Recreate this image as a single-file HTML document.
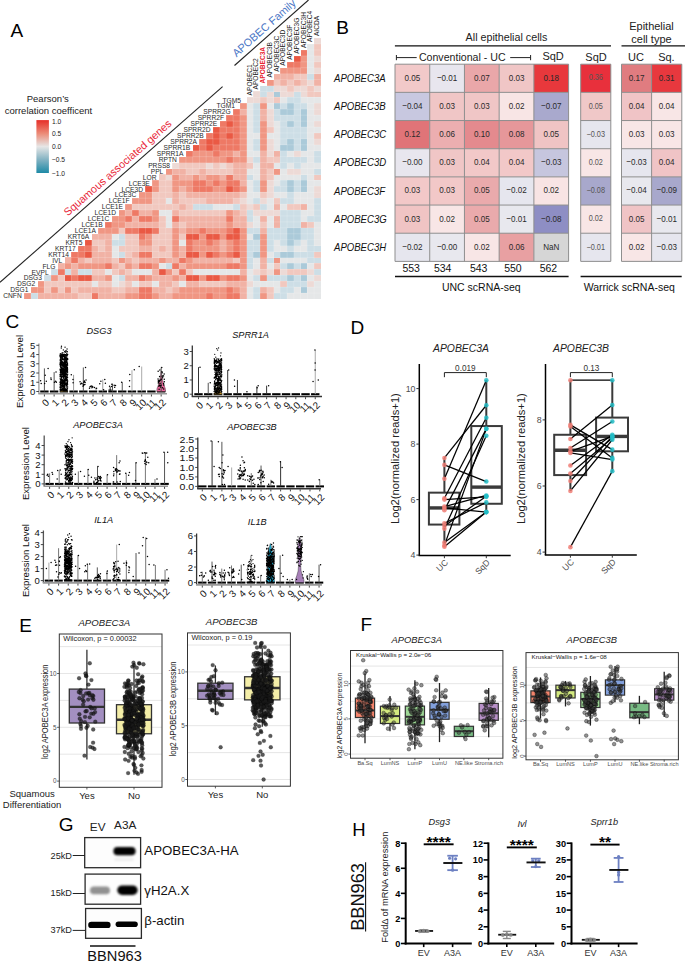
<!DOCTYPE html>
<html><head><meta charset="utf-8"><style>
html,body{margin:0;padding:0;background:#fff;}
svg{display:block;font-family:"Liberation Sans", sans-serif;}
</style></head><body>
<svg width="685" height="962" viewBox="0 0 685 962">
<rect width="685" height="962" fill="#fff"/>
<text x="10.60" y="36.70" font-size="19">A</text><g shape-rendering="crispEdges"><rect x="24.10" y="293.07" width="6.79" height="5.98" fill="#f09683"/><rect x="30.84" y="293.07" width="6.79" height="5.98" fill="#cddee6"/><rect x="37.59" y="293.07" width="6.79" height="5.98" fill="#f1b2a5"/><rect x="44.33" y="293.07" width="6.79" height="5.98" fill="#f1b2a5"/><rect x="51.07" y="293.07" width="6.79" height="5.98" fill="#f1b2a5"/><rect x="57.82" y="293.07" width="6.79" height="5.98" fill="#f1b2a5"/><rect x="64.56" y="293.07" width="6.79" height="5.98" fill="#f1b2a5"/><rect x="71.30" y="293.07" width="6.79" height="5.98" fill="#f1b2a5"/><rect x="78.04" y="293.07" width="6.79" height="5.98" fill="#f1c8bf"/><rect x="84.79" y="293.07" width="6.79" height="5.98" fill="#f1c8bf"/><rect x="91.53" y="293.07" width="6.79" height="5.98" fill="#ee7965"/><rect x="98.27" y="293.07" width="6.79" height="5.98" fill="#f1b2a5"/><rect x="105.02" y="293.07" width="6.79" height="5.98" fill="#f1b2a5"/><rect x="111.76" y="293.07" width="6.79" height="5.98" fill="#f1b2a5"/><rect x="118.50" y="293.07" width="6.79" height="5.98" fill="#f1b2a5"/><rect x="125.25" y="293.07" width="6.79" height="5.98" fill="#f09683"/><rect x="131.99" y="293.07" width="6.79" height="5.98" fill="#f09683"/><rect x="138.73" y="293.07" width="6.79" height="5.98" fill="#ee7965"/><rect x="145.47" y="293.07" width="6.79" height="5.98" fill="#ee7965"/><rect x="152.22" y="293.07" width="6.79" height="5.98" fill="#f09683"/><rect x="158.96" y="293.07" width="6.79" height="5.98" fill="#f1b2a5"/><rect x="165.70" y="293.07" width="6.79" height="5.98" fill="#f1b2a5"/><rect x="172.45" y="293.07" width="6.79" height="5.98" fill="#f09683"/><rect x="179.19" y="293.07" width="6.79" height="5.98" fill="#f09683"/><rect x="185.93" y="293.07" width="6.79" height="5.98" fill="#f09683"/><rect x="192.68" y="293.07" width="6.79" height="5.98" fill="#f09683"/><rect x="199.42" y="293.07" width="6.79" height="5.98" fill="#f09683"/><rect x="206.16" y="293.07" width="6.79" height="5.98" fill="#ee7965"/><rect x="212.90" y="293.07" width="6.79" height="5.98" fill="#f09683"/><rect x="219.65" y="293.07" width="6.79" height="5.98" fill="#f09683"/><rect x="226.39" y="293.07" width="6.79" height="5.98" fill="#ee7965"/><rect x="233.13" y="293.07" width="6.79" height="5.98" fill="#ee7965"/><rect x="239.88" y="293.07" width="6.79" height="5.98" fill="#f1b2a5"/><rect x="246.62" y="293.07" width="6.79" height="5.98" fill="#e5e7e8"/><rect x="253.36" y="293.07" width="6.79" height="5.98" fill="#cddee6"/><rect x="260.11" y="293.07" width="6.79" height="5.98" fill="#f09683"/><rect x="266.85" y="293.07" width="6.79" height="5.98" fill="#f1c8bf"/><rect x="273.59" y="293.07" width="6.79" height="5.98" fill="#cddee6"/><rect x="280.33" y="293.07" width="6.79" height="5.98" fill="#cddee6"/><rect x="287.08" y="293.07" width="6.79" height="5.98" fill="#e5e7e8"/><rect x="293.82" y="293.07" width="6.79" height="5.98" fill="#e5e7e8"/><rect x="300.56" y="293.07" width="6.79" height="5.98" fill="#e5e7e8"/><rect x="307.31" y="293.07" width="6.79" height="5.98" fill="#e5e7e8"/><rect x="314.05" y="293.07" width="6.79" height="5.98" fill="#e5e7e8"/><rect x="30.84" y="287.14" width="6.79" height="5.98" fill="#f09683"/><rect x="37.59" y="287.14" width="6.79" height="5.98" fill="#f09683"/><rect x="44.33" y="287.14" width="6.79" height="5.98" fill="#f1c8bf"/><rect x="51.07" y="287.14" width="6.79" height="5.98" fill="#f09683"/><rect x="57.82" y="287.14" width="6.79" height="5.98" fill="#f1c8bf"/><rect x="64.56" y="287.14" width="6.79" height="5.98" fill="#f09683"/><rect x="71.30" y="287.14" width="6.79" height="5.98" fill="#f1c8bf"/><rect x="78.04" y="287.14" width="6.79" height="5.98" fill="#f1b2a5"/><rect x="84.79" y="287.14" width="6.79" height="5.98" fill="#f1b2a5"/><rect x="91.53" y="287.14" width="6.79" height="5.98" fill="#f1b2a5"/><rect x="98.27" y="287.14" width="6.79" height="5.98" fill="#f1b2a5"/><rect x="105.02" y="287.14" width="6.79" height="5.98" fill="#f1b2a5"/><rect x="111.76" y="287.14" width="6.79" height="5.98" fill="#f1c8bf"/><rect x="118.50" y="287.14" width="6.79" height="5.98" fill="#f1c8bf"/><rect x="125.25" y="287.14" width="6.79" height="5.98" fill="#f1b2a5"/><rect x="131.99" y="287.14" width="6.79" height="5.98" fill="#f1b2a5"/><rect x="138.73" y="287.14" width="6.79" height="5.98" fill="#ee7965"/><rect x="145.47" y="287.14" width="6.79" height="5.98" fill="#ee7965"/><rect x="152.22" y="287.14" width="6.79" height="5.98" fill="#f1b2a5"/><rect x="158.96" y="287.14" width="6.79" height="5.98" fill="#f1b2a5"/><rect x="165.70" y="287.14" width="6.79" height="5.98" fill="#f1c8bf"/><rect x="172.45" y="287.14" width="6.79" height="5.98" fill="#f1b2a5"/><rect x="179.19" y="287.14" width="6.79" height="5.98" fill="#f09683"/><rect x="185.93" y="287.14" width="6.79" height="5.98" fill="#f09683"/><rect x="192.68" y="287.14" width="6.79" height="5.98" fill="#f09683"/><rect x="199.42" y="287.14" width="6.79" height="5.98" fill="#f09683"/><rect x="206.16" y="287.14" width="6.79" height="5.98" fill="#f09683"/><rect x="212.90" y="287.14" width="6.79" height="5.98" fill="#f09683"/><rect x="219.65" y="287.14" width="6.79" height="5.98" fill="#f09683"/><rect x="226.39" y="287.14" width="6.79" height="5.98" fill="#ee7965"/><rect x="233.13" y="287.14" width="6.79" height="5.98" fill="#f09683"/><rect x="239.88" y="287.14" width="6.79" height="5.98" fill="#f1b2a5"/><rect x="246.62" y="287.14" width="6.79" height="5.98" fill="#e5e7e8"/><rect x="253.36" y="287.14" width="6.79" height="5.98" fill="#cddee6"/><rect x="260.11" y="287.14" width="6.79" height="5.98" fill="#f1b2a5"/><rect x="266.85" y="287.14" width="6.79" height="5.98" fill="#f1c8bf"/><rect x="273.59" y="287.14" width="6.79" height="5.98" fill="#e5e7e8"/><rect x="280.33" y="287.14" width="6.79" height="5.98" fill="#cddee6"/><rect x="287.08" y="287.14" width="6.79" height="5.98" fill="#cddee6"/><rect x="293.82" y="287.14" width="6.79" height="5.98" fill="#e5e7e8"/><rect x="300.56" y="287.14" width="6.79" height="5.98" fill="#abcad9"/><rect x="307.31" y="287.14" width="6.79" height="5.98" fill="#e5e7e8"/><rect x="314.05" y="287.14" width="6.79" height="5.98" fill="#e5e7e8"/><rect x="37.59" y="281.21" width="6.79" height="5.98" fill="#f09683"/><rect x="44.33" y="281.21" width="6.79" height="5.98" fill="#f1c8bf"/><rect x="51.07" y="281.21" width="6.79" height="5.98" fill="#f1c8bf"/><rect x="57.82" y="281.21" width="6.79" height="5.98" fill="#f1c8bf"/><rect x="64.56" y="281.21" width="6.79" height="5.98" fill="#f1c8bf"/><rect x="71.30" y="281.21" width="6.79" height="5.98" fill="#f1c8bf"/><rect x="78.04" y="281.21" width="6.79" height="5.98" fill="#f1c8bf"/><rect x="84.79" y="281.21" width="6.79" height="5.98" fill="#f1c8bf"/><rect x="91.53" y="281.21" width="6.79" height="5.98" fill="#e5e7e8"/><rect x="98.27" y="281.21" width="6.79" height="5.98" fill="#f1c8bf"/><rect x="105.02" y="281.21" width="6.79" height="5.98" fill="#f1c8bf"/><rect x="111.76" y="281.21" width="6.79" height="5.98" fill="#e5e7e8"/><rect x="118.50" y="281.21" width="6.79" height="5.98" fill="#eddad6"/><rect x="125.25" y="281.21" width="6.79" height="5.98" fill="#f1c8bf"/><rect x="131.99" y="281.21" width="6.79" height="5.98" fill="#e5e7e8"/><rect x="138.73" y="281.21" width="6.79" height="5.98" fill="#f1c8bf"/><rect x="145.47" y="281.21" width="6.79" height="5.98" fill="#f1c8bf"/><rect x="152.22" y="281.21" width="6.79" height="5.98" fill="#e5e7e8"/><rect x="158.96" y="281.21" width="6.79" height="5.98" fill="#f1b2a5"/><rect x="165.70" y="281.21" width="6.79" height="5.98" fill="#f1b2a5"/><rect x="172.45" y="281.21" width="6.79" height="5.98" fill="#f1c8bf"/><rect x="179.19" y="281.21" width="6.79" height="5.98" fill="#e5e7e8"/><rect x="185.93" y="281.21" width="6.79" height="5.98" fill="#f1b2a5"/><rect x="192.68" y="281.21" width="6.79" height="5.98" fill="#f1b2a5"/><rect x="199.42" y="281.21" width="6.79" height="5.98" fill="#f1c8bf"/><rect x="206.16" y="281.21" width="6.79" height="5.98" fill="#f1c8bf"/><rect x="212.90" y="281.21" width="6.79" height="5.98" fill="#f1c8bf"/><rect x="219.65" y="281.21" width="6.79" height="5.98" fill="#f1c8bf"/><rect x="226.39" y="281.21" width="6.79" height="5.98" fill="#f1b2a5"/><rect x="233.13" y="281.21" width="6.79" height="5.98" fill="#f1b2a5"/><rect x="239.88" y="281.21" width="6.79" height="5.98" fill="#f1b2a5"/><rect x="246.62" y="281.21" width="6.79" height="5.98" fill="#eddad6"/><rect x="253.36" y="281.21" width="6.79" height="5.98" fill="#e5e7e8"/><rect x="260.11" y="281.21" width="6.79" height="5.98" fill="#e5e7e8"/><rect x="266.85" y="281.21" width="6.79" height="5.98" fill="#e5e7e8"/><rect x="273.59" y="281.21" width="6.79" height="5.98" fill="#e5e7e8"/><rect x="280.33" y="281.21" width="6.79" height="5.98" fill="#f1c8bf"/><rect x="287.08" y="281.21" width="6.79" height="5.98" fill="#cddee6"/><rect x="293.82" y="281.21" width="6.79" height="5.98" fill="#cddee6"/><rect x="300.56" y="281.21" width="6.79" height="5.98" fill="#cddee6"/><rect x="307.31" y="281.21" width="6.79" height="5.98" fill="#eddad6"/><rect x="314.05" y="281.21" width="6.79" height="5.98" fill="#e5e7e8"/><rect x="44.33" y="275.28" width="6.79" height="5.98" fill="#cddee6"/><rect x="51.07" y="275.28" width="6.79" height="5.98" fill="#f09683"/><rect x="57.82" y="275.28" width="6.79" height="5.98" fill="#f1c8bf"/><rect x="64.56" y="275.28" width="6.79" height="5.98" fill="#ea5944"/><rect x="71.30" y="275.28" width="6.79" height="5.98" fill="#ee7965"/><rect x="78.04" y="275.28" width="6.79" height="5.98" fill="#ea5944"/><rect x="84.79" y="275.28" width="6.79" height="5.98" fill="#ea5944"/><rect x="91.53" y="275.28" width="6.79" height="5.98" fill="#f1b2a5"/><rect x="98.27" y="275.28" width="6.79" height="5.98" fill="#f1b2a5"/><rect x="105.02" y="275.28" width="6.79" height="5.98" fill="#f09683"/><rect x="111.76" y="275.28" width="6.79" height="5.98" fill="#e5e7e8"/><rect x="118.50" y="275.28" width="6.79" height="5.98" fill="#cddee6"/><rect x="125.25" y="275.28" width="6.79" height="5.98" fill="#f1b2a5"/><rect x="131.99" y="275.28" width="6.79" height="5.98" fill="#f1b2a5"/><rect x="138.73" y="275.28" width="6.79" height="5.98" fill="#ee7965"/><rect x="145.47" y="275.28" width="6.79" height="5.98" fill="#f09683"/><rect x="152.22" y="275.28" width="6.79" height="5.98" fill="#f1b2a5"/><rect x="158.96" y="275.28" width="6.79" height="5.98" fill="#f1b2a5"/><rect x="165.70" y="275.28" width="6.79" height="5.98" fill="#f1b2a5"/><rect x="172.45" y="275.28" width="6.79" height="5.98" fill="#f09683"/><rect x="179.19" y="275.28" width="6.79" height="5.98" fill="#f1b2a5"/><rect x="185.93" y="275.28" width="6.79" height="5.98" fill="#ea5944"/><rect x="192.68" y="275.28" width="6.79" height="5.98" fill="#ea5944"/><rect x="199.42" y="275.28" width="6.79" height="5.98" fill="#f09683"/><rect x="206.16" y="275.28" width="6.79" height="5.98" fill="#ea5944"/><rect x="212.90" y="275.28" width="6.79" height="5.98" fill="#ea5944"/><rect x="219.65" y="275.28" width="6.79" height="5.98" fill="#f09683"/><rect x="226.39" y="275.28" width="6.79" height="5.98" fill="#ee7965"/><rect x="233.13" y="275.28" width="6.79" height="5.98" fill="#ee7965"/><rect x="239.88" y="275.28" width="6.79" height="5.98" fill="#f09683"/><rect x="246.62" y="275.28" width="6.79" height="5.98" fill="#e5e7e8"/><rect x="253.36" y="275.28" width="6.79" height="5.98" fill="#cddee6"/><rect x="260.11" y="275.28" width="6.79" height="5.98" fill="#f09683"/><rect x="266.85" y="275.28" width="6.79" height="5.98" fill="#cddee6"/><rect x="273.59" y="275.28" width="6.79" height="5.98" fill="#cddee6"/><rect x="280.33" y="275.28" width="6.79" height="5.98" fill="#cddee6"/><rect x="287.08" y="275.28" width="6.79" height="5.98" fill="#abcad9"/><rect x="293.82" y="275.28" width="6.79" height="5.98" fill="#cddee6"/><rect x="300.56" y="275.28" width="6.79" height="5.98" fill="#abcad9"/><rect x="307.31" y="275.28" width="6.79" height="5.98" fill="#e5e7e8"/><rect x="314.05" y="275.28" width="6.79" height="5.98" fill="#eddad6"/><rect x="51.07" y="269.35" width="6.79" height="5.98" fill="#cddee6"/><rect x="57.82" y="269.35" width="6.79" height="5.98" fill="#ee7965"/><rect x="64.56" y="269.35" width="6.79" height="5.98" fill="#cddee6"/><rect x="71.30" y="269.35" width="6.79" height="5.98" fill="#f1b2a5"/><rect x="78.04" y="269.35" width="6.79" height="5.98" fill="#cddee6"/><rect x="84.79" y="269.35" width="6.79" height="5.98" fill="#cddee6"/><rect x="91.53" y="269.35" width="6.79" height="5.98" fill="#f1c8bf"/><rect x="98.27" y="269.35" width="6.79" height="5.98" fill="#f1c8bf"/><rect x="105.02" y="269.35" width="6.79" height="5.98" fill="#e5e7e8"/><rect x="111.76" y="269.35" width="6.79" height="5.98" fill="#f1c8bf"/><rect x="118.50" y="269.35" width="6.79" height="5.98" fill="#f1b2a5"/><rect x="125.25" y="269.35" width="6.79" height="5.98" fill="#f1c8bf"/><rect x="131.99" y="269.35" width="6.79" height="5.98" fill="#e5e7e8"/><rect x="138.73" y="269.35" width="6.79" height="5.98" fill="#e5e7e8"/><rect x="145.47" y="269.35" width="6.79" height="5.98" fill="#e5e7e8"/><rect x="152.22" y="269.35" width="6.79" height="5.98" fill="#f1b2a5"/><rect x="158.96" y="269.35" width="6.79" height="5.98" fill="#ea5944"/><rect x="165.70" y="269.35" width="6.79" height="5.98" fill="#f09683"/><rect x="172.45" y="269.35" width="6.79" height="5.98" fill="#f1c8bf"/><rect x="179.19" y="269.35" width="6.79" height="5.98" fill="#ee7965"/><rect x="185.93" y="269.35" width="6.79" height="5.98" fill="#f1c8bf"/><rect x="192.68" y="269.35" width="6.79" height="5.98" fill="#e5e7e8"/><rect x="199.42" y="269.35" width="6.79" height="5.98" fill="#e5e7e8"/><rect x="206.16" y="269.35" width="6.79" height="5.98" fill="#e5e7e8"/><rect x="212.90" y="269.35" width="6.79" height="5.98" fill="#e5e7e8"/><rect x="219.65" y="269.35" width="6.79" height="5.98" fill="#e5e7e8"/><rect x="226.39" y="269.35" width="6.79" height="5.98" fill="#e5e7e8"/><rect x="233.13" y="269.35" width="6.79" height="5.98" fill="#e5e7e8"/><rect x="239.88" y="269.35" width="6.79" height="5.98" fill="#f1b2a5"/><rect x="246.62" y="269.35" width="6.79" height="5.98" fill="#e5e7e8"/><rect x="253.36" y="269.35" width="6.79" height="5.98" fill="#eddad6"/><rect x="260.11" y="269.35" width="6.79" height="5.98" fill="#f1c8bf"/><rect x="266.85" y="269.35" width="6.79" height="5.98" fill="#eddad6"/><rect x="273.59" y="269.35" width="6.79" height="5.98" fill="#f09683"/><rect x="280.33" y="269.35" width="6.79" height="5.98" fill="#eddad6"/><rect x="287.08" y="269.35" width="6.79" height="5.98" fill="#f1c8bf"/><rect x="293.82" y="269.35" width="6.79" height="5.98" fill="#f1c8bf"/><rect x="300.56" y="269.35" width="6.79" height="5.98" fill="#f1c8bf"/><rect x="307.31" y="269.35" width="6.79" height="5.98" fill="#eddad6"/><rect x="314.05" y="269.35" width="6.79" height="5.98" fill="#cddee6"/><rect x="57.82" y="263.42" width="6.79" height="5.98" fill="#f1b2a5"/><rect x="64.56" y="263.42" width="6.79" height="5.98" fill="#f09683"/><rect x="71.30" y="263.42" width="6.79" height="5.98" fill="#f1b2a5"/><rect x="78.04" y="263.42" width="6.79" height="5.98" fill="#f09683"/><rect x="84.79" y="263.42" width="6.79" height="5.98" fill="#f09683"/><rect x="91.53" y="263.42" width="6.79" height="5.98" fill="#f09683"/><rect x="98.27" y="263.42" width="6.79" height="5.98" fill="#f09683"/><rect x="105.02" y="263.42" width="6.79" height="5.98" fill="#ee7965"/><rect x="111.76" y="263.42" width="6.79" height="5.98" fill="#f1b2a5"/><rect x="118.50" y="263.42" width="6.79" height="5.98" fill="#f1c8bf"/><rect x="125.25" y="263.42" width="6.79" height="5.98" fill="#f09683"/><rect x="131.99" y="263.42" width="6.79" height="5.98" fill="#f1b2a5"/><rect x="138.73" y="263.42" width="6.79" height="5.98" fill="#ee7965"/><rect x="145.47" y="263.42" width="6.79" height="5.98" fill="#ee7965"/><rect x="152.22" y="263.42" width="6.79" height="5.98" fill="#f09683"/><rect x="158.96" y="263.42" width="6.79" height="5.98" fill="#e5e7e8"/><rect x="165.70" y="263.42" width="6.79" height="5.98" fill="#cddee6"/><rect x="172.45" y="263.42" width="6.79" height="5.98" fill="#ee7965"/><rect x="179.19" y="263.42" width="6.79" height="5.98" fill="#f1b2a5"/><rect x="185.93" y="263.42" width="6.79" height="5.98" fill="#f09683"/><rect x="192.68" y="263.42" width="6.79" height="5.98" fill="#f09683"/><rect x="199.42" y="263.42" width="6.79" height="5.98" fill="#f09683"/><rect x="206.16" y="263.42" width="6.79" height="5.98" fill="#f09683"/><rect x="212.90" y="263.42" width="6.79" height="5.98" fill="#f09683"/><rect x="219.65" y="263.42" width="6.79" height="5.98" fill="#f09683"/><rect x="226.39" y="263.42" width="6.79" height="5.98" fill="#ee7965"/><rect x="233.13" y="263.42" width="6.79" height="5.98" fill="#ee7965"/><rect x="239.88" y="263.42" width="6.79" height="5.98" fill="#f09683"/><rect x="246.62" y="263.42" width="6.79" height="5.98" fill="#cddee6"/><rect x="253.36" y="263.42" width="6.79" height="5.98" fill="#e5e7e8"/><rect x="260.11" y="263.42" width="6.79" height="5.98" fill="#f1b2a5"/><rect x="266.85" y="263.42" width="6.79" height="5.98" fill="#e5e7e8"/><rect x="273.59" y="263.42" width="6.79" height="5.98" fill="#f1c8bf"/><rect x="280.33" y="263.42" width="6.79" height="5.98" fill="#cddee6"/><rect x="287.08" y="263.42" width="6.79" height="5.98" fill="#abcad9"/><rect x="293.82" y="263.42" width="6.79" height="5.98" fill="#cddee6"/><rect x="300.56" y="263.42" width="6.79" height="5.98" fill="#abcad9"/><rect x="307.31" y="263.42" width="6.79" height="5.98" fill="#e5e7e8"/><rect x="314.05" y="263.42" width="6.79" height="5.98" fill="#f1c8bf"/><rect x="64.56" y="257.49" width="6.79" height="5.98" fill="#f1b2a5"/><rect x="71.30" y="257.49" width="6.79" height="5.98" fill="#ee7965"/><rect x="78.04" y="257.49" width="6.79" height="5.98" fill="#f1b2a5"/><rect x="84.79" y="257.49" width="6.79" height="5.98" fill="#f1c8bf"/><rect x="91.53" y="257.49" width="6.79" height="5.98" fill="#f1b2a5"/><rect x="98.27" y="257.49" width="6.79" height="5.98" fill="#f1b2a5"/><rect x="105.02" y="257.49" width="6.79" height="5.98" fill="#f1b2a5"/><rect x="111.76" y="257.49" width="6.79" height="5.98" fill="#f1c8bf"/><rect x="118.50" y="257.49" width="6.79" height="5.98" fill="#f09683"/><rect x="125.25" y="257.49" width="6.79" height="5.98" fill="#f1b2a5"/><rect x="131.99" y="257.49" width="6.79" height="5.98" fill="#f1c8bf"/><rect x="138.73" y="257.49" width="6.79" height="5.98" fill="#f1b2a5"/><rect x="145.47" y="257.49" width="6.79" height="5.98" fill="#f1b2a5"/><rect x="152.22" y="257.49" width="6.79" height="5.98" fill="#f1b2a5"/><rect x="158.96" y="257.49" width="6.79" height="5.98" fill="#f09683"/><rect x="165.70" y="257.49" width="6.79" height="5.98" fill="#f1b2a5"/><rect x="172.45" y="257.49" width="6.79" height="5.98" fill="#f1b2a5"/><rect x="179.19" y="257.49" width="6.79" height="5.98" fill="#ee7965"/><rect x="185.93" y="257.49" width="6.79" height="5.98" fill="#f09683"/><rect x="192.68" y="257.49" width="6.79" height="5.98" fill="#f1b2a5"/><rect x="199.42" y="257.49" width="6.79" height="5.98" fill="#f1b2a5"/><rect x="206.16" y="257.49" width="6.79" height="5.98" fill="#f1b2a5"/><rect x="212.90" y="257.49" width="6.79" height="5.98" fill="#f1b2a5"/><rect x="219.65" y="257.49" width="6.79" height="5.98" fill="#f1b2a5"/><rect x="226.39" y="257.49" width="6.79" height="5.98" fill="#f1b2a5"/><rect x="233.13" y="257.49" width="6.79" height="5.98" fill="#f1c8bf"/><rect x="239.88" y="257.49" width="6.79" height="5.98" fill="#f09683"/><rect x="246.62" y="257.49" width="6.79" height="5.98" fill="#cddee6"/><rect x="253.36" y="257.49" width="6.79" height="5.98" fill="#e5e7e8"/><rect x="260.11" y="257.49" width="6.79" height="5.98" fill="#f1b2a5"/><rect x="266.85" y="257.49" width="6.79" height="5.98" fill="#cddee6"/><rect x="273.59" y="257.49" width="6.79" height="5.98" fill="#f09683"/><rect x="280.33" y="257.49" width="6.79" height="5.98" fill="#e5e7e8"/><rect x="287.08" y="257.49" width="6.79" height="5.98" fill="#e5e7e8"/><rect x="293.82" y="257.49" width="6.79" height="5.98" fill="#e5e7e8"/><rect x="300.56" y="257.49" width="6.79" height="5.98" fill="#e5e7e8"/><rect x="307.31" y="257.49" width="6.79" height="5.98" fill="#cddee6"/><rect x="314.05" y="257.49" width="6.79" height="5.98" fill="#cddee6"/><rect x="71.30" y="251.56" width="6.79" height="5.98" fill="#ee7965"/><rect x="78.04" y="251.56" width="6.79" height="5.98" fill="#ee7965"/><rect x="84.79" y="251.56" width="6.79" height="5.98" fill="#ea5944"/><rect x="91.53" y="251.56" width="6.79" height="5.98" fill="#f1b2a5"/><rect x="98.27" y="251.56" width="6.79" height="5.98" fill="#f1b2a5"/><rect x="105.02" y="251.56" width="6.79" height="5.98" fill="#f1b2a5"/><rect x="111.76" y="251.56" width="6.79" height="5.98" fill="#e5e7e8"/><rect x="118.50" y="251.56" width="6.79" height="5.98" fill="#cddee6"/><rect x="125.25" y="251.56" width="6.79" height="5.98" fill="#f1c8bf"/><rect x="131.99" y="251.56" width="6.79" height="5.98" fill="#f1b2a5"/><rect x="138.73" y="251.56" width="6.79" height="5.98" fill="#ee7965"/><rect x="145.47" y="251.56" width="6.79" height="5.98" fill="#ee7965"/><rect x="152.22" y="251.56" width="6.79" height="5.98" fill="#f1c8bf"/><rect x="158.96" y="251.56" width="6.79" height="5.98" fill="#f1c8bf"/><rect x="165.70" y="251.56" width="6.79" height="5.98" fill="#f1c8bf"/><rect x="172.45" y="251.56" width="6.79" height="5.98" fill="#f09683"/><rect x="179.19" y="251.56" width="6.79" height="5.98" fill="#f1b2a5"/><rect x="185.93" y="251.56" width="6.79" height="5.98" fill="#ea5944"/><rect x="192.68" y="251.56" width="6.79" height="5.98" fill="#ea5944"/><rect x="199.42" y="251.56" width="6.79" height="5.98" fill="#f09683"/><rect x="206.16" y="251.56" width="6.79" height="5.98" fill="#ea5944"/><rect x="212.90" y="251.56" width="6.79" height="5.98" fill="#ee7965"/><rect x="219.65" y="251.56" width="6.79" height="5.98" fill="#f09683"/><rect x="226.39" y="251.56" width="6.79" height="5.98" fill="#ee7965"/><rect x="233.13" y="251.56" width="6.79" height="5.98" fill="#ea5944"/><rect x="239.88" y="251.56" width="6.79" height="5.98" fill="#f09683"/><rect x="246.62" y="251.56" width="6.79" height="5.98" fill="#cddee6"/><rect x="253.36" y="251.56" width="6.79" height="5.98" fill="#abcad9"/><rect x="260.11" y="251.56" width="6.79" height="5.98" fill="#f09683"/><rect x="266.85" y="251.56" width="6.79" height="5.98" fill="#e5e7e8"/><rect x="273.59" y="251.56" width="6.79" height="5.98" fill="#cddee6"/><rect x="280.33" y="251.56" width="6.79" height="5.98" fill="#abcad9"/><rect x="287.08" y="251.56" width="6.79" height="5.98" fill="#abcad9"/><rect x="293.82" y="251.56" width="6.79" height="5.98" fill="#cddee6"/><rect x="300.56" y="251.56" width="6.79" height="5.98" fill="#cddee6"/><rect x="307.31" y="251.56" width="6.79" height="5.98" fill="#cddee6"/><rect x="314.05" y="251.56" width="6.79" height="5.98" fill="#f1c8bf"/><rect x="78.04" y="245.63" width="6.79" height="5.98" fill="#ee7965"/><rect x="84.79" y="245.63" width="6.79" height="5.98" fill="#ee7965"/><rect x="91.53" y="245.63" width="6.79" height="5.98" fill="#f1b2a5"/><rect x="98.27" y="245.63" width="6.79" height="5.98" fill="#f1c8bf"/><rect x="105.02" y="245.63" width="6.79" height="5.98" fill="#f1b2a5"/><rect x="111.76" y="245.63" width="6.79" height="5.98" fill="#e5e7e8"/><rect x="118.50" y="245.63" width="6.79" height="5.98" fill="#f1c8bf"/><rect x="125.25" y="245.63" width="6.79" height="5.98" fill="#f1c8bf"/><rect x="131.99" y="245.63" width="6.79" height="5.98" fill="#f1c8bf"/><rect x="138.73" y="245.63" width="6.79" height="5.98" fill="#f1b2a5"/><rect x="145.47" y="245.63" width="6.79" height="5.98" fill="#f1b2a5"/><rect x="152.22" y="245.63" width="6.79" height="5.98" fill="#f1c8bf"/><rect x="158.96" y="245.63" width="6.79" height="5.98" fill="#f1b2a5"/><rect x="165.70" y="245.63" width="6.79" height="5.98" fill="#f1c8bf"/><rect x="172.45" y="245.63" width="6.79" height="5.98" fill="#f09683"/><rect x="179.19" y="245.63" width="6.79" height="5.98" fill="#f1b2a5"/><rect x="185.93" y="245.63" width="6.79" height="5.98" fill="#ee7965"/><rect x="192.68" y="245.63" width="6.79" height="5.98" fill="#f09683"/><rect x="199.42" y="245.63" width="6.79" height="5.98" fill="#f09683"/><rect x="206.16" y="245.63" width="6.79" height="5.98" fill="#f09683"/><rect x="212.90" y="245.63" width="6.79" height="5.98" fill="#f09683"/><rect x="219.65" y="245.63" width="6.79" height="5.98" fill="#f1b2a5"/><rect x="226.39" y="245.63" width="6.79" height="5.98" fill="#f09683"/><rect x="233.13" y="245.63" width="6.79" height="5.98" fill="#ee7965"/><rect x="239.88" y="245.63" width="6.79" height="5.98" fill="#f09683"/><rect x="246.62" y="245.63" width="6.79" height="5.98" fill="#cddee6"/><rect x="253.36" y="245.63" width="6.79" height="5.98" fill="#cddee6"/><rect x="260.11" y="245.63" width="6.79" height="5.98" fill="#f09683"/><rect x="266.85" y="245.63" width="6.79" height="5.98" fill="#cddee6"/><rect x="273.59" y="245.63" width="6.79" height="5.98" fill="#e5e7e8"/><rect x="280.33" y="245.63" width="6.79" height="5.98" fill="#e5e7e8"/><rect x="287.08" y="245.63" width="6.79" height="5.98" fill="#cddee6"/><rect x="293.82" y="245.63" width="6.79" height="5.98" fill="#e5e7e8"/><rect x="300.56" y="245.63" width="6.79" height="5.98" fill="#e5e7e8"/><rect x="307.31" y="245.63" width="6.79" height="5.98" fill="#cddee6"/><rect x="314.05" y="245.63" width="6.79" height="5.98" fill="#cddee6"/><rect x="84.79" y="239.70" width="6.79" height="5.98" fill="#ea5944"/><rect x="91.53" y="239.70" width="6.79" height="5.98" fill="#f1c8bf"/><rect x="98.27" y="239.70" width="6.79" height="5.98" fill="#f1c8bf"/><rect x="105.02" y="239.70" width="6.79" height="5.98" fill="#f1b2a5"/><rect x="111.76" y="239.70" width="6.79" height="5.98" fill="#cddee6"/><rect x="118.50" y="239.70" width="6.79" height="5.98" fill="#cddee6"/><rect x="125.25" y="239.70" width="6.79" height="5.98" fill="#f1c8bf"/><rect x="131.99" y="239.70" width="6.79" height="5.98" fill="#f1c8bf"/><rect x="138.73" y="239.70" width="6.79" height="5.98" fill="#f09683"/><rect x="145.47" y="239.70" width="6.79" height="5.98" fill="#f09683"/><rect x="152.22" y="239.70" width="6.79" height="5.98" fill="#f1c8bf"/><rect x="158.96" y="239.70" width="6.79" height="5.98" fill="#f1c8bf"/><rect x="165.70" y="239.70" width="6.79" height="5.98" fill="#f1c8bf"/><rect x="172.45" y="239.70" width="6.79" height="5.98" fill="#f09683"/><rect x="179.19" y="239.70" width="6.79" height="5.98" fill="#e5e7e8"/><rect x="185.93" y="239.70" width="6.79" height="5.98" fill="#ee7965"/><rect x="192.68" y="239.70" width="6.79" height="5.98" fill="#f09683"/><rect x="199.42" y="239.70" width="6.79" height="5.98" fill="#f09683"/><rect x="206.16" y="239.70" width="6.79" height="5.98" fill="#ee7965"/><rect x="212.90" y="239.70" width="6.79" height="5.98" fill="#f09683"/><rect x="219.65" y="239.70" width="6.79" height="5.98" fill="#f1b2a5"/><rect x="226.39" y="239.70" width="6.79" height="5.98" fill="#f09683"/><rect x="233.13" y="239.70" width="6.79" height="5.98" fill="#ee7965"/><rect x="239.88" y="239.70" width="6.79" height="5.98" fill="#f09683"/><rect x="246.62" y="239.70" width="6.79" height="5.98" fill="#cddee6"/><rect x="253.36" y="239.70" width="6.79" height="5.98" fill="#cddee6"/><rect x="260.11" y="239.70" width="6.79" height="5.98" fill="#f09683"/><rect x="266.85" y="239.70" width="6.79" height="5.98" fill="#cddee6"/><rect x="273.59" y="239.70" width="6.79" height="5.98" fill="#e5e7e8"/><rect x="280.33" y="239.70" width="6.79" height="5.98" fill="#cddee6"/><rect x="287.08" y="239.70" width="6.79" height="5.98" fill="#abcad9"/><rect x="293.82" y="239.70" width="6.79" height="5.98" fill="#cddee6"/><rect x="300.56" y="239.70" width="6.79" height="5.98" fill="#e5e7e8"/><rect x="307.31" y="239.70" width="6.79" height="5.98" fill="#cddee6"/><rect x="314.05" y="239.70" width="6.79" height="5.98" fill="#e5e7e8"/><rect x="91.53" y="233.77" width="6.79" height="5.98" fill="#f1b2a5"/><rect x="98.27" y="233.77" width="6.79" height="5.98" fill="#f1b2a5"/><rect x="105.02" y="233.77" width="6.79" height="5.98" fill="#f1b2a5"/><rect x="111.76" y="233.77" width="6.79" height="5.98" fill="#e5e7e8"/><rect x="118.50" y="233.77" width="6.79" height="5.98" fill="#cddee6"/><rect x="125.25" y="233.77" width="6.79" height="5.98" fill="#f1c8bf"/><rect x="131.99" y="233.77" width="6.79" height="5.98" fill="#f1c8bf"/><rect x="138.73" y="233.77" width="6.79" height="5.98" fill="#ee7965"/><rect x="145.47" y="233.77" width="6.79" height="5.98" fill="#f09683"/><rect x="152.22" y="233.77" width="6.79" height="5.98" fill="#f1c8bf"/><rect x="158.96" y="233.77" width="6.79" height="5.98" fill="#f1c8bf"/><rect x="165.70" y="233.77" width="6.79" height="5.98" fill="#f1c8bf"/><rect x="172.45" y="233.77" width="6.79" height="5.98" fill="#f09683"/><rect x="179.19" y="233.77" width="6.79" height="5.98" fill="#f1c8bf"/><rect x="185.93" y="233.77" width="6.79" height="5.98" fill="#ea5944"/><rect x="192.68" y="233.77" width="6.79" height="5.98" fill="#ea5944"/><rect x="199.42" y="233.77" width="6.79" height="5.98" fill="#f09683"/><rect x="206.16" y="233.77" width="6.79" height="5.98" fill="#ea5944"/><rect x="212.90" y="233.77" width="6.79" height="5.98" fill="#ea5944"/><rect x="219.65" y="233.77" width="6.79" height="5.98" fill="#f09683"/><rect x="226.39" y="233.77" width="6.79" height="5.98" fill="#ea5944"/><rect x="233.13" y="233.77" width="6.79" height="5.98" fill="#ea5944"/><rect x="239.88" y="233.77" width="6.79" height="5.98" fill="#f09683"/><rect x="246.62" y="233.77" width="6.79" height="5.98" fill="#e5e7e8"/><rect x="253.36" y="233.77" width="6.79" height="5.98" fill="#abcad9"/><rect x="260.11" y="233.77" width="6.79" height="5.98" fill="#f09683"/><rect x="266.85" y="233.77" width="6.79" height="5.98" fill="#cddee6"/><rect x="273.59" y="233.77" width="6.79" height="5.98" fill="#cddee6"/><rect x="280.33" y="233.77" width="6.79" height="5.98" fill="#cddee6"/><rect x="287.08" y="233.77" width="6.79" height="5.98" fill="#abcad9"/><rect x="293.82" y="233.77" width="6.79" height="5.98" fill="#abcad9"/><rect x="300.56" y="233.77" width="6.79" height="5.98" fill="#cddee6"/><rect x="307.31" y="233.77" width="6.79" height="5.98" fill="#cddee6"/><rect x="314.05" y="233.77" width="6.79" height="5.98" fill="#e5e7e8"/><rect x="98.27" y="227.84" width="6.79" height="5.98" fill="#f09683"/><rect x="105.02" y="227.84" width="6.79" height="5.98" fill="#f09683"/><rect x="111.76" y="227.84" width="6.79" height="5.98" fill="#f09683"/><rect x="118.50" y="227.84" width="6.79" height="5.98" fill="#f1c8bf"/><rect x="125.25" y="227.84" width="6.79" height="5.98" fill="#ee7965"/><rect x="131.99" y="227.84" width="6.79" height="5.98" fill="#ee7965"/><rect x="138.73" y="227.84" width="6.79" height="5.98" fill="#ea5944"/><rect x="145.47" y="227.84" width="6.79" height="5.98" fill="#ea5944"/><rect x="152.22" y="227.84" width="6.79" height="5.98" fill="#ee7965"/><rect x="158.96" y="227.84" width="6.79" height="5.98" fill="#f1c8bf"/><rect x="165.70" y="227.84" width="6.79" height="5.98" fill="#f1c8bf"/><rect x="172.45" y="227.84" width="6.79" height="5.98" fill="#f09683"/><rect x="179.19" y="227.84" width="6.79" height="5.98" fill="#f1b2a5"/><rect x="185.93" y="227.84" width="6.79" height="5.98" fill="#f09683"/><rect x="192.68" y="227.84" width="6.79" height="5.98" fill="#f09683"/><rect x="199.42" y="227.84" width="6.79" height="5.98" fill="#ee7965"/><rect x="206.16" y="227.84" width="6.79" height="5.98" fill="#f09683"/><rect x="212.90" y="227.84" width="6.79" height="5.98" fill="#f09683"/><rect x="219.65" y="227.84" width="6.79" height="5.98" fill="#f09683"/><rect x="226.39" y="227.84" width="6.79" height="5.98" fill="#ee7965"/><rect x="233.13" y="227.84" width="6.79" height="5.98" fill="#ea5944"/><rect x="239.88" y="227.84" width="6.79" height="5.98" fill="#f09683"/><rect x="246.62" y="227.84" width="6.79" height="5.98" fill="#cddee6"/><rect x="253.36" y="227.84" width="6.79" height="5.98" fill="#cddee6"/><rect x="260.11" y="227.84" width="6.79" height="5.98" fill="#f1b2a5"/><rect x="266.85" y="227.84" width="6.79" height="5.98" fill="#cddee6"/><rect x="273.59" y="227.84" width="6.79" height="5.98" fill="#cddee6"/><rect x="280.33" y="227.84" width="6.79" height="5.98" fill="#cddee6"/><rect x="287.08" y="227.84" width="6.79" height="5.98" fill="#abcad9"/><rect x="293.82" y="227.84" width="6.79" height="5.98" fill="#abcad9"/><rect x="300.56" y="227.84" width="6.79" height="5.98" fill="#cddee6"/><rect x="307.31" y="227.84" width="6.79" height="5.98" fill="#cddee6"/><rect x="314.05" y="227.84" width="6.79" height="5.98" fill="#e5e7e8"/><rect x="105.02" y="221.91" width="6.79" height="5.98" fill="#ee7965"/><rect x="111.76" y="221.91" width="6.79" height="5.98" fill="#f09683"/><rect x="118.50" y="221.91" width="6.79" height="5.98" fill="#f09683"/><rect x="125.25" y="221.91" width="6.79" height="5.98" fill="#f1b2a5"/><rect x="131.99" y="221.91" width="6.79" height="5.98" fill="#f1b2a5"/><rect x="138.73" y="221.91" width="6.79" height="5.98" fill="#f1b2a5"/><rect x="145.47" y="221.91" width="6.79" height="5.98" fill="#f1b2a5"/><rect x="152.22" y="221.91" width="6.79" height="5.98" fill="#f1b2a5"/><rect x="158.96" y="221.91" width="6.79" height="5.98" fill="#f1c8bf"/><rect x="165.70" y="221.91" width="6.79" height="5.98" fill="#e5e7e8"/><rect x="172.45" y="221.91" width="6.79" height="5.98" fill="#f1b2a5"/><rect x="179.19" y="221.91" width="6.79" height="5.98" fill="#f1c8bf"/><rect x="185.93" y="221.91" width="6.79" height="5.98" fill="#f1b2a5"/><rect x="192.68" y="221.91" width="6.79" height="5.98" fill="#f1b2a5"/><rect x="199.42" y="221.91" width="6.79" height="5.98" fill="#f1b2a5"/><rect x="206.16" y="221.91" width="6.79" height="5.98" fill="#f1b2a5"/><rect x="212.90" y="221.91" width="6.79" height="5.98" fill="#f1b2a5"/><rect x="219.65" y="221.91" width="6.79" height="5.98" fill="#f1b2a5"/><rect x="226.39" y="221.91" width="6.79" height="5.98" fill="#f09683"/><rect x="233.13" y="221.91" width="6.79" height="5.98" fill="#f1b2a5"/><rect x="239.88" y="221.91" width="6.79" height="5.98" fill="#f1b2a5"/><rect x="246.62" y="221.91" width="6.79" height="5.98" fill="#eddad6"/><rect x="253.36" y="221.91" width="6.79" height="5.98" fill="#e5e7e8"/><rect x="260.11" y="221.91" width="6.79" height="5.98" fill="#f1c8bf"/><rect x="266.85" y="221.91" width="6.79" height="5.98" fill="#e5e7e8"/><rect x="273.59" y="221.91" width="6.79" height="5.98" fill="#f1b2a5"/><rect x="280.33" y="221.91" width="6.79" height="5.98" fill="#cddee6"/><rect x="287.08" y="221.91" width="6.79" height="5.98" fill="#cddee6"/><rect x="293.82" y="221.91" width="6.79" height="5.98" fill="#cddee6"/><rect x="300.56" y="221.91" width="6.79" height="5.98" fill="#f1b2a5"/><rect x="307.31" y="221.91" width="6.79" height="5.98" fill="#f1c8bf"/><rect x="314.05" y="221.91" width="6.79" height="5.98" fill="#e5e7e8"/><rect x="111.76" y="215.98" width="6.79" height="5.98" fill="#f09683"/><rect x="118.50" y="215.98" width="6.79" height="5.98" fill="#f09683"/><rect x="125.25" y="215.98" width="6.79" height="5.98" fill="#ee7965"/><rect x="131.99" y="215.98" width="6.79" height="5.98" fill="#f1b2a5"/><rect x="138.73" y="215.98" width="6.79" height="5.98" fill="#ee7965"/><rect x="145.47" y="215.98" width="6.79" height="5.98" fill="#ee7965"/><rect x="152.22" y="215.98" width="6.79" height="5.98" fill="#f09683"/><rect x="158.96" y="215.98" width="6.79" height="5.98" fill="#f1c8bf"/><rect x="165.70" y="215.98" width="6.79" height="5.98" fill="#e5e7e8"/><rect x="172.45" y="215.98" width="6.79" height="5.98" fill="#ee7965"/><rect x="179.19" y="215.98" width="6.79" height="5.98" fill="#f1b2a5"/><rect x="185.93" y="215.98" width="6.79" height="5.98" fill="#f1b2a5"/><rect x="192.68" y="215.98" width="6.79" height="5.98" fill="#f1b2a5"/><rect x="199.42" y="215.98" width="6.79" height="5.98" fill="#f1b2a5"/><rect x="206.16" y="215.98" width="6.79" height="5.98" fill="#f1b2a5"/><rect x="212.90" y="215.98" width="6.79" height="5.98" fill="#f1b2a5"/><rect x="219.65" y="215.98" width="6.79" height="5.98" fill="#f1b2a5"/><rect x="226.39" y="215.98" width="6.79" height="5.98" fill="#ee7965"/><rect x="233.13" y="215.98" width="6.79" height="5.98" fill="#f1b2a5"/><rect x="239.88" y="215.98" width="6.79" height="5.98" fill="#f1b2a5"/><rect x="246.62" y="215.98" width="6.79" height="5.98" fill="#cddee6"/><rect x="253.36" y="215.98" width="6.79" height="5.98" fill="#e5e7e8"/><rect x="260.11" y="215.98" width="6.79" height="5.98" fill="#f1b2a5"/><rect x="266.85" y="215.98" width="6.79" height="5.98" fill="#e5e7e8"/><rect x="273.59" y="215.98" width="6.79" height="5.98" fill="#f1b2a5"/><rect x="280.33" y="215.98" width="6.79" height="5.98" fill="#cddee6"/><rect x="287.08" y="215.98" width="6.79" height="5.98" fill="#cddee6"/><rect x="293.82" y="215.98" width="6.79" height="5.98" fill="#cddee6"/><rect x="300.56" y="215.98" width="6.79" height="5.98" fill="#e5e7e8"/><rect x="307.31" y="215.98" width="6.79" height="5.98" fill="#cddee6"/><rect x="314.05" y="215.98" width="6.79" height="5.98" fill="#cddee6"/><rect x="118.50" y="210.05" width="6.79" height="5.98" fill="#f09683"/><rect x="125.25" y="210.05" width="6.79" height="5.98" fill="#f1b2a5"/><rect x="131.99" y="210.05" width="6.79" height="5.98" fill="#ee7965"/><rect x="138.73" y="210.05" width="6.79" height="5.98" fill="#f1b2a5"/><rect x="145.47" y="210.05" width="6.79" height="5.98" fill="#f1b2a5"/><rect x="152.22" y="210.05" width="6.79" height="5.98" fill="#f09683"/><rect x="158.96" y="210.05" width="6.79" height="5.98" fill="#e5e7e8"/><rect x="165.70" y="210.05" width="6.79" height="5.98" fill="#e5e7e8"/><rect x="172.45" y="210.05" width="6.79" height="5.98" fill="#f1b2a5"/><rect x="179.19" y="210.05" width="6.79" height="5.98" fill="#f1c8bf"/><rect x="185.93" y="210.05" width="6.79" height="5.98" fill="#f1c8bf"/><rect x="192.68" y="210.05" width="6.79" height="5.98" fill="#f1c8bf"/><rect x="199.42" y="210.05" width="6.79" height="5.98" fill="#f1c8bf"/><rect x="206.16" y="210.05" width="6.79" height="5.98" fill="#f1c8bf"/><rect x="212.90" y="210.05" width="6.79" height="5.98" fill="#f1c8bf"/><rect x="219.65" y="210.05" width="6.79" height="5.98" fill="#f1c8bf"/><rect x="226.39" y="210.05" width="6.79" height="5.98" fill="#f09683"/><rect x="233.13" y="210.05" width="6.79" height="5.98" fill="#f1b2a5"/><rect x="239.88" y="210.05" width="6.79" height="5.98" fill="#f1c8bf"/><rect x="246.62" y="210.05" width="6.79" height="5.98" fill="#cddee6"/><rect x="253.36" y="210.05" width="6.79" height="5.98" fill="#eddad6"/><rect x="260.11" y="210.05" width="6.79" height="5.98" fill="#eddad6"/><rect x="266.85" y="210.05" width="6.79" height="5.98" fill="#eddad6"/><rect x="273.59" y="210.05" width="6.79" height="5.98" fill="#eddad6"/><rect x="280.33" y="210.05" width="6.79" height="5.98" fill="#cddee6"/><rect x="287.08" y="210.05" width="6.79" height="5.98" fill="#cddee6"/><rect x="293.82" y="210.05" width="6.79" height="5.98" fill="#cddee6"/><rect x="300.56" y="210.05" width="6.79" height="5.98" fill="#e5e7e8"/><rect x="307.31" y="210.05" width="6.79" height="5.98" fill="#e5e7e8"/><rect x="314.05" y="210.05" width="6.79" height="5.98" fill="#cddee6"/><rect x="125.25" y="204.12" width="6.79" height="5.98" fill="#f09683"/><rect x="131.99" y="204.12" width="6.79" height="5.98" fill="#f1c8bf"/><rect x="138.73" y="204.12" width="6.79" height="5.98" fill="#f1c8bf"/><rect x="145.47" y="204.12" width="6.79" height="5.98" fill="#f1c8bf"/><rect x="152.22" y="204.12" width="6.79" height="5.98" fill="#f1c8bf"/><rect x="158.96" y="204.12" width="6.79" height="5.98" fill="#f1c8bf"/><rect x="165.70" y="204.12" width="6.79" height="5.98" fill="#f1c8bf"/><rect x="172.45" y="204.12" width="6.79" height="5.98" fill="#f1c8bf"/><rect x="179.19" y="204.12" width="6.79" height="5.98" fill="#f1b2a5"/><rect x="185.93" y="204.12" width="6.79" height="5.98" fill="#f1c8bf"/><rect x="192.68" y="204.12" width="6.79" height="5.98" fill="#cddee6"/><rect x="199.42" y="204.12" width="6.79" height="5.98" fill="#cddee6"/><rect x="206.16" y="204.12" width="6.79" height="5.98" fill="#cddee6"/><rect x="212.90" y="204.12" width="6.79" height="5.98" fill="#e5e7e8"/><rect x="219.65" y="204.12" width="6.79" height="5.98" fill="#e5e7e8"/><rect x="226.39" y="204.12" width="6.79" height="5.98" fill="#e5e7e8"/><rect x="233.13" y="204.12" width="6.79" height="5.98" fill="#cddee6"/><rect x="239.88" y="204.12" width="6.79" height="5.98" fill="#f1c8bf"/><rect x="246.62" y="204.12" width="6.79" height="5.98" fill="#eddad6"/><rect x="253.36" y="204.12" width="6.79" height="5.98" fill="#f1c8bf"/><rect x="260.11" y="204.12" width="6.79" height="5.98" fill="#cddee6"/><rect x="266.85" y="204.12" width="6.79" height="5.98" fill="#e5e7e8"/><rect x="273.59" y="204.12" width="6.79" height="5.98" fill="#f1b2a5"/><rect x="280.33" y="204.12" width="6.79" height="5.98" fill="#e5e7e8"/><rect x="287.08" y="204.12" width="6.79" height="5.98" fill="#f1c8bf"/><rect x="293.82" y="204.12" width="6.79" height="5.98" fill="#f1c8bf"/><rect x="300.56" y="204.12" width="6.79" height="5.98" fill="#f1b2a5"/><rect x="307.31" y="204.12" width="6.79" height="5.98" fill="#e5e7e8"/><rect x="314.05" y="204.12" width="6.79" height="5.98" fill="#cddee6"/><rect x="131.99" y="198.19" width="6.79" height="5.98" fill="#f09683"/><rect x="138.73" y="198.19" width="6.79" height="5.98" fill="#f09683"/><rect x="145.47" y="198.19" width="6.79" height="5.98" fill="#f09683"/><rect x="152.22" y="198.19" width="6.79" height="5.98" fill="#f1c8bf"/><rect x="158.96" y="198.19" width="6.79" height="5.98" fill="#f1c8bf"/><rect x="165.70" y="198.19" width="6.79" height="5.98" fill="#e5e7e8"/><rect x="172.45" y="198.19" width="6.79" height="5.98" fill="#f1b2a5"/><rect x="179.19" y="198.19" width="6.79" height="5.98" fill="#f1c8bf"/><rect x="185.93" y="198.19" width="6.79" height="5.98" fill="#f1c8bf"/><rect x="192.68" y="198.19" width="6.79" height="5.98" fill="#f1c8bf"/><rect x="199.42" y="198.19" width="6.79" height="5.98" fill="#f1c8bf"/><rect x="206.16" y="198.19" width="6.79" height="5.98" fill="#f1b2a5"/><rect x="212.90" y="198.19" width="6.79" height="5.98" fill="#f1b2a5"/><rect x="219.65" y="198.19" width="6.79" height="5.98" fill="#f1b2a5"/><rect x="226.39" y="198.19" width="6.79" height="5.98" fill="#f1b2a5"/><rect x="233.13" y="198.19" width="6.79" height="5.98" fill="#f1c8bf"/><rect x="239.88" y="198.19" width="6.79" height="5.98" fill="#eddad6"/><rect x="246.62" y="198.19" width="6.79" height="5.98" fill="#e5e7e8"/><rect x="253.36" y="198.19" width="6.79" height="5.98" fill="#cddee6"/><rect x="260.11" y="198.19" width="6.79" height="5.98" fill="#eddad6"/><rect x="266.85" y="198.19" width="6.79" height="5.98" fill="#e5e7e8"/><rect x="273.59" y="198.19" width="6.79" height="5.98" fill="#f1c8bf"/><rect x="280.33" y="198.19" width="6.79" height="5.98" fill="#cddee6"/><rect x="287.08" y="198.19" width="6.79" height="5.98" fill="#cddee6"/><rect x="293.82" y="198.19" width="6.79" height="5.98" fill="#e5e7e8"/><rect x="300.56" y="198.19" width="6.79" height="5.98" fill="#e5e7e8"/><rect x="307.31" y="198.19" width="6.79" height="5.98" fill="#e5e7e8"/><rect x="314.05" y="198.19" width="6.79" height="5.98" fill="#cddee6"/><rect x="138.73" y="192.26" width="6.79" height="5.98" fill="#f09683"/><rect x="145.47" y="192.26" width="6.79" height="5.98" fill="#f09683"/><rect x="152.22" y="192.26" width="6.79" height="5.98" fill="#f1c8bf"/><rect x="158.96" y="192.26" width="6.79" height="5.98" fill="#f1c8bf"/><rect x="165.70" y="192.26" width="6.79" height="5.98" fill="#f1c8bf"/><rect x="172.45" y="192.26" width="6.79" height="5.98" fill="#f1b2a5"/><rect x="179.19" y="192.26" width="6.79" height="5.98" fill="#f1c8bf"/><rect x="185.93" y="192.26" width="6.79" height="5.98" fill="#f1b2a5"/><rect x="192.68" y="192.26" width="6.79" height="5.98" fill="#f1b2a5"/><rect x="199.42" y="192.26" width="6.79" height="5.98" fill="#f1b2a5"/><rect x="206.16" y="192.26" width="6.79" height="5.98" fill="#f1b2a5"/><rect x="212.90" y="192.26" width="6.79" height="5.98" fill="#f1b2a5"/><rect x="219.65" y="192.26" width="6.79" height="5.98" fill="#f1b2a5"/><rect x="226.39" y="192.26" width="6.79" height="5.98" fill="#f1b2a5"/><rect x="233.13" y="192.26" width="6.79" height="5.98" fill="#f1b2a5"/><rect x="239.88" y="192.26" width="6.79" height="5.98" fill="#f1c8bf"/><rect x="246.62" y="192.26" width="6.79" height="5.98" fill="#e5e7e8"/><rect x="253.36" y="192.26" width="6.79" height="5.98" fill="#e5e7e8"/><rect x="260.11" y="192.26" width="6.79" height="5.98" fill="#f1c8bf"/><rect x="266.85" y="192.26" width="6.79" height="5.98" fill="#eddad6"/><rect x="273.59" y="192.26" width="6.79" height="5.98" fill="#e5e7e8"/><rect x="280.33" y="192.26" width="6.79" height="5.98" fill="#e5e7e8"/><rect x="287.08" y="192.26" width="6.79" height="5.98" fill="#cddee6"/><rect x="293.82" y="192.26" width="6.79" height="5.98" fill="#e5e7e8"/><rect x="300.56" y="192.26" width="6.79" height="5.98" fill="#e5e7e8"/><rect x="307.31" y="192.26" width="6.79" height="5.98" fill="#e5e7e8"/><rect x="314.05" y="192.26" width="6.79" height="5.98" fill="#eddad6"/><rect x="145.47" y="186.33" width="6.79" height="5.98" fill="#ea5944"/><rect x="152.22" y="186.33" width="6.79" height="5.98" fill="#f09683"/><rect x="158.96" y="186.33" width="6.79" height="5.98" fill="#f1c8bf"/><rect x="165.70" y="186.33" width="6.79" height="5.98" fill="#f1c8bf"/><rect x="172.45" y="186.33" width="6.79" height="5.98" fill="#f09683"/><rect x="179.19" y="186.33" width="6.79" height="5.98" fill="#f1b2a5"/><rect x="185.93" y="186.33" width="6.79" height="5.98" fill="#f09683"/><rect x="192.68" y="186.33" width="6.79" height="5.98" fill="#ee7965"/><rect x="199.42" y="186.33" width="6.79" height="5.98" fill="#ee7965"/><rect x="206.16" y="186.33" width="6.79" height="5.98" fill="#ee7965"/><rect x="212.90" y="186.33" width="6.79" height="5.98" fill="#f09683"/><rect x="219.65" y="186.33" width="6.79" height="5.98" fill="#f09683"/><rect x="226.39" y="186.33" width="6.79" height="5.98" fill="#ea5944"/><rect x="233.13" y="186.33" width="6.79" height="5.98" fill="#ee7965"/><rect x="239.88" y="186.33" width="6.79" height="5.98" fill="#f09683"/><rect x="246.62" y="186.33" width="6.79" height="5.98" fill="#e5e7e8"/><rect x="253.36" y="186.33" width="6.79" height="5.98" fill="#cddee6"/><rect x="260.11" y="186.33" width="6.79" height="5.98" fill="#f09683"/><rect x="266.85" y="186.33" width="6.79" height="5.98" fill="#eddad6"/><rect x="273.59" y="186.33" width="6.79" height="5.98" fill="#cddee6"/><rect x="280.33" y="186.33" width="6.79" height="5.98" fill="#cddee6"/><rect x="287.08" y="186.33" width="6.79" height="5.98" fill="#abcad9"/><rect x="293.82" y="186.33" width="6.79" height="5.98" fill="#cddee6"/><rect x="300.56" y="186.33" width="6.79" height="5.98" fill="#abcad9"/><rect x="307.31" y="186.33" width="6.79" height="5.98" fill="#e5e7e8"/><rect x="314.05" y="186.33" width="6.79" height="5.98" fill="#eddad6"/><rect x="152.22" y="180.40" width="6.79" height="5.98" fill="#f09683"/><rect x="158.96" y="180.40" width="6.79" height="5.98" fill="#f1c8bf"/><rect x="165.70" y="180.40" width="6.79" height="5.98" fill="#f1c8bf"/><rect x="172.45" y="180.40" width="6.79" height="5.98" fill="#f09683"/><rect x="179.19" y="180.40" width="6.79" height="5.98" fill="#f09683"/><rect x="185.93" y="180.40" width="6.79" height="5.98" fill="#f09683"/><rect x="192.68" y="180.40" width="6.79" height="5.98" fill="#ee7965"/><rect x="199.42" y="180.40" width="6.79" height="5.98" fill="#ee7965"/><rect x="206.16" y="180.40" width="6.79" height="5.98" fill="#f09683"/><rect x="212.90" y="180.40" width="6.79" height="5.98" fill="#ee7965"/><rect x="219.65" y="180.40" width="6.79" height="5.98" fill="#f09683"/><rect x="226.39" y="180.40" width="6.79" height="5.98" fill="#ee7965"/><rect x="233.13" y="180.40" width="6.79" height="5.98" fill="#ee7965"/><rect x="239.88" y="180.40" width="6.79" height="5.98" fill="#f1b2a5"/><rect x="246.62" y="180.40" width="6.79" height="5.98" fill="#e5e7e8"/><rect x="253.36" y="180.40" width="6.79" height="5.98" fill="#cddee6"/><rect x="260.11" y="180.40" width="6.79" height="5.98" fill="#f09683"/><rect x="266.85" y="180.40" width="6.79" height="5.98" fill="#eddad6"/><rect x="273.59" y="180.40" width="6.79" height="5.98" fill="#e5e7e8"/><rect x="280.33" y="180.40" width="6.79" height="5.98" fill="#cddee6"/><rect x="287.08" y="180.40" width="6.79" height="5.98" fill="#abcad9"/><rect x="293.82" y="180.40" width="6.79" height="5.98" fill="#cddee6"/><rect x="300.56" y="180.40" width="6.79" height="5.98" fill="#abcad9"/><rect x="307.31" y="180.40" width="6.79" height="5.98" fill="#e5e7e8"/><rect x="314.05" y="180.40" width="6.79" height="5.98" fill="#e5e7e8"/><rect x="158.96" y="174.47" width="6.79" height="5.98" fill="#f1c8bf"/><rect x="165.70" y="174.47" width="6.79" height="5.98" fill="#eddad6"/><rect x="172.45" y="174.47" width="6.79" height="5.98" fill="#f09683"/><rect x="179.19" y="174.47" width="6.79" height="5.98" fill="#f1b2a5"/><rect x="185.93" y="174.47" width="6.79" height="5.98" fill="#f1b2a5"/><rect x="192.68" y="174.47" width="6.79" height="5.98" fill="#f09683"/><rect x="199.42" y="174.47" width="6.79" height="5.98" fill="#f1b2a5"/><rect x="206.16" y="174.47" width="6.79" height="5.98" fill="#f09683"/><rect x="212.90" y="174.47" width="6.79" height="5.98" fill="#f09683"/><rect x="219.65" y="174.47" width="6.79" height="5.98" fill="#f1b2a5"/><rect x="226.39" y="174.47" width="6.79" height="5.98" fill="#ee7965"/><rect x="233.13" y="174.47" width="6.79" height="5.98" fill="#f1b2a5"/><rect x="239.88" y="174.47" width="6.79" height="5.98" fill="#f1b2a5"/><rect x="246.62" y="174.47" width="6.79" height="5.98" fill="#cddee6"/><rect x="253.36" y="174.47" width="6.79" height="5.98" fill="#e5e7e8"/><rect x="260.11" y="174.47" width="6.79" height="5.98" fill="#f1b2a5"/><rect x="266.85" y="174.47" width="6.79" height="5.98" fill="#f1c8bf"/><rect x="273.59" y="174.47" width="6.79" height="5.98" fill="#e5e7e8"/><rect x="280.33" y="174.47" width="6.79" height="5.98" fill="#e5e7e8"/><rect x="287.08" y="174.47" width="6.79" height="5.98" fill="#e5e7e8"/><rect x="293.82" y="174.47" width="6.79" height="5.98" fill="#e5e7e8"/><rect x="300.56" y="174.47" width="6.79" height="5.98" fill="#cddee6"/><rect x="307.31" y="174.47" width="6.79" height="5.98" fill="#e5e7e8"/><rect x="314.05" y="174.47" width="6.79" height="5.98" fill="#f1c8bf"/><rect x="165.70" y="168.54" width="6.79" height="5.98" fill="#f09683"/><rect x="172.45" y="168.54" width="6.79" height="5.98" fill="#f1b2a5"/><rect x="179.19" y="168.54" width="6.79" height="5.98" fill="#f1b2a5"/><rect x="185.93" y="168.54" width="6.79" height="5.98" fill="#f1c8bf"/><rect x="192.68" y="168.54" width="6.79" height="5.98" fill="#f1c8bf"/><rect x="199.42" y="168.54" width="6.79" height="5.98" fill="#f1b2a5"/><rect x="206.16" y="168.54" width="6.79" height="5.98" fill="#f1c8bf"/><rect x="212.90" y="168.54" width="6.79" height="5.98" fill="#f1c8bf"/><rect x="219.65" y="168.54" width="6.79" height="5.98" fill="#f1c8bf"/><rect x="226.39" y="168.54" width="6.79" height="5.98" fill="#f1c8bf"/><rect x="233.13" y="168.54" width="6.79" height="5.98" fill="#f1b2a5"/><rect x="239.88" y="168.54" width="6.79" height="5.98" fill="#f1b2a5"/><rect x="246.62" y="168.54" width="6.79" height="5.98" fill="#e5e7e8"/><rect x="253.36" y="168.54" width="6.79" height="5.98" fill="#e5e7e8"/><rect x="260.11" y="168.54" width="6.79" height="5.98" fill="#f1b2a5"/><rect x="266.85" y="168.54" width="6.79" height="5.98" fill="#f1c8bf"/><rect x="273.59" y="168.54" width="6.79" height="5.98" fill="#f09683"/><rect x="280.33" y="168.54" width="6.79" height="5.98" fill="#e5e7e8"/><rect x="287.08" y="168.54" width="6.79" height="5.98" fill="#eddad6"/><rect x="293.82" y="168.54" width="6.79" height="5.98" fill="#eddad6"/><rect x="300.56" y="168.54" width="6.79" height="5.98" fill="#e5e7e8"/><rect x="307.31" y="168.54" width="6.79" height="5.98" fill="#e5e7e8"/><rect x="314.05" y="168.54" width="6.79" height="5.98" fill="#cddee6"/><rect x="172.45" y="162.61" width="6.79" height="5.98" fill="#eddad6"/><rect x="179.19" y="162.61" width="6.79" height="5.98" fill="#f1c8bf"/><rect x="185.93" y="162.61" width="6.79" height="5.98" fill="#f1c8bf"/><rect x="192.68" y="162.61" width="6.79" height="5.98" fill="#f1c8bf"/><rect x="199.42" y="162.61" width="6.79" height="5.98" fill="#f1c8bf"/><rect x="206.16" y="162.61" width="6.79" height="5.98" fill="#eddad6"/><rect x="212.90" y="162.61" width="6.79" height="5.98" fill="#f1c8bf"/><rect x="219.65" y="162.61" width="6.79" height="5.98" fill="#eddad6"/><rect x="226.39" y="162.61" width="6.79" height="5.98" fill="#f1c8bf"/><rect x="233.13" y="162.61" width="6.79" height="5.98" fill="#f1b2a5"/><rect x="239.88" y="162.61" width="6.79" height="5.98" fill="#f1b2a5"/><rect x="246.62" y="162.61" width="6.79" height="5.98" fill="#f1c8bf"/><rect x="253.36" y="162.61" width="6.79" height="5.98" fill="#e5e7e8"/><rect x="260.11" y="162.61" width="6.79" height="5.98" fill="#f1b2a5"/><rect x="266.85" y="162.61" width="6.79" height="5.98" fill="#f1b2a5"/><rect x="273.59" y="162.61" width="6.79" height="5.98" fill="#e5e7e8"/><rect x="280.33" y="162.61" width="6.79" height="5.98" fill="#cddee6"/><rect x="287.08" y="162.61" width="6.79" height="5.98" fill="#e5e7e8"/><rect x="293.82" y="162.61" width="6.79" height="5.98" fill="#cddee6"/><rect x="300.56" y="162.61" width="6.79" height="5.98" fill="#e5e7e8"/><rect x="307.31" y="162.61" width="6.79" height="5.98" fill="#e5e7e8"/><rect x="314.05" y="162.61" width="6.79" height="5.98" fill="#e5e7e8"/><rect x="179.19" y="156.68" width="6.79" height="5.98" fill="#f09683"/><rect x="185.93" y="156.68" width="6.79" height="5.98" fill="#f09683"/><rect x="192.68" y="156.68" width="6.79" height="5.98" fill="#f09683"/><rect x="199.42" y="156.68" width="6.79" height="5.98" fill="#f09683"/><rect x="206.16" y="156.68" width="6.79" height="5.98" fill="#f09683"/><rect x="212.90" y="156.68" width="6.79" height="5.98" fill="#f09683"/><rect x="219.65" y="156.68" width="6.79" height="5.98" fill="#f09683"/><rect x="226.39" y="156.68" width="6.79" height="5.98" fill="#ee7965"/><rect x="233.13" y="156.68" width="6.79" height="5.98" fill="#f09683"/><rect x="239.88" y="156.68" width="6.79" height="5.98" fill="#f09683"/><rect x="246.62" y="156.68" width="6.79" height="5.98" fill="#eddad6"/><rect x="253.36" y="156.68" width="6.79" height="5.98" fill="#cddee6"/><rect x="260.11" y="156.68" width="6.79" height="5.98" fill="#f1b2a5"/><rect x="266.85" y="156.68" width="6.79" height="5.98" fill="#f1c8bf"/><rect x="273.59" y="156.68" width="6.79" height="5.98" fill="#f1c8bf"/><rect x="280.33" y="156.68" width="6.79" height="5.98" fill="#cddee6"/><rect x="287.08" y="156.68" width="6.79" height="5.98" fill="#cddee6"/><rect x="293.82" y="156.68" width="6.79" height="5.98" fill="#cddee6"/><rect x="300.56" y="156.68" width="6.79" height="5.98" fill="#cddee6"/><rect x="307.31" y="156.68" width="6.79" height="5.98" fill="#e5e7e8"/><rect x="314.05" y="156.68" width="6.79" height="5.98" fill="#cddee6"/><rect x="185.93" y="150.75" width="6.79" height="5.98" fill="#ee7965"/><rect x="192.68" y="150.75" width="6.79" height="5.98" fill="#f09683"/><rect x="199.42" y="150.75" width="6.79" height="5.98" fill="#f09683"/><rect x="206.16" y="150.75" width="6.79" height="5.98" fill="#f09683"/><rect x="212.90" y="150.75" width="6.79" height="5.98" fill="#ee7965"/><rect x="219.65" y="150.75" width="6.79" height="5.98" fill="#f09683"/><rect x="226.39" y="150.75" width="6.79" height="5.98" fill="#f09683"/><rect x="233.13" y="150.75" width="6.79" height="5.98" fill="#f1b2a5"/><rect x="239.88" y="150.75" width="6.79" height="5.98" fill="#f09683"/><rect x="246.62" y="150.75" width="6.79" height="5.98" fill="#e5e7e8"/><rect x="253.36" y="150.75" width="6.79" height="5.98" fill="#e5e7e8"/><rect x="260.11" y="150.75" width="6.79" height="5.98" fill="#f1b2a5"/><rect x="266.85" y="150.75" width="6.79" height="5.98" fill="#eddad6"/><rect x="273.59" y="150.75" width="6.79" height="5.98" fill="#f1b2a5"/><rect x="280.33" y="150.75" width="6.79" height="5.98" fill="#cddee6"/><rect x="287.08" y="150.75" width="6.79" height="5.98" fill="#e5e7e8"/><rect x="293.82" y="150.75" width="6.79" height="5.98" fill="#eddad6"/><rect x="300.56" y="150.75" width="6.79" height="5.98" fill="#e5e7e8"/><rect x="307.31" y="150.75" width="6.79" height="5.98" fill="#e5e7e8"/><rect x="314.05" y="150.75" width="6.79" height="5.98" fill="#cddee6"/><rect x="192.68" y="144.82" width="6.79" height="5.98" fill="#ea5944"/><rect x="199.42" y="144.82" width="6.79" height="5.98" fill="#ee7965"/><rect x="206.16" y="144.82" width="6.79" height="5.98" fill="#ea5944"/><rect x="212.90" y="144.82" width="6.79" height="5.98" fill="#ee7965"/><rect x="219.65" y="144.82" width="6.79" height="5.98" fill="#ee7965"/><rect x="226.39" y="144.82" width="6.79" height="5.98" fill="#ee7965"/><rect x="233.13" y="144.82" width="6.79" height="5.98" fill="#ee7965"/><rect x="239.88" y="144.82" width="6.79" height="5.98" fill="#f09683"/><rect x="246.62" y="144.82" width="6.79" height="5.98" fill="#e5e7e8"/><rect x="253.36" y="144.82" width="6.79" height="5.98" fill="#cddee6"/><rect x="260.11" y="144.82" width="6.79" height="5.98" fill="#f09683"/><rect x="266.85" y="144.82" width="6.79" height="5.98" fill="#eddad6"/><rect x="273.59" y="144.82" width="6.79" height="5.98" fill="#e5e7e8"/><rect x="280.33" y="144.82" width="6.79" height="5.98" fill="#abcad9"/><rect x="287.08" y="144.82" width="6.79" height="5.98" fill="#abcad9"/><rect x="293.82" y="144.82" width="6.79" height="5.98" fill="#cddee6"/><rect x="300.56" y="144.82" width="6.79" height="5.98" fill="#abcad9"/><rect x="307.31" y="144.82" width="6.79" height="5.98" fill="#e5e7e8"/><rect x="314.05" y="144.82" width="6.79" height="5.98" fill="#e5e7e8"/><rect x="199.42" y="138.89" width="6.79" height="5.98" fill="#ee7965"/><rect x="206.16" y="138.89" width="6.79" height="5.98" fill="#ea5944"/><rect x="212.90" y="138.89" width="6.79" height="5.98" fill="#ea5944"/><rect x="219.65" y="138.89" width="6.79" height="5.98" fill="#ee7965"/><rect x="226.39" y="138.89" width="6.79" height="5.98" fill="#ee7965"/><rect x="233.13" y="138.89" width="6.79" height="5.98" fill="#ee7965"/><rect x="239.88" y="138.89" width="6.79" height="5.98" fill="#f09683"/><rect x="246.62" y="138.89" width="6.79" height="5.98" fill="#e5e7e8"/><rect x="253.36" y="138.89" width="6.79" height="5.98" fill="#cddee6"/><rect x="260.11" y="138.89" width="6.79" height="5.98" fill="#f09683"/><rect x="266.85" y="138.89" width="6.79" height="5.98" fill="#eddad6"/><rect x="273.59" y="138.89" width="6.79" height="5.98" fill="#e5e7e8"/><rect x="280.33" y="138.89" width="6.79" height="5.98" fill="#cddee6"/><rect x="287.08" y="138.89" width="6.79" height="5.98" fill="#abcad9"/><rect x="293.82" y="138.89" width="6.79" height="5.98" fill="#cddee6"/><rect x="300.56" y="138.89" width="6.79" height="5.98" fill="#abcad9"/><rect x="307.31" y="138.89" width="6.79" height="5.98" fill="#e5e7e8"/><rect x="314.05" y="138.89" width="6.79" height="5.98" fill="#eddad6"/><rect x="206.16" y="132.96" width="6.79" height="5.98" fill="#ee7965"/><rect x="212.90" y="132.96" width="6.79" height="5.98" fill="#ea5944"/><rect x="219.65" y="132.96" width="6.79" height="5.98" fill="#ee7965"/><rect x="226.39" y="132.96" width="6.79" height="5.98" fill="#ea5944"/><rect x="233.13" y="132.96" width="6.79" height="5.98" fill="#ee7965"/><rect x="239.88" y="132.96" width="6.79" height="5.98" fill="#f09683"/><rect x="246.62" y="132.96" width="6.79" height="5.98" fill="#e5e7e8"/><rect x="253.36" y="132.96" width="6.79" height="5.98" fill="#e5e7e8"/><rect x="260.11" y="132.96" width="6.79" height="5.98" fill="#f09683"/><rect x="266.85" y="132.96" width="6.79" height="5.98" fill="#e5e7e8"/><rect x="273.59" y="132.96" width="6.79" height="5.98" fill="#e5e7e8"/><rect x="280.33" y="132.96" width="6.79" height="5.98" fill="#cddee6"/><rect x="287.08" y="132.96" width="6.79" height="5.98" fill="#cddee6"/><rect x="293.82" y="132.96" width="6.79" height="5.98" fill="#cddee6"/><rect x="300.56" y="132.96" width="6.79" height="5.98" fill="#cddee6"/><rect x="307.31" y="132.96" width="6.79" height="5.98" fill="#e5e7e8"/><rect x="314.05" y="132.96" width="6.79" height="5.98" fill="#f1c8bf"/><rect x="212.90" y="127.03" width="6.79" height="5.98" fill="#ea5944"/><rect x="219.65" y="127.03" width="6.79" height="5.98" fill="#ee7965"/><rect x="226.39" y="127.03" width="6.79" height="5.98" fill="#ee7965"/><rect x="233.13" y="127.03" width="6.79" height="5.98" fill="#ee7965"/><rect x="239.88" y="127.03" width="6.79" height="5.98" fill="#f09683"/><rect x="246.62" y="127.03" width="6.79" height="5.98" fill="#e5e7e8"/><rect x="253.36" y="127.03" width="6.79" height="5.98" fill="#cddee6"/><rect x="260.11" y="127.03" width="6.79" height="5.98" fill="#f09683"/><rect x="266.85" y="127.03" width="6.79" height="5.98" fill="#f1c8bf"/><rect x="273.59" y="127.03" width="6.79" height="5.98" fill="#e5e7e8"/><rect x="280.33" y="127.03" width="6.79" height="5.98" fill="#cddee6"/><rect x="287.08" y="127.03" width="6.79" height="5.98" fill="#cddee6"/><rect x="293.82" y="127.03" width="6.79" height="5.98" fill="#cddee6"/><rect x="300.56" y="127.03" width="6.79" height="5.98" fill="#cddee6"/><rect x="307.31" y="127.03" width="6.79" height="5.98" fill="#e5e7e8"/><rect x="314.05" y="127.03" width="6.79" height="5.98" fill="#e5e7e8"/><rect x="219.65" y="121.10" width="6.79" height="5.98" fill="#ee7965"/><rect x="226.39" y="121.10" width="6.79" height="5.98" fill="#ea5944"/><rect x="233.13" y="121.10" width="6.79" height="5.98" fill="#ee7965"/><rect x="239.88" y="121.10" width="6.79" height="5.98" fill="#f09683"/><rect x="246.62" y="121.10" width="6.79" height="5.98" fill="#e5e7e8"/><rect x="253.36" y="121.10" width="6.79" height="5.98" fill="#cddee6"/><rect x="260.11" y="121.10" width="6.79" height="5.98" fill="#f09683"/><rect x="266.85" y="121.10" width="6.79" height="5.98" fill="#eddad6"/><rect x="273.59" y="121.10" width="6.79" height="5.98" fill="#e5e7e8"/><rect x="280.33" y="121.10" width="6.79" height="5.98" fill="#cddee6"/><rect x="287.08" y="121.10" width="6.79" height="5.98" fill="#abcad9"/><rect x="293.82" y="121.10" width="6.79" height="5.98" fill="#cddee6"/><rect x="300.56" y="121.10" width="6.79" height="5.98" fill="#abcad9"/><rect x="307.31" y="121.10" width="6.79" height="5.98" fill="#e5e7e8"/><rect x="314.05" y="121.10" width="6.79" height="5.98" fill="#eddad6"/><rect x="226.39" y="115.17" width="6.79" height="5.98" fill="#ee7965"/><rect x="233.13" y="115.17" width="6.79" height="5.98" fill="#ee7965"/><rect x="239.88" y="115.17" width="6.79" height="5.98" fill="#f09683"/><rect x="246.62" y="115.17" width="6.79" height="5.98" fill="#e5e7e8"/><rect x="253.36" y="115.17" width="6.79" height="5.98" fill="#cddee6"/><rect x="260.11" y="115.17" width="6.79" height="5.98" fill="#f1b2a5"/><rect x="266.85" y="115.17" width="6.79" height="5.98" fill="#eddad6"/><rect x="273.59" y="115.17" width="6.79" height="5.98" fill="#cddee6"/><rect x="280.33" y="115.17" width="6.79" height="5.98" fill="#cddee6"/><rect x="287.08" y="115.17" width="6.79" height="5.98" fill="#cddee6"/><rect x="293.82" y="115.17" width="6.79" height="5.98" fill="#cddee6"/><rect x="300.56" y="115.17" width="6.79" height="5.98" fill="#abcad9"/><rect x="307.31" y="115.17" width="6.79" height="5.98" fill="#e5e7e8"/><rect x="314.05" y="115.17" width="6.79" height="5.98" fill="#e5e7e8"/><rect x="233.13" y="109.24" width="6.79" height="5.98" fill="#ee7965"/><rect x="239.88" y="109.24" width="6.79" height="5.98" fill="#f1b2a5"/><rect x="246.62" y="109.24" width="6.79" height="5.98" fill="#e5e7e8"/><rect x="253.36" y="109.24" width="6.79" height="5.98" fill="#cddee6"/><rect x="260.11" y="109.24" width="6.79" height="5.98" fill="#f1b2a5"/><rect x="266.85" y="109.24" width="6.79" height="5.98" fill="#eddad6"/><rect x="273.59" y="109.24" width="6.79" height="5.98" fill="#cddee6"/><rect x="280.33" y="109.24" width="6.79" height="5.98" fill="#abcad9"/><rect x="287.08" y="109.24" width="6.79" height="5.98" fill="#abcad9"/><rect x="293.82" y="109.24" width="6.79" height="5.98" fill="#cddee6"/><rect x="300.56" y="109.24" width="6.79" height="5.98" fill="#abcad9"/><rect x="307.31" y="109.24" width="6.79" height="5.98" fill="#e5e7e8"/><rect x="314.05" y="109.24" width="6.79" height="5.98" fill="#eddad6"/><rect x="239.88" y="103.31" width="6.79" height="5.98" fill="#f09683"/><rect x="246.62" y="103.31" width="6.79" height="5.98" fill="#e5e7e8"/><rect x="253.36" y="103.31" width="6.79" height="5.98" fill="#cddee6"/><rect x="260.11" y="103.31" width="6.79" height="5.98" fill="#f09683"/><rect x="266.85" y="103.31" width="6.79" height="5.98" fill="#e5e7e8"/><rect x="273.59" y="103.31" width="6.79" height="5.98" fill="#abcad9"/><rect x="280.33" y="103.31" width="6.79" height="5.98" fill="#cddee6"/><rect x="287.08" y="103.31" width="6.79" height="5.98" fill="#abcad9"/><rect x="293.82" y="103.31" width="6.79" height="5.98" fill="#cddee6"/><rect x="300.56" y="103.31" width="6.79" height="5.98" fill="#cddee6"/><rect x="307.31" y="103.31" width="6.79" height="5.98" fill="#e5e7e8"/><rect x="314.05" y="103.31" width="6.79" height="5.98" fill="#eddad6"/><rect x="246.62" y="97.38" width="6.79" height="5.98" fill="#eddad6"/><rect x="253.36" y="97.38" width="6.79" height="5.98" fill="#eddad6"/><rect x="260.11" y="97.38" width="6.79" height="5.98" fill="#f1c8bf"/><rect x="266.85" y="97.38" width="6.79" height="5.98" fill="#eddad6"/><rect x="273.59" y="97.38" width="6.79" height="5.98" fill="#f1c8bf"/><rect x="280.33" y="97.38" width="6.79" height="5.98" fill="#e5e7e8"/><rect x="287.08" y="97.38" width="6.79" height="5.98" fill="#cddee6"/><rect x="293.82" y="97.38" width="6.79" height="5.98" fill="#cddee6"/><rect x="300.56" y="97.38" width="6.79" height="5.98" fill="#e5e7e8"/><rect x="307.31" y="97.38" width="6.79" height="5.98" fill="#e5e7e8"/><rect x="314.05" y="97.38" width="6.79" height="5.98" fill="#e5e7e8"/><rect x="253.36" y="91.45" width="6.79" height="5.98" fill="#eddad6"/><rect x="260.11" y="91.45" width="6.79" height="5.98" fill="#cddee6"/><rect x="266.85" y="91.45" width="6.79" height="5.98" fill="#eddad6"/><rect x="273.59" y="91.45" width="6.79" height="5.98" fill="#abcad9"/><rect x="280.33" y="91.45" width="6.79" height="5.98" fill="#eddad6"/><rect x="287.08" y="91.45" width="6.79" height="5.98" fill="#eddad6"/><rect x="293.82" y="91.45" width="6.79" height="5.98" fill="#cddee6"/><rect x="300.56" y="91.45" width="6.79" height="5.98" fill="#eddad6"/><rect x="307.31" y="91.45" width="6.79" height="5.98" fill="#f1c8bf"/><rect x="314.05" y="91.45" width="6.79" height="5.98" fill="#f1c8bf"/><rect x="260.11" y="85.52" width="6.79" height="5.98" fill="#cddee6"/><rect x="266.85" y="85.52" width="6.79" height="5.98" fill="#cddee6"/><rect x="273.59" y="85.52" width="6.79" height="5.98" fill="#eddad6"/><rect x="280.33" y="85.52" width="6.79" height="5.98" fill="#eddad6"/><rect x="287.08" y="85.52" width="6.79" height="5.98" fill="#f1c8bf"/><rect x="293.82" y="85.52" width="6.79" height="5.98" fill="#eddad6"/><rect x="300.56" y="85.52" width="6.79" height="5.98" fill="#eddad6"/><rect x="307.31" y="85.52" width="6.79" height="5.98" fill="#f1c8bf"/><rect x="314.05" y="85.52" width="6.79" height="5.98" fill="#eddad6"/><rect x="266.85" y="79.59" width="6.79" height="5.98" fill="#f09683"/><rect x="273.59" y="79.59" width="6.79" height="5.98" fill="#f1c8bf"/><rect x="280.33" y="79.59" width="6.79" height="5.98" fill="#f1b2a5"/><rect x="287.08" y="79.59" width="6.79" height="5.98" fill="#f1c8bf"/><rect x="293.82" y="79.59" width="6.79" height="5.98" fill="#f1b2a5"/><rect x="300.56" y="79.59" width="6.79" height="5.98" fill="#f1c8bf"/><rect x="307.31" y="79.59" width="6.79" height="5.98" fill="#eddad6"/><rect x="314.05" y="79.59" width="6.79" height="5.98" fill="#f1b2a5"/><rect x="273.59" y="73.66" width="6.79" height="5.98" fill="#f1b2a5"/><rect x="280.33" y="73.66" width="6.79" height="5.98" fill="#f1b2a5"/><rect x="287.08" y="73.66" width="6.79" height="5.98" fill="#f1b2a5"/><rect x="293.82" y="73.66" width="6.79" height="5.98" fill="#f1c8bf"/><rect x="300.56" y="73.66" width="6.79" height="5.98" fill="#f1c8bf"/><rect x="307.31" y="73.66" width="6.79" height="5.98" fill="#cddee6"/><rect x="314.05" y="73.66" width="6.79" height="5.98" fill="#f1b2a5"/><rect x="280.33" y="67.73" width="6.79" height="5.98" fill="#f09683"/><rect x="287.08" y="67.73" width="6.79" height="5.98" fill="#f09683"/><rect x="293.82" y="67.73" width="6.79" height="5.98" fill="#f09683"/><rect x="300.56" y="67.73" width="6.79" height="5.98" fill="#f09683"/><rect x="307.31" y="67.73" width="6.79" height="5.98" fill="#e5e7e8"/><rect x="314.05" y="67.73" width="6.79" height="5.98" fill="#eddad6"/><rect x="287.08" y="61.80" width="6.79" height="5.98" fill="#ee7965"/><rect x="293.82" y="61.80" width="6.79" height="5.98" fill="#ee7965"/><rect x="300.56" y="61.80" width="6.79" height="5.98" fill="#f09683"/><rect x="307.31" y="61.80" width="6.79" height="5.98" fill="#e5e7e8"/><rect x="314.05" y="61.80" width="6.79" height="5.98" fill="#f1c8bf"/><rect x="293.82" y="55.87" width="6.79" height="5.98" fill="#ea5944"/><rect x="300.56" y="55.87" width="6.79" height="5.98" fill="#f09683"/><rect x="307.31" y="55.87" width="6.79" height="5.98" fill="#e5e7e8"/><rect x="314.05" y="55.87" width="6.79" height="5.98" fill="#eddad6"/><rect x="300.56" y="49.94" width="6.79" height="5.98" fill="#ee7965"/><rect x="307.31" y="49.94" width="6.79" height="5.98" fill="#e5e7e8"/><rect x="314.05" y="49.94" width="6.79" height="5.98" fill="#f1c8bf"/><rect x="307.31" y="44.01" width="6.79" height="5.98" fill="#e5e7e8"/><rect x="314.05" y="44.01" width="6.79" height="5.98" fill="#f1c8bf"/><rect x="314.05" y="38.08" width="6.79" height="5.98" fill="#eddad6"/></g><path d="M24.10 293.07H320.79M30.84 287.14H320.79M37.59 281.21H320.79M44.33 275.28H320.79M51.07 269.35H320.79M57.82 263.42H320.79M64.56 257.49H320.79M71.30 251.56H320.79M78.04 245.63H320.79M84.79 239.70H320.79M91.53 233.77H320.79M98.27 227.84H320.79M105.02 221.91H320.79M111.76 215.98H320.79M118.50 210.05H320.79M125.25 204.12H320.79M131.99 198.19H320.79M138.73 192.26H320.79M145.47 186.33H320.79M152.22 180.40H320.79M158.96 174.47H320.79M165.70 168.54H320.79M172.45 162.61H320.79M179.19 156.68H320.79M185.93 150.75H320.79M192.68 144.82H320.79M199.42 138.89H320.79M206.16 132.96H320.79M212.90 127.03H320.79M219.65 121.10H320.79M226.39 115.17H320.79M233.13 109.24H320.79M239.88 103.31H320.79M246.62 97.38H320.79M253.36 91.45H320.79M260.11 85.52H320.79M266.85 79.59H320.79M273.59 73.66H320.79M280.33 67.73H320.79M287.08 61.80H320.79M293.82 55.87H320.79M300.56 49.94H320.79M307.31 44.01H320.79M314.05 38.08H320.79M24.10 293.07V299.00M30.84 287.14V299.00M37.59 281.21V299.00M44.33 275.28V299.00M51.07 269.35V299.00M57.82 263.42V299.00M64.56 257.49V299.00M71.30 251.56V299.00M78.04 245.63V299.00M84.79 239.70V299.00M91.53 233.77V299.00M98.27 227.84V299.00M105.02 221.91V299.00M111.76 215.98V299.00M118.50 210.05V299.00M125.25 204.12V299.00M131.99 198.19V299.00M138.73 192.26V299.00M145.47 186.33V299.00M152.22 180.40V299.00M158.96 174.47V299.00M165.70 168.54V299.00M172.45 162.61V299.00M179.19 156.68V299.00M185.93 150.75V299.00M192.68 144.82V299.00M199.42 138.89V299.00M206.16 132.96V299.00M212.90 127.03V299.00M219.65 121.10V299.00M226.39 115.17V299.00M233.13 109.24V299.00M239.88 103.31V299.00M246.62 97.38V299.00M253.36 91.45V299.00M260.11 85.52V299.00M266.85 79.59V299.00M273.59 73.66V299.00M280.33 67.73V299.00M287.08 61.80V299.00M293.82 55.87V299.00M300.56 49.94V299.00M307.31 44.01V299.00M314.05 38.08V299.00" stroke="#ffffff" stroke-opacity="0.35" stroke-width="0.5" fill="none"/><text transform="translate(21.70 298.24) scale(1.06 1)" font-size="6.3" text-anchor="end" fill="#2a2a2a">CNFN</text><text transform="translate(28.44 292.31) scale(1.06 1)" font-size="6.3" text-anchor="end" fill="#2a2a2a">DSG1</text><text transform="translate(35.19 286.38) scale(1.06 1)" font-size="6.3" text-anchor="end" fill="#2a2a2a">DSG2</text><text transform="translate(41.93 280.44) scale(1.06 1)" font-size="6.3" text-anchor="end" fill="#2a2a2a">DSG3</text><text transform="translate(48.67 274.51) scale(1.06 1)" font-size="6.3" text-anchor="end" fill="#2a2a2a">EVPL</text><text transform="translate(55.42 268.58) scale(1.06 1)" font-size="6.3" text-anchor="end" fill="#2a2a2a">FLG</text><text transform="translate(62.16 262.65) scale(1.06 1)" font-size="6.3" text-anchor="end" fill="#2a2a2a">IVL</text><text transform="translate(68.90 256.73) scale(1.06 1)" font-size="6.3" text-anchor="end" fill="#2a2a2a">KRT14</text><text transform="translate(75.64 250.79) scale(1.06 1)" font-size="6.3" text-anchor="end" fill="#2a2a2a">KRT17</text><text transform="translate(82.39 244.87) scale(1.06 1)" font-size="6.3" text-anchor="end" fill="#2a2a2a">KRT5</text><text transform="translate(89.13 238.94) scale(1.06 1)" font-size="6.3" text-anchor="end" fill="#2a2a2a">KRT6A</text><text transform="translate(95.87 233.00) scale(1.06 1)" font-size="6.3" text-anchor="end" fill="#2a2a2a">LCE1A</text><text transform="translate(102.62 227.07) scale(1.06 1)" font-size="6.3" text-anchor="end" fill="#2a2a2a">LCE1B</text><text transform="translate(109.36 221.14) scale(1.06 1)" font-size="6.3" text-anchor="end" fill="#2a2a2a">LCE1C</text><text transform="translate(116.10 215.21) scale(1.06 1)" font-size="6.3" text-anchor="end" fill="#2a2a2a">LCE1D</text><text transform="translate(122.84 209.28) scale(1.06 1)" font-size="6.3" text-anchor="end" fill="#2a2a2a">LCE1E</text><text transform="translate(129.59 203.35) scale(1.06 1)" font-size="6.3" text-anchor="end" fill="#2a2a2a">LCE1F</text><text transform="translate(136.33 197.43) scale(1.06 1)" font-size="6.3" text-anchor="end" fill="#2a2a2a">LCE3C</text><text transform="translate(143.07 191.50) scale(1.06 1)" font-size="6.3" text-anchor="end" fill="#2a2a2a">LCE3D</text><text transform="translate(149.82 185.56) scale(1.06 1)" font-size="6.3" text-anchor="end" fill="#2a2a2a">LCE3E</text><text transform="translate(156.56 179.63) scale(1.06 1)" font-size="6.3" text-anchor="end" fill="#2a2a2a">LOR</text><text transform="translate(163.30 173.70) scale(1.06 1)" font-size="6.3" text-anchor="end" fill="#2a2a2a">PPL</text><text transform="translate(170.05 167.78) scale(1.06 1)" font-size="6.3" text-anchor="end" fill="#2a2a2a">PRSS8</text><text transform="translate(176.79 161.84) scale(1.06 1)" font-size="6.3" text-anchor="end" fill="#2a2a2a">RPTN</text><text transform="translate(183.53 155.91) scale(1.06 1)" font-size="6.3" text-anchor="end" fill="#2a2a2a">SPRR1A</text><text transform="translate(190.28 149.98) scale(1.06 1)" font-size="6.3" text-anchor="end" fill="#2a2a2a">SPRR1B</text><text transform="translate(197.02 144.06) scale(1.06 1)" font-size="6.3" text-anchor="end" fill="#2a2a2a">SPRR2A</text><text transform="translate(203.76 138.12) scale(1.06 1)" font-size="6.3" text-anchor="end" fill="#2a2a2a">SPRR2B</text><text transform="translate(210.50 132.19) scale(1.06 1)" font-size="6.3" text-anchor="end" fill="#2a2a2a">SPRR2D</text><text transform="translate(217.25 126.27) scale(1.06 1)" font-size="6.3" text-anchor="end" fill="#2a2a2a">SPRR2E</text><text transform="translate(223.99 120.34) scale(1.06 1)" font-size="6.3" text-anchor="end" fill="#2a2a2a">SPRR2F</text><text transform="translate(230.73 114.41) scale(1.06 1)" font-size="6.3" text-anchor="end" fill="#2a2a2a">SPRR2G</text><text transform="translate(234.98 108.48) scale(1.06 1)" font-size="6.3" text-anchor="end" fill="#2a2a2a">TGM1</text><text transform="translate(241.02 102.55) scale(1.06 1)" font-size="6.3" text-anchor="end" fill="#2a2a2a">TGM5</text><text transform="translate(251.59 95.38) scale(1.0 1) rotate(-90)" font-size="6.6" fill="#1a1a1a">APOBEC1</text><text transform="translate(258.33 89.45) scale(1.0 1) rotate(-90)" font-size="6.6" fill="#1a1a1a">APOBEC2</text><text transform="translate(265.08 83.52) scale(1.0 1) rotate(-90)" font-size="6.6" fill="#e8242f" font-weight="bold">APOBEC3A</text><text transform="translate(271.82 77.59) scale(1.0 1) rotate(-90)" font-size="6.6" fill="#1a1a1a">APOBEC3B</text><text transform="translate(278.56 71.66) scale(1.0 1) rotate(-90)" font-size="6.6" fill="#1a1a1a">APOBEC3C</text><text transform="translate(285.31 65.73) scale(1.0 1) rotate(-90)" font-size="6.6" fill="#1a1a1a">APOBEC3D</text><text transform="translate(292.05 59.80) scale(1.0 1) rotate(-90)" font-size="6.6" fill="#1a1a1a">APOBEC3F</text><text transform="translate(298.79 53.87) scale(1.0 1) rotate(-90)" font-size="6.6" fill="#1a1a1a">APOBEC3G</text><text transform="translate(305.53 47.94) scale(1.0 1) rotate(-90)" font-size="6.6" fill="#1a1a1a">APOBEC3H</text><text transform="translate(312.28 42.01) scale(1.0 1) rotate(-90)" font-size="6.6" fill="#1a1a1a">APOBEC4</text><text transform="translate(319.02 36.08) scale(1.0 1) rotate(-90)" font-size="6.6" fill="#1a1a1a">AICDA</text><line x1="0.00" y1="282.30" x2="222.60" y2="86.70" stroke="#222" stroke-width="1.1" /><line x1="234.50" y1="65.50" x2="308.50" y2="0.00" stroke="#222" stroke-width="1.1" /><text x="67.80" y="216.60" font-size="10.85" transform="rotate(-41.3 67.80 216.60)" fill="#e8283a">Squamous associated genes</text><text x="236.40" y="57.50" font-size="10.9" transform="rotate(-41.5 236.40 57.50)" fill="#4a76c6">APOBEC Family</text><text x="47.80" y="101.80" font-size="9.5" text-anchor="middle" fill="#222">Pearson’s</text><text x="48.50" y="113.60" font-size="9.5" text-anchor="middle" fill="#222">correlation coefficent</text><defs><linearGradient id="cb" x1="0" y1="0" x2="0" y2="1"><stop offset="0" stop-color="#e62e28"/><stop offset="0.25" stop-color="#ec8a76"/><stop offset="0.5" stop-color="#e6e6e6"/><stop offset="0.75" stop-color="#82b2c2"/><stop offset="1" stop-color="#1d8aa6"/></linearGradient></defs><rect x="36.4" y="120.1" width="12.5" height="52.9" fill="url(#cb)"/><text x="52.00" y="123.50" font-size="6.7" fill="#222">1.0</text><text x="52.00" y="136.00" font-size="6.7" fill="#222">0.5</text><text x="52.00" y="149.20" font-size="6.7" fill="#222">0.0</text><text x="51.90" y="162.40" font-size="6.7" fill="#222">−0.5</text><text x="51.90" y="175.50" font-size="6.7" fill="#222">−1.0</text><text x="336.20" y="33.50" font-size="19">B</text><text transform="translate(465.60 41.40) scale(0.95 1)" font-size="11.3" fill="#222">All epithelial cells</text><line x1="394.90" y1="45.80" x2="611.00" y2="45.80" stroke="#111" stroke-width="1.3" /><text x="651.50" y="29.50" font-size="11" text-anchor="middle" fill="#222">Epithelial</text><text x="651.50" y="42.50" font-size="11" text-anchor="middle" fill="#222">cell type</text><line x1="621.50" y1="45.80" x2="685.00" y2="45.80" stroke="#111" stroke-width="1.3" /><text transform="translate(418.90 61.10) scale(0.94 1)" font-size="11.3" fill="#222">Conventional - UC</text><line x1="396.40" y1="57.60" x2="416.70" y2="57.60" stroke="#222" stroke-width="1" /><line x1="396.40" y1="55.00" x2="396.40" y2="60.20" stroke="#222" stroke-width="1" /><line x1="510.20" y1="57.60" x2="530.60" y2="57.60" stroke="#222" stroke-width="1" /><line x1="530.60" y1="55.00" x2="530.60" y2="60.20" stroke="#222" stroke-width="1" /><text x="553.10" y="60.30" font-size="11" text-anchor="middle" fill="#222">SqD</text><text x="596.00" y="61.10" font-size="11" text-anchor="middle" fill="#222">SqD</text><text x="636.00" y="61.10" font-size="11" text-anchor="middle" fill="#222">UC</text><text x="666.40" y="61.10" font-size="11" text-anchor="middle" fill="#222">Sq.</text><rect x="395.00" y="64.20" width="34.72" height="28.17" fill="#f2c9c9" /><text transform="translate(412.36 80.80) scale(0.85 1)" font-size="9.5" text-anchor="middle" fill="#2a2a2a">0.05</text><rect x="429.72" y="64.20" width="34.72" height="28.17" fill="#e8e6ee" /><text transform="translate(447.08 80.80) scale(0.85 1)" font-size="9.5" text-anchor="middle" fill="#2a2a2a">−0.01</text><rect x="464.44" y="64.20" width="34.72" height="28.17" fill="#eaa7a9" /><text transform="translate(481.80 80.80) scale(0.85 1)" font-size="9.5" text-anchor="middle" fill="#2a2a2a">0.07</text><rect x="499.16" y="64.20" width="34.72" height="28.17" fill="#f0c6c6" /><text transform="translate(516.52 80.80) scale(0.85 1)" font-size="9.5" text-anchor="middle" fill="#2a2a2a">0.03</text><rect x="533.88" y="64.20" width="34.72" height="28.17" fill="#e8383c" /><text transform="translate(551.24 80.80) scale(0.85 1)" font-size="9.5" text-anchor="middle" fill="#2a2a2a">0.18</text><rect x="395.00" y="92.37" width="34.72" height="28.17" fill="#c8c8e0" /><text transform="translate(412.36 108.98) scale(0.85 1)" font-size="9.5" text-anchor="middle" fill="#2a2a2a">−0.04</text><rect x="429.72" y="92.37" width="34.72" height="28.17" fill="#f0c6c6" /><text transform="translate(447.08 108.98) scale(0.85 1)" font-size="9.5" text-anchor="middle" fill="#2a2a2a">0.03</text><rect x="464.44" y="92.37" width="34.72" height="28.17" fill="#f0c6c6" /><text transform="translate(481.80 108.98) scale(0.85 1)" font-size="9.5" text-anchor="middle" fill="#2a2a2a">0.03</text><rect x="499.16" y="92.37" width="34.72" height="28.17" fill="#f8e5e5" /><text transform="translate(516.52 108.98) scale(0.85 1)" font-size="9.5" text-anchor="middle" fill="#2a2a2a">0.02</text><rect x="533.88" y="92.37" width="34.72" height="28.17" fill="#a9a9cd" /><text transform="translate(551.24 108.98) scale(0.85 1)" font-size="9.5" text-anchor="middle" fill="#2a2a2a">−0.07</text><rect x="395.00" y="120.54" width="34.72" height="28.17" fill="#e07478" /><text transform="translate(412.36 137.14) scale(0.85 1)" font-size="9.5" text-anchor="middle" fill="#2a2a2a">0.12</text><rect x="429.72" y="120.54" width="34.72" height="28.17" fill="#ecaeb0" /><text transform="translate(447.08 137.14) scale(0.85 1)" font-size="9.5" text-anchor="middle" fill="#2a2a2a">0.06</text><rect x="464.44" y="120.54" width="34.72" height="28.17" fill="#e48a8e" /><text transform="translate(481.80 137.14) scale(0.85 1)" font-size="9.5" text-anchor="middle" fill="#2a2a2a">0.10</text><rect x="499.16" y="120.54" width="34.72" height="28.17" fill="#e6979a" /><text transform="translate(516.52 137.14) scale(0.85 1)" font-size="9.5" text-anchor="middle" fill="#2a2a2a">0.08</text><rect x="533.88" y="120.54" width="34.72" height="28.17" fill="#f0c4c4" /><text transform="translate(551.24 137.14) scale(0.85 1)" font-size="9.5" text-anchor="middle" fill="#2a2a2a">0.05</text><rect x="395.00" y="148.71" width="34.72" height="28.17" fill="#e8e6ee" /><text transform="translate(412.36 165.31) scale(0.85 1)" font-size="9.5" text-anchor="middle" fill="#2a2a2a">−0.00</text><rect x="429.72" y="148.71" width="34.72" height="28.17" fill="#f0c6c6" /><text transform="translate(447.08 165.31) scale(0.85 1)" font-size="9.5" text-anchor="middle" fill="#2a2a2a">0.03</text><rect x="464.44" y="148.71" width="34.72" height="28.17" fill="#f2c8c8" /><text transform="translate(481.80 165.31) scale(0.85 1)" font-size="9.5" text-anchor="middle" fill="#2a2a2a">0.04</text><rect x="499.16" y="148.71" width="34.72" height="28.17" fill="#f2c8c8" /><text transform="translate(516.52 165.31) scale(0.85 1)" font-size="9.5" text-anchor="middle" fill="#2a2a2a">0.04</text><rect x="533.88" y="148.71" width="34.72" height="28.17" fill="#c6c6de" /><text transform="translate(551.24 165.31) scale(0.85 1)" font-size="9.5" text-anchor="middle" fill="#2a2a2a">−0.03</text><rect x="395.00" y="176.88" width="34.72" height="28.17" fill="#f2c8c8" /><text transform="translate(412.36 193.48) scale(0.85 1)" font-size="9.5" text-anchor="middle" fill="#2a2a2a">0.03</text><rect x="429.72" y="176.88" width="34.72" height="28.17" fill="#f2c8c8" /><text transform="translate(447.08 193.48) scale(0.85 1)" font-size="9.5" text-anchor="middle" fill="#2a2a2a">0.03</text><rect x="464.44" y="176.88" width="34.72" height="28.17" fill="#eaaaac" /><text transform="translate(481.80 193.48) scale(0.85 1)" font-size="9.5" text-anchor="middle" fill="#2a2a2a">0.05</text><rect x="499.16" y="176.88" width="34.72" height="28.17" fill="#e6e6ee" /><text transform="translate(516.52 193.48) scale(0.85 1)" font-size="9.5" text-anchor="middle" fill="#2a2a2a">−0.02</text><rect x="533.88" y="176.88" width="34.72" height="28.17" fill="#f8e4e4" /><text transform="translate(551.24 193.48) scale(0.85 1)" font-size="9.5" text-anchor="middle" fill="#2a2a2a">0.02</text><rect x="395.00" y="205.05" width="34.72" height="28.17" fill="#f0c4c4" /><text transform="translate(412.36 221.66) scale(0.85 1)" font-size="9.5" text-anchor="middle" fill="#2a2a2a">0.03</text><rect x="429.72" y="205.05" width="34.72" height="28.17" fill="#f8e6e6" /><text transform="translate(447.08 221.66) scale(0.85 1)" font-size="9.5" text-anchor="middle" fill="#2a2a2a">0.02</text><rect x="464.44" y="205.05" width="34.72" height="28.17" fill="#eaaaac" /><text transform="translate(481.80 221.66) scale(0.85 1)" font-size="9.5" text-anchor="middle" fill="#2a2a2a">0.05</text><rect x="499.16" y="205.05" width="34.72" height="28.17" fill="#e8e8ee" /><text transform="translate(516.52 221.66) scale(0.85 1)" font-size="9.5" text-anchor="middle" fill="#2a2a2a">−0.01</text><rect x="533.88" y="205.05" width="34.72" height="28.17" fill="#8e8ec4" /><text transform="translate(551.24 221.66) scale(0.85 1)" font-size="9.5" text-anchor="middle" fill="#2a2a2a">−0.08</text><rect x="395.00" y="233.22" width="34.72" height="28.17" fill="#e6e6ee" /><text transform="translate(412.36 249.83) scale(0.85 1)" font-size="9.5" text-anchor="middle" fill="#2a2a2a">−0.02</text><rect x="429.72" y="233.22" width="34.72" height="28.17" fill="#e8e8ee" /><text transform="translate(447.08 249.83) scale(0.85 1)" font-size="9.5" text-anchor="middle" fill="#2a2a2a">−0.00</text><rect x="464.44" y="233.22" width="34.72" height="28.17" fill="#f8e6e6" /><text transform="translate(481.80 249.83) scale(0.85 1)" font-size="9.5" text-anchor="middle" fill="#2a2a2a">0.02</text><rect x="499.16" y="233.22" width="34.72" height="28.17" fill="#e8a0a2" /><text transform="translate(516.52 249.83) scale(0.85 1)" font-size="9.5" text-anchor="middle" fill="#2a2a2a">0.06</text><rect x="533.88" y="233.22" width="34.72" height="28.17" fill="#d6d6d6" /><text transform="translate(551.24 249.83) scale(0.85 1)" font-size="9.5" text-anchor="middle" fill="#2a2a2a">NaN</text><path d="M395.00 64.20H568.60M395.00 92.37H568.60M395.00 120.54H568.60M395.00 148.71H568.60M395.00 176.88H568.60M395.00 205.05H568.60M395.00 233.22H568.60M395.00 261.39H568.60M395.00 64.20V261.39M429.72 64.20V261.39M464.44 64.20V261.39M499.16 64.20V261.39M533.88 64.20V261.39M568.60 64.20V261.39" stroke="#8e8e8e" stroke-width="1" fill="none"/><rect x="580.70" y="64.20" width="30.10" height="28.17" fill="#e8303c" /><text transform="translate(595.75 80.48) scale(0.85 1)" font-size="8.6" text-anchor="middle" fill="#555">0.36</text><rect x="580.70" y="92.37" width="30.10" height="28.17" fill="#f0c8c8" /><text transform="translate(595.75 108.65) scale(0.85 1)" font-size="8.6" text-anchor="middle" fill="#555">0.05</text><rect x="580.70" y="120.54" width="30.10" height="28.17" fill="#e6e6ee" /><text transform="translate(595.75 136.82) scale(0.85 1)" font-size="8.6" text-anchor="middle" fill="#555">−0.03</text><rect x="580.70" y="148.71" width="30.10" height="28.17" fill="#f8e6e6" /><text transform="translate(595.75 164.99) scale(0.85 1)" font-size="8.6" text-anchor="middle" fill="#555">0.02</text><rect x="580.70" y="176.88" width="30.10" height="28.17" fill="#a8a8cc" /><text transform="translate(595.75 193.16) scale(0.85 1)" font-size="8.6" text-anchor="middle" fill="#555">−0.08</text><rect x="580.70" y="205.05" width="30.10" height="28.17" fill="#f8e6e6" /><text transform="translate(595.75 221.33) scale(0.85 1)" font-size="8.6" text-anchor="middle" fill="#555">0.02</text><rect x="580.70" y="233.22" width="30.10" height="28.17" fill="#e6e6ee" /><text transform="translate(595.75 249.50) scale(0.85 1)" font-size="8.6" text-anchor="middle" fill="#555">−0.01</text><path d="M580.70 64.20H610.80M580.70 92.37H610.80M580.70 120.54H610.80M580.70 148.71H610.80M580.70 176.88H610.80M580.70 205.05H610.80M580.70 233.22H610.80M580.70 261.39H610.80M580.70 64.20V261.39M610.80 64.20V261.39" stroke="#8e8e8e" stroke-width="1" fill="none"/><rect x="621.50" y="64.20" width="30.10" height="28.17" fill="#e07c80" /><text transform="translate(636.55 80.80) scale(0.85 1)" font-size="9.5" text-anchor="middle" fill="#2a2a2a">0.17</text><rect x="651.60" y="64.20" width="30.20" height="28.17" fill="#e8383e" /><text transform="translate(666.70 80.80) scale(0.85 1)" font-size="9.5" text-anchor="middle" fill="#2a2a2a">0.31</text><rect x="621.50" y="92.37" width="30.10" height="28.17" fill="#f0c4c6" /><text transform="translate(636.55 108.98) scale(0.85 1)" font-size="9.5" text-anchor="middle" fill="#2a2a2a">0.04</text><rect x="651.60" y="92.37" width="30.20" height="28.17" fill="#f8e6e6" /><text transform="translate(666.70 108.98) scale(0.85 1)" font-size="9.5" text-anchor="middle" fill="#2a2a2a">0.04</text><rect x="621.50" y="120.54" width="30.10" height="28.17" fill="#f8e6e6" /><text transform="translate(636.55 137.14) scale(0.85 1)" font-size="9.5" text-anchor="middle" fill="#2a2a2a">0.03</text><rect x="651.60" y="120.54" width="30.20" height="28.17" fill="#f8e6e6" /><text transform="translate(666.70 137.14) scale(0.85 1)" font-size="9.5" text-anchor="middle" fill="#2a2a2a">0.03</text><rect x="621.50" y="148.71" width="30.10" height="28.17" fill="#e6e6ee" /><text transform="translate(636.55 165.31) scale(0.85 1)" font-size="9.5" text-anchor="middle" fill="#2a2a2a">−0.03</text><rect x="651.60" y="148.71" width="30.20" height="28.17" fill="#f0c4c6" /><text transform="translate(666.70 165.31) scale(0.85 1)" font-size="9.5" text-anchor="middle" fill="#2a2a2a">0.04</text><rect x="621.50" y="176.88" width="30.10" height="28.17" fill="#e8e8ee" /><text transform="translate(636.55 193.48) scale(0.85 1)" font-size="9.5" text-anchor="middle" fill="#2a2a2a">−0.04</text><rect x="651.60" y="176.88" width="30.20" height="28.17" fill="#a8a8cc" /><text transform="translate(666.70 193.48) scale(0.85 1)" font-size="9.5" text-anchor="middle" fill="#2a2a2a">−0.09</text><rect x="621.50" y="205.05" width="30.10" height="28.17" fill="#f0c4c6" /><text transform="translate(636.55 221.66) scale(0.85 1)" font-size="9.5" text-anchor="middle" fill="#2a2a2a">0.05</text><rect x="651.60" y="205.05" width="30.20" height="28.17" fill="#e8e8ee" /><text transform="translate(666.70 221.66) scale(0.85 1)" font-size="9.5" text-anchor="middle" fill="#2a2a2a">−0.01</text><rect x="621.50" y="233.22" width="30.10" height="28.17" fill="#f8e6e6" /><text transform="translate(636.55 249.83) scale(0.85 1)" font-size="9.5" text-anchor="middle" fill="#2a2a2a">0.02</text><rect x="651.60" y="233.22" width="30.20" height="28.17" fill="#e6e6ee" /><text transform="translate(666.70 249.83) scale(0.85 1)" font-size="9.5" text-anchor="middle" fill="#2a2a2a">−0.03</text><path d="M621.50 64.20H681.80M621.50 92.37H681.80M621.50 120.54H681.80M621.50 148.71H681.80M621.50 176.88H681.80M621.50 205.05H681.80M621.50 233.22H681.80M621.50 261.39H681.80M621.50 64.20V261.39M651.60 64.20V261.39M681.80 64.20V261.39" stroke="#8e8e8e" stroke-width="1" fill="none"/><text transform="translate(334.00 81.88) scale(0.88 1)" font-size="10.9" fill="#111" font-style="italic">APOBEC3A</text><text transform="translate(334.00 110.06) scale(0.88 1)" font-size="10.9" fill="#111" font-style="italic">APOBEC3B</text><text transform="translate(334.00 138.22) scale(0.88 1)" font-size="10.9" fill="#111" font-style="italic">APOBEC3C</text><text transform="translate(334.00 166.40) scale(0.88 1)" font-size="10.9" fill="#111" font-style="italic">APOBEC3D</text><text transform="translate(334.00 194.56) scale(0.88 1)" font-size="10.9" fill="#111" font-style="italic">APOBEC3F</text><text transform="translate(334.00 222.74) scale(0.88 1)" font-size="10.9" fill="#111" font-style="italic">APOBEC3G</text><text transform="translate(334.00 250.91) scale(0.88 1)" font-size="10.9" fill="#111" font-style="italic">APOBEC3H</text><text x="411.20" y="271.90" font-size="10.5" text-anchor="middle" fill="#111">553</text><text x="442.70" y="271.90" font-size="10.5" text-anchor="middle" fill="#111">534</text><text x="478.70" y="271.90" font-size="10.5" text-anchor="middle" fill="#111">543</text><text x="512.90" y="271.90" font-size="10.5" text-anchor="middle" fill="#111">550</text><text x="548.40" y="271.90" font-size="10.5" text-anchor="middle" fill="#111">562</text><line x1="395.00" y1="276.50" x2="568.60" y2="276.50" stroke="#111" stroke-width="1.3" /><line x1="580.60" y1="276.50" x2="681.70" y2="276.50" stroke="#111" stroke-width="1.3" /><text x="481.30" y="290.80" font-size="10.5" text-anchor="middle" fill="#111">UNC scRNA-seq</text><text x="629.30" y="291.00" font-size="10.5" text-anchor="middle" fill="#111">Warrick scRNA-seq</text><text x="5.60" y="327.70" font-size="19">C</text><line x1="38.90" y1="343.40" x2="38.90" y2="393.80" stroke="#999" stroke-width="1.3" /><line x1="38.30" y1="393.80" x2="167.00" y2="393.80" stroke="#999" stroke-width="1.6" /><line x1="36.30" y1="391.50" x2="38.90" y2="391.50" stroke="#333" stroke-width="0.9" /><text x="35.30" y="395.00" font-size="9.8" text-anchor="end" fill="#111" textLength="5.3" lengthAdjust="spacingAndGlyphs">0</text><line x1="36.30" y1="382.26" x2="38.90" y2="382.26" stroke="#333" stroke-width="0.9" /><text x="35.30" y="385.76" font-size="9.8" text-anchor="end" fill="#111" textLength="5.3" lengthAdjust="spacingAndGlyphs">1</text><line x1="36.30" y1="373.02" x2="38.90" y2="373.02" stroke="#333" stroke-width="0.9" /><text x="35.30" y="376.52" font-size="9.8" text-anchor="end" fill="#111" textLength="5.3" lengthAdjust="spacingAndGlyphs">2</text><line x1="36.30" y1="363.78" x2="38.90" y2="363.78" stroke="#333" stroke-width="0.9" /><text x="35.30" y="367.28" font-size="9.8" text-anchor="end" fill="#111" textLength="5.3" lengthAdjust="spacingAndGlyphs">3</text><line x1="36.30" y1="354.54" x2="38.90" y2="354.54" stroke="#333" stroke-width="0.9" /><text x="35.30" y="358.04" font-size="9.8" text-anchor="end" fill="#111" textLength="5.3" lengthAdjust="spacingAndGlyphs">4</text><line x1="36.30" y1="345.30" x2="38.90" y2="345.30" stroke="#333" stroke-width="0.9" /><text x="35.30" y="348.80" font-size="9.8" text-anchor="end" fill="#111" textLength="5.3" lengthAdjust="spacingAndGlyphs">5</text><line x1="44.40" y1="394.50" x2="44.40" y2="396.50" stroke="#333" stroke-width="0.9" /><text x="49.80" y="403.10" font-size="9.8" transform="rotate(-45 49.80 403.10)" text-anchor="end" fill="#111">0</text><line x1="54.13" y1="394.50" x2="54.13" y2="396.50" stroke="#333" stroke-width="0.9" /><text x="59.53" y="403.10" font-size="9.8" transform="rotate(-45 59.53 403.10)" text-anchor="end" fill="#111">1</text><line x1="63.86" y1="394.50" x2="63.86" y2="396.50" stroke="#333" stroke-width="0.9" /><text x="69.26" y="403.10" font-size="9.8" transform="rotate(-45 69.26 403.10)" text-anchor="end" fill="#111">2</text><line x1="73.59" y1="394.50" x2="73.59" y2="396.50" stroke="#333" stroke-width="0.9" /><text x="78.99" y="403.10" font-size="9.8" transform="rotate(-45 78.99 403.10)" text-anchor="end" fill="#111">3</text><line x1="83.32" y1="394.50" x2="83.32" y2="396.50" stroke="#333" stroke-width="0.9" /><text x="88.72" y="403.10" font-size="9.8" transform="rotate(-45 88.72 403.10)" text-anchor="end" fill="#111">4</text><line x1="93.05" y1="394.50" x2="93.05" y2="396.50" stroke="#333" stroke-width="0.9" /><text x="98.45" y="403.10" font-size="9.8" transform="rotate(-45 98.45 403.10)" text-anchor="end" fill="#111">5</text><line x1="102.78" y1="394.50" x2="102.78" y2="396.50" stroke="#333" stroke-width="0.9" /><text x="108.18" y="403.10" font-size="9.8" transform="rotate(-45 108.18 403.10)" text-anchor="end" fill="#111">6</text><line x1="112.51" y1="394.50" x2="112.51" y2="396.50" stroke="#333" stroke-width="0.9" /><text x="117.91" y="403.10" font-size="9.8" transform="rotate(-45 117.91 403.10)" text-anchor="end" fill="#111">7</text><line x1="122.24" y1="394.50" x2="122.24" y2="396.50" stroke="#333" stroke-width="0.9" /><text x="127.64" y="403.10" font-size="9.8" transform="rotate(-45 127.64 403.10)" text-anchor="end" fill="#111">8</text><line x1="131.97" y1="394.50" x2="131.97" y2="396.50" stroke="#333" stroke-width="0.9" /><text x="137.37" y="403.10" font-size="9.8" transform="rotate(-45 137.37 403.10)" text-anchor="end" fill="#111">9</text><line x1="141.70" y1="394.50" x2="141.70" y2="396.50" stroke="#333" stroke-width="0.9" /><text x="147.10" y="403.10" font-size="9.8" transform="rotate(-45 147.10 403.10)" text-anchor="end" fill="#111">10</text><line x1="151.43" y1="394.50" x2="151.43" y2="396.50" stroke="#333" stroke-width="0.9" /><text x="156.83" y="403.10" font-size="9.8" transform="rotate(-45 156.83 403.10)" text-anchor="end" fill="#111">11</text><line x1="161.16" y1="394.50" x2="161.16" y2="396.50" stroke="#333" stroke-width="0.9" /><text x="166.56" y="403.10" font-size="9.8" transform="rotate(-45 166.56 403.10)" text-anchor="end" fill="#111">12</text><rect x="40.20" y="390.50" width="8.40" height="2.00" fill="#000" /><line x1="44.40" y1="391.50" x2="44.40" y2="368.40" stroke="#555" stroke-width="1.0" /><path d="M40.60 380.87h0M41.20 383.46h0M44.60 383.46h0M45.20 375.24h0M46.30 381.34h0M48.10 368.58h0" stroke="#000" stroke-width="1.5" stroke-linecap="round"/><rect x="49.93" y="390.50" width="8.40" height="2.00" fill="#000" /><line x1="54.13" y1="391.50" x2="54.13" y2="372.10" stroke="#555" stroke-width="1.0" /><path d="M50.93 378.10h0M51.13 379.49h0M54.43 382.26h0M55.63 381.34h0M56.03 372.10h0M56.33 382.26h0" stroke="#000" stroke-width="1.5" stroke-linecap="round"/><rect x="59.66" y="390.50" width="8.40" height="2.00" fill="#000" /><path d="M67.76 391.50 L67.41 391.21 L67.07 390.92 L66.74 390.63 L66.43 390.35 L66.14 390.06 L65.86 389.77 L65.59 389.48 L65.35 389.19 L65.12 388.90 L64.91 388.61 L64.72 388.32 L64.55 388.04 L64.41 387.75 L64.29 387.46 L64.20 387.17 L64.16 386.88 L63.56 386.88 L63.52 387.17 L63.43 387.46 L63.31 387.75 L63.17 388.04 L63.00 388.32 L62.81 388.61 L62.60 388.90 L62.37 389.19 L62.13 389.48 L61.86 389.77 L61.58 390.06 L61.29 390.35 L60.98 390.63 L60.65 390.92 L60.31 391.21 L59.96 391.50Z" fill="#d8a12a" stroke="#222" stroke-width="0.4"/><path d="M63.51 385.72h0M65.46 362.91h0M63.34 364.32h0M64.12 361.84h0M63.52 388.11h0M67.24 389.29h0M62.58 356.47h0M65.95 379.75h0M61.35 383.60h0M62.67 384.15h0M67.47 368.18h0M67.42 383.34h0M66.99 370.77h0M61.21 361.18h0M60.93 367.37h0M63.05 390.83h0M64.38 362.81h0M66.52 384.01h0M61.81 357.69h0M64.93 374.68h0M60.95 358.10h0M67.51 370.82h0M65.55 368.81h0M63.92 362.75h0M64.56 380.46h0M62.64 371.76h0M62.79 359.86h0M65.90 373.39h0M66.91 361.34h0M61.93 367.26h0M67.05 360.11h0M65.94 364.95h0M63.81 372.29h0M61.11 369.77h0M66.68 366.37h0M65.84 385.03h0M60.90 365.26h0M64.60 389.19h0M62.38 383.04h0M65.04 368.37h0M64.39 363.71h0M60.06 378.86h0M61.46 386.88h0M65.58 371.87h0M63.00 383.40h0M63.08 356.86h0M64.78 365.01h0M63.68 366.96h0M65.43 371.14h0M66.19 385.16h0M60.33 359.18h0M61.90 383.81h0M61.05 387.59h0M60.92 367.63h0M67.34 388.60h0M64.18 376.37h0M62.64 373.73h0M61.47 374.46h0M61.92 369.88h0M61.59 385.73h0M67.22 375.97h0M67.61 369.22h0M61.99 376.41h0M61.45 365.10h0M63.01 354.61h0M62.08 381.13h0M67.27 379.93h0M64.32 354.83h0M60.04 382.57h0M62.28 388.12h0M64.85 367.58h0M66.36 359.89h0M65.22 378.17h0M65.64 374.82h0M67.58 384.31h0M64.78 390.20h0M66.21 378.17h0M66.91 385.80h0M65.69 390.92h0M63.92 365.36h0M62.94 384.67h0M61.62 374.74h0M66.53 385.16h0M62.07 370.98h0M64.90 368.21h0M64.52 386.07h0M60.83 369.71h0M66.69 380.06h0M61.70 369.90h0M63.54 376.68h0M66.67 365.19h0M60.32 387.85h0M60.12 374.92h0M60.79 385.41h0M64.84 387.81h0M64.38 387.55h0M61.06 355.78h0M64.52 363.34h0M67.37 384.83h0M62.92 364.15h0M60.77 358.61h0M66.53 360.61h0M67.10 386.80h0M67.09 362.42h0M65.72 380.76h0M62.68 362.58h0M60.07 389.76h0M64.23 372.55h0M64.88 386.48h0M63.69 389.14h0M61.55 372.40h0M67.00 389.30h0M64.55 359.93h0M64.06 389.97h0M65.94 355.89h0M60.27 365.91h0M61.77 369.93h0M60.05 355.03h0M66.82 382.91h0M62.30 386.65h0M66.84 379.85h0M67.24 365.63h0M60.65 384.03h0M65.94 378.51h0M67.25 368.44h0M60.60 365.02h0M61.55 379.54h0M65.16 381.27h0M65.86 374.85h0M67.05 390.46h0M65.75 385.12h0M60.29 360.22h0M67.57 371.24h0M63.84 390.77h0M62.94 375.52h0M61.37 383.94h0M61.66 381.33h0M66.99 380.31h0M61.99 356.40h0M62.04 390.03h0M61.33 359.77h0M60.68 366.88h0M61.28 378.18h0M62.85 368.54h0M64.00 362.79h0M60.13 376.30h0M60.26 360.43h0M67.67 372.83h0M62.73 362.18h0M61.97 357.10h0M64.45 369.81h0M62.21 364.72h0M62.49 376.52h0M65.72 357.51h0M66.00 378.63h0M61.89 368.49h0M60.72 372.82h0M60.56 383.32h0M64.76 388.09h0M66.47 360.75h0M67.35 383.04h0M65.35 378.81h0M63.67 369.30h0M66.91 365.87h0M63.93 365.64h0M65.78 359.60h0M67.60 377.37h0M60.27 376.31h0M67.31 355.87h0M65.81 371.50h0M60.73 365.63h0M64.86 362.00h0M63.70 355.80h0M65.96 380.90h0M66.77 370.86h0M65.30 389.48h0M61.38 357.84h0M63.79 387.73h0M64.88 367.19h0M62.60 371.71h0M67.67 365.10h0M63.04 372.56h0M61.34 355.68h0M66.51 370.50h0M65.79 362.19h0M63.47 366.16h0M59.97 355.79h0M63.47 375.58h0M62.20 364.83h0M63.45 383.82h0M64.08 367.82h0M63.65 359.11h0M64.97 383.55h0M60.16 376.82h0M60.82 376.40h0M67.01 367.70h0M67.43 364.29h0M66.48 385.82h0M61.83 363.17h0M61.31 373.75h0M64.05 379.75h0M63.00 376.86h0M65.24 365.08h0M64.41 386.80h0M60.21 362.66h0M60.12 363.77h0M62.94 375.41h0M60.54 390.30h0M62.04 366.58h0M61.23 372.09h0M67.25 368.57h0M62.82 363.57h0M62.69 356.08h0M63.25 380.88h0M62.98 355.09h0M64.20 380.42h0M65.88 367.81h0M65.21 365.14h0M63.38 376.01h0M63.82 355.22h0M62.76 363.27h0M63.01 390.62h0M63.07 371.99h0M61.22 383.38h0M65.47 389.23h0M66.32 371.78h0M65.83 359.52h0M67.00 362.05h0M66.36 357.68h0M62.68 358.34h0M66.93 354.67h0M66.58 361.37h0M64.44 363.80h0M67.22 372.13h0M64.99 380.57h0M62.03 356.95h0M62.38 385.32h0M63.92 374.91h0M61.85 382.52h0M63.63 385.69h0M62.71 385.87h0M64.90 384.75h0M61.75 368.40h0M62.18 354.57h0M62.30 357.94h0M64.56 370.55h0M62.60 369.93h0M64.82 362.17h0M63.72 370.58h0M63.14 380.70h0M65.50 364.23h0M65.64 354.72h0M62.52 354.84h0M67.74 380.94h0M64.48 375.50h0M60.94 359.33h0M63.60 386.69h0M60.44 383.73h0M64.26 365.04h0M64.94 374.45h0M63.05 379.89h0M64.98 378.81h0M64.47 374.31h0M64.39 371.00h0M66.05 389.38h0M60.50 357.87h0M64.41 363.94h0M60.09 364.00h0M64.21 389.76h0M60.78 370.81h0M60.72 362.70h0M66.17 358.46h0M66.64 364.62h0M64.73 380.39h0M65.82 390.22h0M60.35 384.41h0M60.44 363.28h0M67.45 367.56h0M64.23 371.32h0M65.76 363.28h0M60.36 372.80h0M65.64 355.10h0M65.17 373.59h0M61.78 381.87h0M63.06 389.62h0M60.75 370.39h0M62.99 384.28h0M66.27 391.03h0M67.03 385.14h0M62.38 370.23h0M64.87 388.43h0M62.56 388.89h0M66.42 354.62h0M64.52 365.12h0M65.77 368.46h0M60.73 359.05h0M67.57 358.35h0M62.54 369.76h0M62.64 389.13h0M65.25 389.73h0M65.66 369.33h0M62.42 359.30h0M65.73 363.67h0M60.45 370.66h0M64.25 359.47h0M66.61 374.07h0M60.23 386.80h0M65.54 366.75h0M64.31 371.71h0M66.40 362.87h0M65.68 367.38h0M61.25 372.46h0M60.33 361.85h0M64.41 384.89h0M66.89 377.63h0M63.79 380.07h0M66.53 384.14h0M65.55 377.87h0M63.47 364.19h0M67.48 386.84h0M66.40 389.71h0M63.31 385.28h0M63.27 374.83h0M65.23 369.54h0M60.48 366.30h0M61.44 377.50h0M64.17 355.71h0M61.60 354.91h0M64.02 366.03h0M61.45 379.00h0M66.90 368.98h0M63.99 373.02h0M61.98 356.53h0M66.84 378.17h0M60.25 388.12h0M63.72 366.83h0M64.40 357.95h0M65.13 380.89h0M64.86 374.81h0M60.46 383.84h0M66.53 357.83h0M60.79 385.55h0M65.49 360.81h0M66.58 374.66h0M66.38 361.22h0M66.27 357.68h0M64.95 390.96h0M66.94 387.59h0M64.69 360.98h0M65.32 375.08h0M65.33 380.22h0M60.26 355.93h0M66.25 376.79h0M62.70 384.47h0M64.42 361.22h0M63.08 381.46h0M63.93 377.73h0M61.89 354.80h0M66.91 379.26h0M65.00 373.24h0M60.75 359.38h0M61.07 384.56h0M60.45 384.58h0M67.11 382.40h0M65.31 358.21h0M65.78 372.22h0M62.16 356.14h0M60.95 364.37h0M64.06 377.13h0M61.58 368.14h0M61.26 376.02h0M66.23 377.82h0M62.53 382.28h0M61.44 369.08h0M62.49 358.85h0M62.45 380.04h0M63.47 374.47h0M63.20 376.26h0M60.47 383.94h0M66.47 359.46h0M63.75 363.89h0M60.97 355.88h0M67.19 389.16h0M64.18 371.22h0M65.55 372.19h0M65.74 366.84h0M66.11 372.29h0M66.45 366.82h0M60.96 362.77h0M65.20 374.81h0M63.42 364.95h0M66.86 369.39h0M62.05 382.99h0M61.11 379.96h0M64.52 369.19h0M64.09 355.04h0M60.77 382.38h0M61.07 369.26h0M63.59 386.19h0M62.24 361.42h0M60.36 381.14h0M66.20 355.84h0M60.55 371.82h0M64.68 356.45h0M65.16 365.18h0M63.16 370.72h0M60.66 363.17h0M64.35 381.07h0M63.89 374.30h0M60.81 370.44h0M60.00 384.84h0M64.97 366.74h0M61.47 390.32h0M66.15 379.10h0M61.40 363.86h0M64.49 374.38h0M61.41 362.10h0M65.96 383.53h0M62.34 365.68h0M63.44 382.06h0M64.83 389.77h0M61.63 362.29h0M66.56 358.88h0M65.88 389.04h0M64.60 362.61h0M63.70 382.77h0M64.67 356.34h0M66.33 355.96h0M66.36 369.18h0M61.05 373.84h0M61.52 370.96h0M60.64 379.83h0M65.99 371.88h0M65.87 354.58h0M65.91 364.91h0M64.75 382.56h0M65.10 357.75h0M65.66 376.94h0M63.27 358.86h0M62.67 382.78h0M61.55 364.48h0M67.46 383.33h0M60.76 389.42h0M65.12 361.66h0M67.20 358.92h0M65.70 384.42h0M65.20 381.20h0M65.94 389.11h0M65.05 383.49h0M65.11 374.34h0M60.15 376.24h0M61.95 379.96h0M60.31 354.61h0M61.01 362.91h0M65.49 378.97h0M60.21 370.58h0M62.28 380.69h0M63.96 367.49h0M60.07 374.38h0M63.56 374.98h0M64.36 385.84h0M62.94 385.79h0M62.75 386.40h0M64.37 387.84h0M67.30 369.18h0M60.86 379.80h0M65.71 376.28h0M67.41 382.39h0M64.96 381.66h0M64.47 387.08h0M63.88 362.98h0M64.40 380.70h0M62.02 354.83h0M64.17 363.95h0M62.10 355.00h0M60.20 360.10h0M60.35 356.74h0M61.72 379.05h0M66.84 380.82h0M64.50 383.35h0M60.42 369.10h0M67.50 363.13h0M61.52 372.09h0M64.45 380.02h0M65.79 355.85h0M61.06 380.58h0M63.80 364.31h0M66.32 379.32h0M65.92 379.75h0M66.11 363.06h0M63.79 382.05h0M62.17 358.53h0M60.39 387.73h0M63.75 367.94h0M67.22 364.76h0M63.28 369.97h0M65.33 358.82h0M62.06 388.95h0M61.69 368.87h0M60.34 354.73h0M67.26 358.19h0M62.80 376.99h0M61.90 370.01h0M64.99 354.75h0M62.04 372.23h0M64.70 369.80h0M65.63 364.35h0M60.63 364.31h0M63.01 373.52h0M61.72 362.11h0M62.15 379.43h0M67.27 379.51h0M67.59 358.75h0M63.41 378.28h0M64.89 389.13h0M62.82 374.65h0M67.75 359.12h0M65.79 366.25h0M66.24 365.76h0M67.34 370.15h0M65.01 384.14h0M62.44 373.46h0M60.31 365.76h0M66.16 358.02h0M66.88 385.47h0M65.63 378.42h0M66.28 389.39h0M63.14 363.56h0M63.90 377.19h0M67.61 386.88h0M64.80 372.55h0M61.27 370.31h0M67.44 365.37h0M63.39 354.77h0M67.69 374.58h0M65.24 362.17h0M66.75 366.24h0M62.66 379.65h0M61.45 378.76h0M60.04 369.24h0M62.23 368.51h0M61.13 376.05h0M61.55 360.73h0M66.26 389.51h0M62.27 389.60h0M61.26 354.62h0M65.50 371.44h0M64.06 370.65h0M60.35 363.19h0M61.34 379.38h0M66.97 355.08h0M64.23 383.48h0M64.18 364.27h0M65.97 363.69h0M60.84 388.98h0M61.64 382.93h0M62.24 386.92h0M63.36 375.15h0M64.30 385.04h0M62.09 368.16h0M65.17 355.05h0M63.76 356.46h0M64.95 363.39h0M62.38 358.09h0M67.13 376.27h0M63.25 381.90h0M60.32 381.52h0M60.02 356.14h0M64.17 370.86h0M67.67 359.54h0M63.85 364.84h0M61.51 358.10h0M62.39 367.81h0M60.45 357.18h0M62.06 369.23h0M61.35 356.40h0M60.02 364.52h0M62.84 382.19h0M66.10 367.78h0M61.02 374.52h0M60.91 378.87h0M63.32 359.90h0M65.56 374.25h0M63.87 367.81h0M64.59 376.33h0M65.60 389.56h0M62.30 380.87h0M67.48 388.73h0M60.23 375.04h0M66.17 354.86h0M60.97 361.20h0M65.81 383.02h0M65.69 370.49h0M65.20 365.43h0M66.74 358.32h0M61.02 367.50h0M63.90 371.82h0M67.31 375.12h0M66.73 371.58h0M66.10 358.55h0M64.77 388.09h0M65.71 378.08h0M60.01 387.21h0M65.06 365.71h0M60.77 367.41h0M66.93 367.02h0M64.19 359.63h0M66.90 378.28h0M66.11 356.78h0M60.74 374.36h0M65.82 375.86h0M62.85 383.15h0M66.05 378.73h0M64.38 379.53h0M67.33 381.13h0M66.49 383.65h0M65.64 376.72h0M60.73 356.67h0M61.48 383.39h0M65.80 383.74h0M61.26 348.07h0M61.46 346.22h0M65.06 347.15h0M67.06 349.00h0M66.46 350.84h0M63.36 349.92h0M64.66 351.77h0M67.36 351.77h0M60.36 353.62h0M62.86 352.69h0M65.86 352.23h0M67.66 354.54h0M61.86 353.15h0M64.16 354.08h0M65.36 350.84h0M60.66 355.46h0M66.76 353.62h0" stroke="#000" stroke-width="1.4" stroke-linecap="round"/><rect x="69.39" y="390.50" width="8.40" height="2.00" fill="#000" /><line x1="73.59" y1="391.50" x2="73.59" y2="374.87" stroke="#999" stroke-width="1.0" /><path d="M71.29 374.87h0M72.99 379.49h0M73.09 382.72h0" stroke="#000" stroke-width="1.5" stroke-linecap="round"/><rect x="79.12" y="390.50" width="8.40" height="2.00" fill="#000" /><line x1="83.32" y1="391.50" x2="83.32" y2="367.48" stroke="#555" stroke-width="1.0" /><path d="M83.59 384.57h0M83.41 385.59h0M84.89 384.50h0M80.55 384.06h0M81.55 383.30h0M83.06 386.35h0M85.13 382.46h0M80.05 381.72h0M82.15 383.82h0M84.38 380.90h0M83.78 384.90h0M84.54 381.13h0M83.80 382.33h0M86.02 380.01h0M85.52 367.48h0" stroke="#000" stroke-width="1.5" stroke-linecap="round"/><rect x="88.85" y="390.50" width="8.40" height="2.00" fill="#000" /><path d="M96.59 388.31h0M92.27 386.59h0M89.49 388.29h0M90.06 386.69h0M96.07 388.76h0M90.77 386.28h0M91.86 387.84h0M92.91 387.12h0M94.54 387.41h0M91.80 386.00h0" stroke="#000" stroke-width="1.5" stroke-linecap="round"/><rect x="98.58" y="390.50" width="8.40" height="2.00" fill="#000" /><line x1="102.78" y1="391.50" x2="102.78" y2="379.49" stroke="#999" stroke-width="1.0" /><path d="M99.78 383.65h0M100.88 381.34h0M104.78 379.49h0M105.38 383.18h0M103.58 389.65h0" stroke="#000" stroke-width="1.5" stroke-linecap="round"/><rect x="108.31" y="390.50" width="8.40" height="2.00" fill="#000" /><line x1="112.51" y1="391.50" x2="112.51" y2="383.65" stroke="#555" stroke-width="1.0" /><path d="M110.91 390.07h0M109.19 390.01h0M110.56 389.90h0M109.56 386.29h0M114.68 387.33h0M111.50 386.54h0M115.53 385.43h0M111.82 384.19h0M114.15 385.28h0M110.19 388.05h0" stroke="#000" stroke-width="1.5" stroke-linecap="round"/><rect x="118.04" y="390.50" width="8.40" height="2.00" fill="#000" /><line x1="122.24" y1="391.50" x2="122.24" y2="382.26" stroke="#555" stroke-width="1.0" /><path d="M121.64 382.26h0" stroke="#000" stroke-width="1.5" stroke-linecap="round"/><rect x="127.77" y="390.50" width="8.40" height="2.00" fill="#000" /><line x1="131.97" y1="391.50" x2="131.97" y2="370.25" stroke="#aaa" stroke-width="1.0" /><path d="M129.47 386.42h0M129.57 380.87h0M129.77 374.41h0M134.27 369.79h0" stroke="#000" stroke-width="1.5" stroke-linecap="round"/><rect x="137.50" y="390.50" width="8.40" height="2.00" fill="#000" /><line x1="141.70" y1="391.50" x2="141.70" y2="366.55" stroke="#aaa" stroke-width="1.0" /><path d="M139.20 366.55h0" stroke="#000" stroke-width="1.5" stroke-linecap="round"/><rect x="147.23" y="390.50" width="8.40" height="2.00" fill="#000" /><rect x="156.96" y="390.50" width="8.40" height="2.00" fill="#000" /><path d="M165.56 391.50 L165.36 388.73 L164.36 385.96 L163.16 382.26 L162.36 378.56 L161.66 374.87 L161.36 371.17 L160.96 371.17 L160.66 374.87 L159.96 378.56 L159.16 382.26 L157.96 385.96 L156.96 388.73 L156.76 391.50Z" fill="#e8659a" stroke="#222" stroke-width="0.4"/><line x1="161.16" y1="391.50" x2="161.16" y2="367.48" stroke="#555" stroke-width="1.0" /><path d="M158.17 381.02h0M164.34 381.77h0M161.10 385.29h0M159.23 381.60h0M162.67 377.70h0M163.51 376.06h0M162.88 375.83h0M161.30 379.15h0M162.26 376.36h0M163.51 383.55h0M158.28 383.00h0M158.75 380.47h0M159.11 389.19h0M160.62 387.07h0M159.58 376.56h0M158.04 379.08h0M160.04 383.46h0M163.73 388.96h0M161.97 371.84h0M159.91 385.50h0M164.27 379.30h0M163.75 384.91h0M158.56 381.95h0M159.84 370.11h0M162.59 387.75h0M162.22 372.71h0M159.78 380.55h0M158.88 386.27h0M160.64 380.01h0M159.27 385.37h0M161.76 367.48h0M158.16 371.17h0M164.16 373.94h0" stroke="#000" stroke-width="1.5" stroke-linecap="round"/><text x="99.00" y="334.40" font-size="9.2" text-anchor="middle" fill="#111" font-style="italic">DSG3</text><text x="23.20" y="371.50" font-size="9.6" transform="rotate(-90 23.20 371.50)" text-anchor="middle" fill="#111">Expression Level</text><line x1="192.30" y1="345.60" x2="192.30" y2="396.50" stroke="#333" stroke-width="1.3" /><line x1="191.70" y1="396.50" x2="322.00" y2="396.50" stroke="#333" stroke-width="1.6" /><line x1="189.70" y1="394.20" x2="192.30" y2="394.20" stroke="#333" stroke-width="0.9" /><text x="188.70" y="397.70" font-size="9.8" text-anchor="end" fill="#111" textLength="5.3" lengthAdjust="spacingAndGlyphs">0</text><line x1="189.70" y1="379.97" x2="192.30" y2="379.97" stroke="#333" stroke-width="0.9" /><text x="188.70" y="383.47" font-size="9.8" text-anchor="end" fill="#111" textLength="5.3" lengthAdjust="spacingAndGlyphs">1</text><line x1="189.70" y1="365.74" x2="192.30" y2="365.74" stroke="#333" stroke-width="0.9" /><text x="188.70" y="369.24" font-size="9.8" text-anchor="end" fill="#111" textLength="5.3" lengthAdjust="spacingAndGlyphs">2</text><line x1="189.70" y1="351.51" x2="192.30" y2="351.51" stroke="#333" stroke-width="0.9" /><text x="188.70" y="355.01" font-size="9.8" text-anchor="end" fill="#111" textLength="5.3" lengthAdjust="spacingAndGlyphs">3</text><line x1="198.50" y1="397.20" x2="198.50" y2="399.20" stroke="#333" stroke-width="0.9" /><text x="203.90" y="405.80" font-size="9.8" transform="rotate(-45 203.90 405.80)" text-anchor="end" fill="#111">0</text><line x1="208.23" y1="397.20" x2="208.23" y2="399.20" stroke="#333" stroke-width="0.9" /><text x="213.63" y="405.80" font-size="9.8" transform="rotate(-45 213.63 405.80)" text-anchor="end" fill="#111">1</text><line x1="217.96" y1="397.20" x2="217.96" y2="399.20" stroke="#333" stroke-width="0.9" /><text x="223.36" y="405.80" font-size="9.8" transform="rotate(-45 223.36 405.80)" text-anchor="end" fill="#111">2</text><line x1="227.69" y1="397.20" x2="227.69" y2="399.20" stroke="#333" stroke-width="0.9" /><text x="233.09" y="405.80" font-size="9.8" transform="rotate(-45 233.09 405.80)" text-anchor="end" fill="#111">3</text><line x1="237.42" y1="397.20" x2="237.42" y2="399.20" stroke="#333" stroke-width="0.9" /><text x="242.82" y="405.80" font-size="9.8" transform="rotate(-45 242.82 405.80)" text-anchor="end" fill="#111">4</text><line x1="247.15" y1="397.20" x2="247.15" y2="399.20" stroke="#333" stroke-width="0.9" /><text x="252.55" y="405.80" font-size="9.8" transform="rotate(-45 252.55 405.80)" text-anchor="end" fill="#111">5</text><line x1="256.88" y1="397.20" x2="256.88" y2="399.20" stroke="#333" stroke-width="0.9" /><text x="262.28" y="405.80" font-size="9.8" transform="rotate(-45 262.28 405.80)" text-anchor="end" fill="#111">6</text><line x1="266.61" y1="397.20" x2="266.61" y2="399.20" stroke="#333" stroke-width="0.9" /><text x="272.01" y="405.80" font-size="9.8" transform="rotate(-45 272.01 405.80)" text-anchor="end" fill="#111">7</text><line x1="276.34" y1="397.20" x2="276.34" y2="399.20" stroke="#333" stroke-width="0.9" /><text x="281.74" y="405.80" font-size="9.8" transform="rotate(-45 281.74 405.80)" text-anchor="end" fill="#111">8</text><line x1="286.07" y1="397.20" x2="286.07" y2="399.20" stroke="#333" stroke-width="0.9" /><text x="291.47" y="405.80" font-size="9.8" transform="rotate(-45 291.47 405.80)" text-anchor="end" fill="#111">9</text><line x1="295.80" y1="397.20" x2="295.80" y2="399.20" stroke="#333" stroke-width="0.9" /><text x="301.20" y="405.80" font-size="9.8" transform="rotate(-45 301.20 405.80)" text-anchor="end" fill="#111">10</text><line x1="305.53" y1="397.20" x2="305.53" y2="399.20" stroke="#333" stroke-width="0.9" /><text x="310.93" y="405.80" font-size="9.8" transform="rotate(-45 310.93 405.80)" text-anchor="end" fill="#111">11</text><line x1="315.26" y1="397.20" x2="315.26" y2="399.20" stroke="#333" stroke-width="0.9" /><text x="320.66" y="405.80" font-size="9.8" transform="rotate(-45 320.66 405.80)" text-anchor="end" fill="#111">12</text><rect x="194.30" y="393.20" width="8.40" height="2.00" fill="#000" /><line x1="198.50" y1="394.20" x2="198.50" y2="367.16" stroke="#333" stroke-width="1.0" /><path d="M200.00 367.16h0" stroke="#000" stroke-width="1.5" stroke-linecap="round"/><rect x="204.03" y="393.20" width="8.40" height="2.00" fill="#000" /><line x1="208.23" y1="394.20" x2="208.23" y2="382.82" stroke="#555" stroke-width="1.0" /><path d="M210.23 382.82h0" stroke="#000" stroke-width="1.5" stroke-linecap="round"/><rect x="213.76" y="393.20" width="8.40" height="2.00" fill="#000" /><path d="M222.46 394.20 L222.05 393.67 L221.65 393.13 L221.27 392.60 L220.91 392.07 L220.57 391.53 L220.24 391.00 L219.93 390.46 L219.65 389.93 L219.38 389.40 L219.13 388.86 L218.91 388.33 L218.72 387.80 L218.55 387.26 L218.41 386.73 L218.31 386.20 L218.26 385.66 L217.66 385.66 L217.61 386.20 L217.51 386.73 L217.37 387.26 L217.20 387.80 L217.01 388.33 L216.79 388.86 L216.54 389.40 L216.27 389.93 L215.99 390.46 L215.68 391.00 L215.35 391.53 L215.01 392.07 L214.65 392.60 L214.27 393.13 L213.87 393.67 L213.46 394.20Z" fill="#d8a12a" stroke="#222" stroke-width="0.4"/><path d="M215.58 373.23h0M221.27 359.84h0M219.24 377.20h0M215.79 386.01h0M219.46 383.43h0M221.63 386.08h0M215.57 391.04h0M220.07 390.39h0M217.74 380.71h0M219.03 382.12h0M215.68 379.41h0M216.43 378.49h0M220.48 389.63h0M219.25 369.78h0M217.14 362.72h0M217.36 380.27h0M219.28 379.38h0M217.68 393.26h0M216.76 374.83h0M219.56 392.73h0M218.46 393.16h0M214.33 388.14h0M214.57 387.18h0M219.40 388.23h0M216.89 368.10h0M217.77 370.74h0M220.89 376.11h0M220.85 382.64h0M219.39 369.40h0M214.72 393.28h0M216.76 392.37h0M220.89 360.50h0M214.99 364.25h0M220.10 368.88h0M220.24 365.27h0M215.45 388.60h0M219.82 365.86h0M217.54 362.37h0M215.15 362.47h0M220.96 360.12h0M214.59 381.72h0M219.44 374.36h0M214.51 381.27h0M220.49 383.77h0M221.37 390.33h0M215.65 384.77h0M221.71 389.58h0M216.55 362.07h0M219.16 390.15h0M214.15 362.54h0M220.74 371.42h0M218.50 377.49h0M215.92 365.45h0M219.21 383.96h0M218.24 374.23h0M221.37 381.83h0M219.36 383.44h0M217.19 362.31h0M215.78 391.59h0M215.22 391.18h0M216.73 389.29h0M217.55 380.59h0M219.34 370.30h0M216.90 369.53h0M218.35 370.38h0M218.32 389.04h0M219.33 382.39h0M215.94 367.87h0M217.61 378.32h0M214.38 383.14h0M221.80 391.76h0M217.48 367.69h0M216.16 370.25h0M221.48 368.72h0M217.69 366.53h0M221.25 359.20h0M217.27 391.46h0M216.20 377.73h0M215.18 372.00h0M220.75 367.44h0M219.46 391.34h0M219.04 384.22h0M221.68 369.39h0M216.70 365.67h0M215.21 368.04h0M217.31 368.61h0M215.92 384.24h0M220.27 385.93h0M215.87 390.14h0M215.29 386.78h0M218.64 368.04h0M221.08 370.31h0M214.35 377.84h0M218.09 386.89h0M221.22 368.55h0M215.83 375.67h0M221.35 372.83h0M221.32 381.88h0M218.56 361.98h0M215.07 376.72h0M214.38 389.64h0M219.62 372.17h0M218.76 358.86h0M217.20 358.84h0M214.52 388.82h0M218.20 383.44h0M216.38 359.11h0M219.70 385.29h0M218.42 379.95h0M220.72 388.21h0M219.95 361.44h0M216.65 360.87h0M216.44 392.36h0M217.72 362.19h0M215.24 386.50h0M217.48 387.76h0M220.95 361.21h0M219.96 367.07h0M220.12 386.83h0M218.16 385.68h0M221.02 392.32h0M218.68 389.01h0M219.08 370.40h0M216.94 369.70h0M221.38 365.87h0M221.70 371.97h0M214.49 363.86h0M214.77 370.07h0M216.96 370.43h0M214.41 363.70h0M214.40 360.49h0M214.08 391.51h0M221.75 389.11h0M221.21 364.37h0M219.42 386.99h0M219.73 365.76h0M221.63 384.09h0M219.40 368.10h0M217.16 383.57h0M218.09 367.07h0M221.23 376.48h0M220.76 378.83h0M218.20 391.86h0M214.14 368.63h0M216.29 369.21h0M218.92 371.68h0M221.42 388.73h0M215.12 385.03h0M214.56 378.05h0M220.00 389.96h0M218.28 390.09h0M217.60 362.62h0M220.54 365.09h0M214.66 387.75h0M220.82 366.15h0M219.63 363.75h0M221.53 375.71h0M220.01 367.69h0M214.49 361.71h0M218.62 367.65h0M216.05 393.05h0M218.19 368.53h0M216.30 373.88h0M220.92 373.72h0M218.37 359.33h0M214.74 367.99h0M218.42 388.59h0M214.99 364.67h0M217.96 388.35h0M215.16 382.86h0M217.37 387.96h0M215.40 365.85h0M214.64 365.39h0M219.28 384.74h0M216.57 393.24h0M215.86 388.10h0M215.30 362.57h0M221.16 368.39h0M220.79 384.91h0M220.09 382.31h0M216.79 373.24h0M219.49 362.60h0M218.53 382.36h0M216.29 383.22h0M221.67 360.77h0M221.21 387.98h0M214.15 368.60h0M217.46 389.72h0M220.87 362.55h0M217.53 384.74h0M215.70 361.23h0M217.30 389.84h0M220.87 369.76h0M214.15 362.92h0M215.06 387.37h0M217.23 372.72h0M218.86 361.33h0M219.42 372.06h0M221.04 386.35h0M220.48 363.47h0M215.41 366.21h0M216.91 391.63h0M215.63 368.49h0M220.75 363.19h0M217.84 369.20h0M220.37 388.24h0M217.93 387.47h0M219.02 367.05h0M220.92 385.26h0M217.34 382.31h0M219.53 378.20h0M219.04 392.13h0M220.31 376.49h0M218.52 380.73h0M214.51 359.75h0M217.71 365.87h0M216.20 383.03h0M220.64 385.90h0M221.57 386.43h0M216.28 375.48h0M218.59 366.19h0M215.18 362.65h0M214.28 369.36h0M217.29 387.09h0M216.26 382.57h0M219.89 373.64h0M218.03 378.99h0M215.82 366.23h0M214.24 358.70h0M220.50 380.56h0M216.64 385.29h0M221.66 387.53h0M214.69 362.95h0M215.25 374.71h0M215.78 392.86h0M218.18 368.99h0M218.58 383.47h0M216.73 390.61h0M220.49 390.07h0M219.64 380.15h0M217.30 381.79h0M216.08 373.43h0M220.08 374.41h0M215.61 390.91h0M217.87 392.78h0M218.12 389.65h0M218.16 387.87h0M219.90 383.66h0M221.54 365.06h0M221.00 377.34h0M216.68 363.44h0M221.53 359.31h0M219.92 388.00h0M218.87 369.52h0M216.23 368.70h0M219.69 364.40h0M221.59 387.10h0M214.49 367.92h0M215.38 392.36h0M219.70 370.40h0M220.95 361.02h0M215.58 386.36h0M217.10 390.53h0M217.03 378.73h0M218.84 364.87h0M220.79 365.46h0M218.07 366.81h0M218.24 379.22h0M219.28 377.45h0M219.33 363.78h0M218.46 384.62h0M215.02 377.60h0M217.58 389.81h0M219.54 360.69h0M221.21 391.54h0M218.77 368.22h0M216.48 393.27h0M217.82 381.86h0M218.97 389.21h0M219.06 372.16h0M218.41 376.25h0M220.51 389.54h0M220.70 363.22h0M215.95 366.74h0M214.46 383.24h0M220.77 366.11h0M218.74 360.84h0M220.66 365.63h0M214.59 389.28h0M221.63 362.93h0M218.89 368.52h0M220.76 379.68h0M214.48 383.55h0M214.54 365.47h0M219.13 368.53h0M217.47 389.64h0M220.36 384.00h0M216.63 366.39h0M216.73 388.11h0M218.78 378.16h0M216.56 360.44h0M218.94 388.33h0M219.84 378.66h0M218.33 370.40h0M215.59 365.04h0M215.48 366.19h0M218.39 376.77h0M214.93 374.54h0M216.25 377.48h0M217.35 383.84h0M215.67 379.07h0M221.32 369.59h0M215.47 360.44h0M217.23 385.41h0M219.46 372.76h0M217.91 372.94h0M221.56 358.67h0M216.02 365.47h0M214.34 366.74h0M219.53 360.44h0M217.37 361.23h0M216.01 368.70h0M215.45 361.23h0M216.24 393.18h0M218.25 370.32h0M219.39 365.35h0M221.41 366.28h0M214.89 391.18h0M215.10 383.43h0M219.67 374.25h0M217.93 387.16h0M214.19 384.88h0M216.13 384.25h0M221.62 369.51h0M217.88 391.14h0M218.96 377.30h0M221.52 388.31h0M218.57 383.89h0M218.44 379.26h0M218.88 362.79h0M221.49 381.60h0M221.54 387.36h0M215.97 370.00h0M220.81 359.12h0M220.37 375.76h0M216.21 390.21h0M221.42 376.80h0M221.80 380.61h0M219.66 373.27h0M215.09 366.24h0M218.69 361.45h0M215.24 389.23h0M218.44 365.63h0M220.77 361.16h0M217.33 374.34h0M221.69 366.92h0M218.11 382.80h0M214.40 389.36h0M216.98 391.36h0M220.80 371.96h0M221.58 367.34h0M220.72 384.59h0M216.98 382.31h0M221.83 374.54h0M214.52 377.30h0M218.49 380.72h0M215.26 369.67h0M215.36 383.57h0M217.13 375.61h0M218.03 382.37h0M218.87 367.23h0M217.21 367.91h0M214.97 361.20h0M214.81 390.97h0M216.59 376.73h0M214.12 386.56h0M214.51 366.04h0M221.59 371.48h0M218.65 384.70h0M217.48 362.67h0M214.33 361.43h0M220.13 373.54h0M220.53 376.28h0M220.60 359.28h0M219.45 376.80h0M218.92 363.11h0M215.67 391.87h0M214.96 372.20h0M221.64 387.95h0M221.77 375.99h0M220.17 364.29h0M215.89 378.86h0M215.79 391.17h0M218.81 376.16h0M217.62 388.25h0M220.91 380.64h0M220.59 383.08h0M221.36 371.03h0M216.18 383.75h0M216.09 376.51h0M221.49 372.50h0M215.57 374.95h0M218.97 391.64h0M214.13 377.91h0M220.28 380.66h0M216.67 371.65h0M221.72 360.02h0M215.83 392.55h0M216.71 372.22h0M220.33 386.08h0M217.90 362.00h0M218.55 359.87h0M218.08 371.54h0M221.09 365.74h0M217.79 376.02h0M220.62 365.82h0M215.31 370.54h0M216.90 388.99h0M216.81 391.91h0M215.03 380.87h0M216.76 348.66h0M218.56 347.95h0M217.66 350.09h0M214.76 354.36h0M220.96 352.93h0M220.56 355.78h0M215.76 357.20h0" stroke="#000" stroke-width="1.3" stroke-linecap="round"/><rect x="223.49" y="393.20" width="8.40" height="2.00" fill="#000" /><line x1="227.69" y1="394.20" x2="227.69" y2="370.01" stroke="#333" stroke-width="1.0" /><path d="M228.69 370.01h0" stroke="#000" stroke-width="1.5" stroke-linecap="round"/><rect x="233.22" y="393.20" width="8.40" height="2.00" fill="#000" /><line x1="237.42" y1="394.20" x2="237.42" y2="379.97" stroke="#333" stroke-width="1.0" /><path d="M234.42 379.97h0M234.62 386.37h0" stroke="#000" stroke-width="1.5" stroke-linecap="round"/><rect x="242.95" y="393.20" width="8.40" height="2.00" fill="#000" /><path d="M246.95 391.64h0" stroke="#000" stroke-width="1.5" stroke-linecap="round"/><rect x="252.68" y="393.20" width="8.40" height="2.00" fill="#000" /><line x1="256.88" y1="394.20" x2="256.88" y2="386.37" stroke="#333" stroke-width="1.0" /><path d="M257.18 387.80h0M258.18 385.66h0" stroke="#000" stroke-width="1.5" stroke-linecap="round"/><rect x="262.41" y="393.20" width="8.40" height="2.00" fill="#000" /><line x1="266.61" y1="394.20" x2="266.61" y2="385.66" stroke="#333" stroke-width="1.0" /><path d="M268.61 385.66h0" stroke="#000" stroke-width="1.5" stroke-linecap="round"/><rect x="272.14" y="393.20" width="8.40" height="2.00" fill="#000" /><rect x="281.87" y="393.20" width="8.40" height="2.00" fill="#000" /><rect x="291.60" y="393.20" width="8.40" height="2.00" fill="#000" /><rect x="301.33" y="393.20" width="8.40" height="2.00" fill="#000" /><rect x="311.06" y="393.20" width="8.40" height="2.00" fill="#000" /><line x1="315.26" y1="394.20" x2="315.26" y2="350.09" stroke="#aaa" stroke-width="1.0" /><path d="M314.96 350.09h0M315.16 362.89h0M315.06 370.01h0M313.06 381.39h0M318.26 379.97h0" stroke="#000" stroke-width="1.5" stroke-linecap="round"/><text x="250.60" y="337.50" font-size="9.2" text-anchor="middle" fill="#111" font-style="italic">SPRR1A</text><line x1="44.20" y1="435.50" x2="44.20" y2="486.20" stroke="#555" stroke-width="1.3" /><line x1="43.60" y1="486.20" x2="168.00" y2="486.20" stroke="#999" stroke-width="1.6" /><line x1="41.60" y1="483.90" x2="44.20" y2="483.90" stroke="#333" stroke-width="0.9" /><text x="40.60" y="487.40" font-size="9.8" text-anchor="end" fill="#111" textLength="5.3" lengthAdjust="spacingAndGlyphs">0</text><line x1="41.60" y1="474.30" x2="44.20" y2="474.30" stroke="#333" stroke-width="0.9" /><text x="40.60" y="477.80" font-size="9.8" text-anchor="end" fill="#111" textLength="5.3" lengthAdjust="spacingAndGlyphs">1</text><line x1="41.60" y1="464.70" x2="44.20" y2="464.70" stroke="#333" stroke-width="0.9" /><text x="40.60" y="468.20" font-size="9.8" text-anchor="end" fill="#111" textLength="5.3" lengthAdjust="spacingAndGlyphs">2</text><line x1="41.60" y1="455.10" x2="44.20" y2="455.10" stroke="#333" stroke-width="0.9" /><text x="40.60" y="458.60" font-size="9.8" text-anchor="end" fill="#111" textLength="5.3" lengthAdjust="spacingAndGlyphs">3</text><line x1="41.60" y1="445.50" x2="44.20" y2="445.50" stroke="#333" stroke-width="0.9" /><text x="40.60" y="449.00" font-size="9.8" text-anchor="end" fill="#111" textLength="5.3" lengthAdjust="spacingAndGlyphs">4</text><line x1="49.60" y1="486.90" x2="49.60" y2="488.90" stroke="#333" stroke-width="0.9" /><text x="55.00" y="495.50" font-size="9.8" transform="rotate(-45 55.00 495.50)" text-anchor="end" fill="#111">0</text><line x1="59.18" y1="486.90" x2="59.18" y2="488.90" stroke="#333" stroke-width="0.9" /><text x="64.58" y="495.50" font-size="9.8" transform="rotate(-45 64.58 495.50)" text-anchor="end" fill="#111">1</text><line x1="68.76" y1="486.90" x2="68.76" y2="488.90" stroke="#333" stroke-width="0.9" /><text x="74.16" y="495.50" font-size="9.8" transform="rotate(-45 74.16 495.50)" text-anchor="end" fill="#111">2</text><line x1="78.34" y1="486.90" x2="78.34" y2="488.90" stroke="#333" stroke-width="0.9" /><text x="83.74" y="495.50" font-size="9.8" transform="rotate(-45 83.74 495.50)" text-anchor="end" fill="#111">3</text><line x1="87.92" y1="486.90" x2="87.92" y2="488.90" stroke="#333" stroke-width="0.9" /><text x="93.32" y="495.50" font-size="9.8" transform="rotate(-45 93.32 495.50)" text-anchor="end" fill="#111">4</text><line x1="97.50" y1="486.90" x2="97.50" y2="488.90" stroke="#333" stroke-width="0.9" /><text x="102.90" y="495.50" font-size="9.8" transform="rotate(-45 102.90 495.50)" text-anchor="end" fill="#111">5</text><line x1="107.08" y1="486.90" x2="107.08" y2="488.90" stroke="#333" stroke-width="0.9" /><text x="112.48" y="495.50" font-size="9.8" transform="rotate(-45 112.48 495.50)" text-anchor="end" fill="#111">6</text><line x1="116.66" y1="486.90" x2="116.66" y2="488.90" stroke="#333" stroke-width="0.9" /><text x="122.06" y="495.50" font-size="9.8" transform="rotate(-45 122.06 495.50)" text-anchor="end" fill="#111">7</text><line x1="126.24" y1="486.90" x2="126.24" y2="488.90" stroke="#333" stroke-width="0.9" /><text x="131.64" y="495.50" font-size="9.8" transform="rotate(-45 131.64 495.50)" text-anchor="end" fill="#111">8</text><line x1="135.82" y1="486.90" x2="135.82" y2="488.90" stroke="#333" stroke-width="0.9" /><text x="141.22" y="495.50" font-size="9.8" transform="rotate(-45 141.22 495.50)" text-anchor="end" fill="#111">9</text><line x1="145.40" y1="486.90" x2="145.40" y2="488.90" stroke="#333" stroke-width="0.9" /><text x="150.80" y="495.50" font-size="9.8" transform="rotate(-45 150.80 495.50)" text-anchor="end" fill="#111">10</text><line x1="154.98" y1="486.90" x2="154.98" y2="488.90" stroke="#333" stroke-width="0.9" /><text x="160.38" y="495.50" font-size="9.8" transform="rotate(-45 160.38 495.50)" text-anchor="end" fill="#111">11</text><line x1="164.56" y1="486.90" x2="164.56" y2="488.90" stroke="#333" stroke-width="0.9" /><text x="169.96" y="495.50" font-size="9.8" transform="rotate(-45 169.96 495.50)" text-anchor="end" fill="#111">12</text><rect x="45.40" y="482.90" width="8.40" height="2.00" fill="#000" /><line x1="49.60" y1="483.90" x2="49.60" y2="473.34" stroke="#777" stroke-width="1.0" /><path d="M47.10 475.26h0M47.80 474.30h0M48.40 476.22h0M52.10 472.38h0M52.60 474.30h0" stroke="#000" stroke-width="1.5" stroke-linecap="round"/><rect x="54.98" y="482.90" width="8.40" height="2.00" fill="#000" /><line x1="59.18" y1="483.90" x2="59.18" y2="470.46" stroke="#777" stroke-width="1.0" /><path d="M57.68 470.46h0M60.18 469.98h0M57.18 479.10h0M61.18 474.30h0" stroke="#000" stroke-width="1.5" stroke-linecap="round"/><rect x="64.56" y="482.90" width="8.40" height="2.00" fill="#000" /><path d="M69.66 477.80h0M70.42 476.99h0M67.86 460.37h0M69.28 460.00h0M68.99 481.78h0M68.91 459.92h0M70.60 450.07h0M66.63 469.12h0M71.18 478.56h0M69.61 457.26h0M68.77 466.67h0M69.00 475.00h0M69.70 477.91h0M70.09 459.52h0M65.58 474.08h0M70.22 470.79h0M70.69 464.08h0M67.97 467.07h0M66.16 449.00h0M69.45 475.56h0M68.24 459.48h0M68.30 462.26h0M71.79 458.06h0M69.85 452.13h0M72.25 465.59h0M69.74 466.46h0M70.19 450.49h0M70.66 468.60h0M72.00 460.66h0M69.02 459.79h0M68.98 446.49h0M72.17 468.31h0M66.20 447.62h0M71.55 480.67h0M67.86 449.95h0M70.20 473.76h0M66.52 447.77h0M70.03 466.44h0M68.10 475.05h0M68.60 478.00h0M65.49 474.70h0M66.03 468.66h0M66.03 478.91h0M67.34 467.58h0M68.09 455.80h0M66.33 474.20h0M70.66 472.15h0M68.49 475.78h0M71.33 452.83h0M71.43 465.89h0M66.63 459.06h0M66.19 479.90h0M67.90 453.46h0M72.41 451.66h0M68.52 448.56h0M67.02 483.13h0M69.92 475.12h0M72.05 456.80h0M72.35 456.68h0M68.56 459.22h0M67.00 451.69h0M70.53 453.90h0M65.33 450.55h0M72.27 476.27h0M68.38 478.03h0M68.62 460.60h0M72.31 450.08h0M65.91 470.48h0M68.40 448.74h0M65.94 473.99h0M69.41 483.08h0M69.20 472.76h0M68.64 448.37h0M65.38 447.27h0M70.75 454.67h0M65.10 447.06h0M69.20 464.21h0M68.54 460.73h0M71.90 473.07h0M70.33 450.13h0M69.18 447.05h0M70.27 480.41h0M70.72 479.44h0M66.47 458.82h0M65.39 477.64h0M72.49 476.71h0M71.76 474.78h0M67.50 478.32h0M67.66 465.51h0M66.73 446.85h0M66.46 465.08h0M70.25 479.28h0M68.66 470.56h0M65.55 457.15h0M70.22 481.35h0M65.00 445.74h0M72.62 466.27h0M72.58 451.83h0M72.44 463.35h0M68.54 481.30h0M67.91 451.27h0M68.36 466.71h0M71.20 469.02h0M66.66 446.53h0M71.13 471.19h0M71.21 455.21h0M72.00 457.56h0M69.80 451.38h0M65.52 472.66h0M71.55 450.81h0M66.93 449.61h0M72.12 455.42h0M65.04 475.58h0M66.57 476.82h0M71.27 457.63h0M70.23 452.37h0M72.44 446.32h0M72.05 466.76h0M66.77 456.15h0M66.19 461.23h0M71.20 468.26h0M69.04 483.04h0M67.07 466.90h0M68.94 480.97h0M65.62 470.77h0M70.16 468.20h0M70.98 480.40h0M68.53 480.26h0M71.55 469.52h0M70.61 449.56h0M67.39 472.26h0M68.84 452.14h0M70.51 459.33h0M67.86 476.15h0M67.45 447.23h0M66.07 451.25h0M68.78 482.88h0M69.51 472.68h0M65.16 454.22h0M67.77 464.49h0M71.45 449.07h0M70.64 449.88h0M69.69 470.27h0M67.73 462.79h0M69.92 472.42h0M66.75 449.43h0M66.09 469.93h0M67.89 469.57h0M69.89 479.87h0M71.15 470.38h0M70.59 474.21h0M66.18 446.27h0M72.44 469.38h0M67.42 468.12h0M71.33 477.60h0M71.72 471.06h0M66.26 462.26h0M71.88 445.78h0M69.55 455.03h0M72.25 454.84h0M66.74 475.94h0M68.12 454.51h0M71.36 446.07h0M66.11 463.64h0M69.55 460.21h0M70.94 461.42h0M71.82 465.31h0M66.11 460.85h0M66.18 452.29h0M72.09 449.08h0M66.43 476.01h0M68.42 456.79h0M70.72 469.21h0M65.88 470.70h0M71.70 462.52h0M65.69 447.02h0M67.39 455.13h0M67.90 446.60h0M67.44 479.53h0M66.23 463.88h0M67.43 454.23h0M66.67 455.28h0M70.00 464.79h0M67.12 475.59h0M67.94 451.58h0M69.68 470.20h0M71.60 457.21h0M71.52 462.00h0M72.09 449.56h0M70.28 448.56h0M67.89 457.03h0M72.06 479.38h0M67.50 467.71h0M70.76 462.60h0M65.75 451.95h0M72.20 453.70h0M72.21 446.33h0M71.80 461.73h0M71.48 461.02h0M67.78 445.89h0M70.71 478.73h0M71.91 447.85h0M68.36 465.88h0M71.50 478.69h0M65.81 473.11h0M72.12 479.56h0M71.05 467.66h0M68.61 480.76h0M70.88 455.14h0M68.61 476.21h0M71.99 452.60h0M69.44 479.85h0M69.70 449.68h0M67.18 453.64h0M64.97 464.75h0M69.25 453.14h0M72.20 476.56h0M65.12 475.40h0M65.48 455.94h0M65.92 458.44h0M70.61 482.56h0M70.00 460.16h0M70.45 456.54h0M68.17 476.74h0M71.62 460.96h0M68.66 458.94h0M71.45 452.34h0M66.29 473.95h0M71.66 483.21h0M69.37 475.39h0M69.99 463.48h0M69.98 447.84h0M68.22 476.89h0M67.84 476.39h0M69.95 455.34h0M71.59 459.59h0M66.82 445.58h0M69.90 456.81h0M72.60 482.39h0M70.11 468.29h0M68.16 474.72h0M72.41 478.95h0M65.43 481.83h0M69.35 455.87h0M72.20 471.18h0M68.36 456.92h0M72.17 456.43h0M67.70 450.34h0M66.58 454.06h0M72.61 468.78h0M67.99 455.55h0M68.27 462.80h0M68.93 456.60h0M68.13 466.24h0M71.18 450.06h0M67.96 474.22h0M70.55 449.28h0M69.77 460.63h0M69.29 475.78h0M68.30 455.12h0M68.22 467.90h0M66.57 460.70h0M65.37 452.27h0M68.95 454.09h0M66.82 473.91h0M66.12 473.20h0M67.03 445.77h0M69.99 480.23h0M67.10 446.42h0M69.42 474.65h0M68.45 471.06h0M72.65 461.71h0M67.69 469.12h0M69.31 456.58h0M68.25 450.18h0M68.84 459.31h0M68.68 460.53h0M65.83 477.26h0M72.66 468.36h0M68.75 464.11h0M70.91 466.43h0M67.90 469.99h0M69.32 470.69h0M69.56 465.24h0M67.53 447.93h0M72.60 459.73h0M71.44 455.28h0M66.39 452.61h0M67.55 459.40h0M65.86 469.95h0M72.06 453.79h0M68.26 450.73h0M71.13 448.59h0M71.12 460.07h0M64.95 453.95h0M69.93 459.89h0M71.17 469.81h0M65.57 455.43h0M64.93 468.73h0M65.73 469.22h0M67.19 483.35h0M66.23 456.24h0M66.31 446.66h0M66.97 451.97h0M68.81 450.21h0M68.33 451.53h0M71.77 472.81h0M65.86 482.65h0M69.23 478.13h0M66.78 454.63h0M71.51 461.38h0M70.81 483.23h0M65.07 478.20h0M67.88 464.72h0M69.83 468.45h0M69.57 482.86h0M72.22 477.88h0M66.52 465.47h0M68.08 463.54h0M70.80 480.71h0M71.43 467.10h0M71.30 454.66h0M67.17 447.31h0M69.31 461.99h0M70.68 459.99h0M69.94 454.46h0M69.09 460.54h0M66.98 478.05h0M69.52 478.88h0M66.61 460.46h0M72.16 437.82h0M68.96 439.74h0M67.96 441.66h0M70.56 442.62h0M66.26 443.58h0M71.36 444.54h0M67.26 445.02h0" stroke="#000" stroke-width="1.35" stroke-linecap="round"/><rect x="74.14" y="482.90" width="8.40" height="2.00" fill="#000" /><line x1="78.34" y1="483.90" x2="78.34" y2="471.42" stroke="#777" stroke-width="1.0" /><path d="M75.34 474.30h0M80.54 471.42h0" stroke="#000" stroke-width="1.5" stroke-linecap="round"/><rect x="83.72" y="482.90" width="8.40" height="2.00" fill="#000" /><line x1="87.92" y1="483.90" x2="87.92" y2="469.50" stroke="#777" stroke-width="1.0" /><path d="M84.42 476.22h0M88.22 469.50h0M88.72 475.26h0M91.42 477.18h0" stroke="#000" stroke-width="1.5" stroke-linecap="round"/><rect x="93.30" y="482.90" width="8.40" height="2.00" fill="#000" /><line x1="97.50" y1="483.90" x2="97.50" y2="466.62" stroke="#555" stroke-width="1.0" /><path d="M100.36 480.40h0M97.79 481.89h0M97.27 479.50h0M101.03 481.02h0M97.52 479.17h0M93.90 482.42h0M95.66 479.78h0M99.13 478.34h0M96.55 482.53h0M98.66 480.85h0M100.32 479.13h0M97.33 482.67h0M94.89 478.05h0M97.08 482.67h0M93.95 481.37h0M99.38 477.23h0M100.40 478.44h0M97.04 478.00h0M100.86 477.80h0M100.42 476.59h0M101.15 477.63h0M98.52 476.60h0M98.00 466.62h0" stroke="#000" stroke-width="1.5" stroke-linecap="round"/><rect x="102.88" y="482.90" width="8.40" height="2.00" fill="#000" /><line x1="107.08" y1="483.90" x2="107.08" y2="474.78" stroke="#777" stroke-width="1.0" /><path d="M107.48 474.78h0" stroke="#000" stroke-width="1.5" stroke-linecap="round"/><rect x="112.46" y="482.90" width="8.40" height="2.00" fill="#000" /><line x1="116.66" y1="483.90" x2="116.66" y2="455.10" stroke="#777" stroke-width="1.0" /><path d="M120.27 481.42h0M113.58 467.41h0M113.66 475.73h0M117.21 470.89h0M117.27 471.17h0M117.07 469.49h0M113.88 473.90h0M116.96 472.34h0M115.46 469.40h0M120.05 471.12h0M118.80 471.05h0M113.64 481.98h0M119.88 474.09h0M113.32 481.98h0M116.08 470.74h0M115.44 469.26h0M119.98 474.03h0M119.99 460.89h0M116.26 468.79h0M118.72 470.49h0M113.81 471.41h0M117.10 481.98h0M119.16 462.67h0M115.26 469.07h0M119.53 474.29h0M115.45 470.59h0" stroke="#000" stroke-width="1.5" stroke-linecap="round"/><rect x="122.04" y="482.90" width="8.40" height="2.00" fill="#000" /><line x1="126.24" y1="483.90" x2="126.24" y2="473.34" stroke="#777" stroke-width="1.0" /><path d="M125.74 473.34h0M128.64 475.26h0M129.44 472.38h0" stroke="#000" stroke-width="1.5" stroke-linecap="round"/><rect x="131.62" y="482.90" width="8.40" height="2.00" fill="#000" /><line x1="135.82" y1="483.90" x2="135.82" y2="462.78" stroke="#555" stroke-width="1.0" /><path d="M135.52 480.54h0M136.12 462.78h0" stroke="#000" stroke-width="1.5" stroke-linecap="round"/><rect x="141.20" y="482.90" width="8.40" height="2.00" fill="#000" /><line x1="145.40" y1="483.90" x2="145.40" y2="453.18" stroke="#777" stroke-width="1.0" /><path d="M144.60 461.21h0M148.73 462.73h0M145.70 453.01h0M145.31 459.72h0M142.23 453.02h0M146.59 461.95h0M145.38 460.80h0M144.92 463.50h0M146.74 453.07h0M147.79 457.27h0M146.81 462.51h0M144.53 452.67h0M146.13 464.51h0M142.76 453.28h0" stroke="#000" stroke-width="1.5" stroke-linecap="round"/><rect x="150.78" y="482.90" width="8.40" height="2.00" fill="#000" /><line x1="154.98" y1="483.90" x2="154.98" y2="479.10" stroke="#777" stroke-width="1.0" /><path d="M156.98 479.10h0" stroke="#000" stroke-width="1.5" stroke-linecap="round"/><rect x="160.36" y="482.90" width="8.40" height="2.00" fill="#000" /><line x1="164.56" y1="483.90" x2="164.56" y2="452.22" stroke="#555" stroke-width="1.0" /><path d="M163.96 452.22h0M167.66 452.22h0M167.76 462.78h0" stroke="#000" stroke-width="1.5" stroke-linecap="round"/><text x="98.00" y="427.60" font-size="9.2" text-anchor="middle" fill="#111" font-style="italic">APOBEC3A</text><text x="28.60" y="463.60" font-size="9.6" transform="rotate(-90 28.60 463.60)" text-anchor="middle" fill="#111">Expression Level</text><line x1="197.80" y1="437.50" x2="197.80" y2="488.70" stroke="#333" stroke-width="1.3" /><line x1="197.20" y1="488.70" x2="321.00" y2="488.70" stroke="#333" stroke-width="1.6" /><line x1="195.20" y1="486.40" x2="197.80" y2="486.40" stroke="#333" stroke-width="0.9" /><text x="194.20" y="489.90" font-size="9.8" text-anchor="end" fill="#111" textLength="14.700000000000001" lengthAdjust="spacingAndGlyphs">0.0</text><line x1="195.20" y1="476.92" x2="197.80" y2="476.92" stroke="#333" stroke-width="0.9" /><text x="194.20" y="480.42" font-size="9.8" text-anchor="end" fill="#111" textLength="14.700000000000001" lengthAdjust="spacingAndGlyphs">0.5</text><line x1="195.20" y1="467.44" x2="197.80" y2="467.44" stroke="#333" stroke-width="0.9" /><text x="194.20" y="470.94" font-size="9.8" text-anchor="end" fill="#111" textLength="14.700000000000001" lengthAdjust="spacingAndGlyphs">1.0</text><line x1="195.20" y1="457.96" x2="197.80" y2="457.96" stroke="#333" stroke-width="0.9" /><text x="194.20" y="461.46" font-size="9.8" text-anchor="end" fill="#111" textLength="14.700000000000001" lengthAdjust="spacingAndGlyphs">1.5</text><line x1="195.20" y1="448.48" x2="197.80" y2="448.48" stroke="#333" stroke-width="0.9" /><text x="194.20" y="451.98" font-size="9.8" text-anchor="end" fill="#111" textLength="14.700000000000001" lengthAdjust="spacingAndGlyphs">2.0</text><line x1="195.20" y1="439.00" x2="197.80" y2="439.00" stroke="#333" stroke-width="0.9" /><text x="194.20" y="442.50" font-size="9.8" text-anchor="end" fill="#111" textLength="14.700000000000001" lengthAdjust="spacingAndGlyphs">2.5</text><line x1="202.30" y1="489.40" x2="202.30" y2="491.40" stroke="#333" stroke-width="0.9" /><text x="207.70" y="498.00" font-size="9.8" transform="rotate(-45 207.70 498.00)" text-anchor="end" fill="#111">0</text><line x1="212.09" y1="489.40" x2="212.09" y2="491.40" stroke="#333" stroke-width="0.9" /><text x="217.49" y="498.00" font-size="9.8" transform="rotate(-45 217.49 498.00)" text-anchor="end" fill="#111">1</text><line x1="221.88" y1="489.40" x2="221.88" y2="491.40" stroke="#333" stroke-width="0.9" /><text x="227.28" y="498.00" font-size="9.8" transform="rotate(-45 227.28 498.00)" text-anchor="end" fill="#111">2</text><line x1="231.67" y1="489.40" x2="231.67" y2="491.40" stroke="#333" stroke-width="0.9" /><text x="237.07" y="498.00" font-size="9.8" transform="rotate(-45 237.07 498.00)" text-anchor="end" fill="#111">3</text><line x1="241.46" y1="489.40" x2="241.46" y2="491.40" stroke="#333" stroke-width="0.9" /><text x="246.86" y="498.00" font-size="9.8" transform="rotate(-45 246.86 498.00)" text-anchor="end" fill="#111">4</text><line x1="251.25" y1="489.40" x2="251.25" y2="491.40" stroke="#333" stroke-width="0.9" /><text x="256.65" y="498.00" font-size="9.8" transform="rotate(-45 256.65 498.00)" text-anchor="end" fill="#111">5</text><line x1="261.04" y1="489.40" x2="261.04" y2="491.40" stroke="#333" stroke-width="0.9" /><text x="266.44" y="498.00" font-size="9.8" transform="rotate(-45 266.44 498.00)" text-anchor="end" fill="#111">6</text><line x1="270.83" y1="489.40" x2="270.83" y2="491.40" stroke="#333" stroke-width="0.9" /><text x="276.23" y="498.00" font-size="9.8" transform="rotate(-45 276.23 498.00)" text-anchor="end" fill="#111">7</text><line x1="280.62" y1="489.40" x2="280.62" y2="491.40" stroke="#333" stroke-width="0.9" /><text x="286.02" y="498.00" font-size="9.8" transform="rotate(-45 286.02 498.00)" text-anchor="end" fill="#111">8</text><line x1="290.41" y1="489.40" x2="290.41" y2="491.40" stroke="#333" stroke-width="0.9" /><text x="295.81" y="498.00" font-size="9.8" transform="rotate(-45 295.81 498.00)" text-anchor="end" fill="#111">9</text><line x1="300.20" y1="489.40" x2="300.20" y2="491.40" stroke="#333" stroke-width="0.9" /><text x="305.60" y="498.00" font-size="9.8" transform="rotate(-45 305.60 498.00)" text-anchor="end" fill="#111">10</text><line x1="309.99" y1="489.40" x2="309.99" y2="491.40" stroke="#333" stroke-width="0.9" /><text x="315.39" y="498.00" font-size="9.8" transform="rotate(-45 315.39 498.00)" text-anchor="end" fill="#111">11</text><line x1="319.78" y1="489.40" x2="319.78" y2="491.40" stroke="#333" stroke-width="0.9" /><text x="325.18" y="498.00" font-size="9.8" transform="rotate(-45 325.18 498.00)" text-anchor="end" fill="#111">12</text><rect x="198.10" y="485.40" width="8.40" height="2.00" fill="#000" /><rect x="207.89" y="485.40" width="8.40" height="2.00" fill="#000" /><line x1="212.09" y1="486.40" x2="212.09" y2="440.90" stroke="#333" stroke-width="1.0" /><path d="M211.09 440.90h0M214.09 466.49h0" stroke="#000" stroke-width="1.5" stroke-linecap="round"/><rect x="217.68" y="485.40" width="8.40" height="2.00" fill="#000" /><line x1="221.88" y1="486.40" x2="221.88" y2="441.84" stroke="#555" stroke-width="1.0" /><path d="M223.41 469.66h0M223.52 477.88h0M222.60 476.33h0M219.23 474.31h0M224.49 484.50h0M219.21 467.52h0M224.18 472.83h0M218.55 474.59h0M219.27 476.43h0M222.04 473.80h0M223.51 474.15h0M223.44 470.70h0M222.39 484.50h0M224.17 470.99h0M222.44 476.88h0M225.00 470.55h0M218.38 441.84h0M222.88 455.12h0M222.08 462.70h0M220.28 468.39h0" stroke="#000" stroke-width="1.5" stroke-linecap="round"/><rect x="227.47" y="485.40" width="8.40" height="2.00" fill="#000" /><line x1="231.67" y1="486.40" x2="231.67" y2="467.44" stroke="#aaa" stroke-width="1.0" /><path d="M228.07 466.49h0" stroke="#000" stroke-width="1.5" stroke-linecap="round"/><rect x="237.26" y="485.40" width="8.40" height="2.00" fill="#000" /><path d="M239.52 476.30h0M239.75 476.04h0M244.48 470.76h0M244.54 462.27h0M239.87 478.99h0M241.32 474.19h0M239.53 470.71h0M238.34 469.99h0M243.90 471.63h0M243.02 473.96h0M245.33 469.44h0M245.26 470.79h0M243.09 479.14h0M239.84 475.65h0M240.63 477.99h0M243.95 474.71h0M238.06 479.05h0M241.03 470.96h0M244.37 467.87h0M241.80 471.62h0M239.35 477.98h0M240.57 475.24h0M240.52 477.94h0M241.28 475.72h0M242.83 475.47h0M240.12 468.92h0M241.74 476.06h0M245.21 479.89h0M238.98 476.24h0M240.39 465.20h0M242.35 472.73h0M244.36 474.02h0M240.26 467.74h0M240.15 475.11h0M237.78 474.09h0M244.44 474.16h0M240.90 474.71h0M239.81 474.75h0M243.21 471.01h0M243.36 475.41h0M241.96 457.01h0M243.06 460.80h0M243.96 462.70h0" stroke="#000" stroke-width="1.5" stroke-linecap="round"/><rect x="247.05" y="485.40" width="8.40" height="2.00" fill="#000" /><line x1="251.25" y1="486.40" x2="251.25" y2="473.13" stroke="#777" stroke-width="1.0" /><path d="M249.47 481.48h0M250.53 479.56h0M250.01 478.87h0M250.68 476.97h0M253.23 483.21h0M252.55 476.02h0M253.93 479.32h0M247.72 475.65h0M247.79 479.88h0M249.39 481.34h0M252.53 480.13h0M249.53 476.34h0M254.84 484.39h0M251.61 477.09h0" stroke="#000" stroke-width="1.5" stroke-linecap="round"/><rect x="256.84" y="485.40" width="8.40" height="2.00" fill="#000" /><line x1="261.04" y1="486.40" x2="261.04" y2="465.54" stroke="#555" stroke-width="1.0" /><path d="M264.17 474.93h0M261.25 475.08h0M262.85 471.32h0M263.24 481.59h0M260.56 476.04h0M262.97 472.84h0M261.61 474.05h0M260.87 482.72h0M262.15 473.85h0M261.14 470.16h0M264.23 477.66h0M258.21 484.50h0M262.41 477.31h0M259.49 470.38h0M262.95 471.77h0M257.82 477.93h0M263.14 476.13h0M261.20 475.10h0M259.78 470.52h0M260.01 477.64h0M258.22 477.93h0M262.12 474.01h0M262.55 477.76h0M259.41 471.75h0M259.77 479.40h0M262.24 474.61h0M258.23 472.54h0M262.26 473.53h0" stroke="#000" stroke-width="1.5" stroke-linecap="round"/><rect x="266.63" y="485.40" width="8.40" height="2.00" fill="#000" /><line x1="270.83" y1="486.40" x2="270.83" y2="479.76" stroke="#777" stroke-width="1.0" /><path d="M273.62 483.09h0M271.80 482.22h0M272.75 482.02h0M271.68 481.18h0M268.68 484.35h0" stroke="#000" stroke-width="1.5" stroke-linecap="round"/><rect x="276.42" y="485.40" width="8.40" height="2.00" fill="#000" /><line x1="280.62" y1="486.40" x2="280.62" y2="461.75" stroke="#333" stroke-width="1.0" /><path d="M280.42 461.75h0M282.12 467.44h0" stroke="#000" stroke-width="1.5" stroke-linecap="round"/><rect x="286.21" y="485.40" width="8.40" height="2.00" fill="#000" /><rect x="296.00" y="485.40" width="8.40" height="2.00" fill="#000" /><rect x="305.79" y="485.40" width="8.40" height="2.00" fill="#000" /><rect x="315.58" y="485.40" width="8.40" height="2.00" fill="#000" /><line x1="319.78" y1="486.40" x2="319.78" y2="479.76" stroke="#777" stroke-width="1.0" /><path d="M319.18 479.76h0" stroke="#000" stroke-width="1.5" stroke-linecap="round"/><text x="251.90" y="429.60" font-size="9.2" text-anchor="middle" fill="#111" font-style="italic">APOBEC3B</text><line x1="43.40" y1="530.50" x2="43.40" y2="582.90" stroke="#555" stroke-width="1.3" /><line x1="42.80" y1="582.90" x2="168.00" y2="582.90" stroke="#999" stroke-width="1.6" /><line x1="40.80" y1="580.60" x2="43.40" y2="580.60" stroke="#333" stroke-width="0.9" /><text x="39.80" y="584.10" font-size="9.8" text-anchor="end" fill="#111" textLength="5.3" lengthAdjust="spacingAndGlyphs">0</text><line x1="40.80" y1="568.60" x2="43.40" y2="568.60" stroke="#333" stroke-width="0.9" /><text x="39.80" y="572.10" font-size="9.8" text-anchor="end" fill="#111" textLength="5.3" lengthAdjust="spacingAndGlyphs">1</text><line x1="40.80" y1="556.60" x2="43.40" y2="556.60" stroke="#333" stroke-width="0.9" /><text x="39.80" y="560.10" font-size="9.8" text-anchor="end" fill="#111" textLength="5.3" lengthAdjust="spacingAndGlyphs">2</text><line x1="40.80" y1="544.60" x2="43.40" y2="544.60" stroke="#333" stroke-width="0.9" /><text x="39.80" y="548.10" font-size="9.8" text-anchor="end" fill="#111" textLength="5.3" lengthAdjust="spacingAndGlyphs">3</text><line x1="40.80" y1="532.60" x2="43.40" y2="532.60" stroke="#333" stroke-width="0.9" /><text x="39.80" y="536.10" font-size="9.8" text-anchor="end" fill="#111" textLength="5.3" lengthAdjust="spacingAndGlyphs">4</text><line x1="48.90" y1="583.60" x2="48.90" y2="585.60" stroke="#333" stroke-width="0.9" /><text x="54.30" y="592.20" font-size="9.8" transform="rotate(-45 54.30 592.20)" text-anchor="end" fill="#111">0</text><line x1="58.58" y1="583.60" x2="58.58" y2="585.60" stroke="#333" stroke-width="0.9" /><text x="63.98" y="592.20" font-size="9.8" transform="rotate(-45 63.98 592.20)" text-anchor="end" fill="#111">1</text><line x1="68.26" y1="583.60" x2="68.26" y2="585.60" stroke="#333" stroke-width="0.9" /><text x="73.66" y="592.20" font-size="9.8" transform="rotate(-45 73.66 592.20)" text-anchor="end" fill="#111">2</text><line x1="77.94" y1="583.60" x2="77.94" y2="585.60" stroke="#333" stroke-width="0.9" /><text x="83.34" y="592.20" font-size="9.8" transform="rotate(-45 83.34 592.20)" text-anchor="end" fill="#111">3</text><line x1="87.62" y1="583.60" x2="87.62" y2="585.60" stroke="#333" stroke-width="0.9" /><text x="93.02" y="592.20" font-size="9.8" transform="rotate(-45 93.02 592.20)" text-anchor="end" fill="#111">4</text><line x1="97.30" y1="583.60" x2="97.30" y2="585.60" stroke="#333" stroke-width="0.9" /><text x="102.70" y="592.20" font-size="9.8" transform="rotate(-45 102.70 592.20)" text-anchor="end" fill="#111">5</text><line x1="106.98" y1="583.60" x2="106.98" y2="585.60" stroke="#333" stroke-width="0.9" /><text x="112.38" y="592.20" font-size="9.8" transform="rotate(-45 112.38 592.20)" text-anchor="end" fill="#111">6</text><line x1="116.66" y1="583.60" x2="116.66" y2="585.60" stroke="#333" stroke-width="0.9" /><text x="122.06" y="592.20" font-size="9.8" transform="rotate(-45 122.06 592.20)" text-anchor="end" fill="#111">7</text><line x1="126.34" y1="583.60" x2="126.34" y2="585.60" stroke="#333" stroke-width="0.9" /><text x="131.74" y="592.20" font-size="9.8" transform="rotate(-45 131.74 592.20)" text-anchor="end" fill="#111">8</text><line x1="136.02" y1="583.60" x2="136.02" y2="585.60" stroke="#333" stroke-width="0.9" /><text x="141.42" y="592.20" font-size="9.8" transform="rotate(-45 141.42 592.20)" text-anchor="end" fill="#111">9</text><line x1="145.70" y1="583.60" x2="145.70" y2="585.60" stroke="#333" stroke-width="0.9" /><text x="151.10" y="592.20" font-size="9.8" transform="rotate(-45 151.10 592.20)" text-anchor="end" fill="#111">10</text><line x1="155.38" y1="583.60" x2="155.38" y2="585.60" stroke="#333" stroke-width="0.9" /><text x="160.78" y="592.20" font-size="9.8" transform="rotate(-45 160.78 592.20)" text-anchor="end" fill="#111">11</text><line x1="165.06" y1="583.60" x2="165.06" y2="585.60" stroke="#333" stroke-width="0.9" /><text x="170.46" y="592.20" font-size="9.8" transform="rotate(-45 170.46 592.20)" text-anchor="end" fill="#111">12</text><rect x="44.70" y="579.60" width="8.40" height="2.00" fill="#000" /><line x1="48.90" y1="580.60" x2="48.90" y2="562.60" stroke="#aaa" stroke-width="1.0" /><path d="M46.40 568.60h0M51.10 562.60h0" stroke="#000" stroke-width="1.5" stroke-linecap="round"/><rect x="54.38" y="579.60" width="8.40" height="2.00" fill="#000" /><line x1="58.58" y1="580.60" x2="58.58" y2="548.20" stroke="#777" stroke-width="1.0" /><path d="M60.34 556.82h0M56.51 571.63h0M60.91 573.21h0M54.91 560.30h0M55.68 562.23h0M59.76 557.56h0M61.33 572.75h0M59.20 561.02h0M59.50 572.70h0M59.56 565.26h0M58.86 574.27h0M56.74 564.98h0M55.54 565.27h0M59.32 561.57h0M56.70 565.00h0M57.93 577.00h0" stroke="#000" stroke-width="1.5" stroke-linecap="round"/><rect x="64.06" y="579.60" width="8.40" height="2.00" fill="#000" /><path d="M72.09 554.21h0M65.92 566.98h0M69.57 561.01h0M70.64 565.08h0M71.49 576.40h0M72.13 566.85h0M64.67 557.27h0M67.31 551.40h0M69.23 558.91h0M65.02 557.83h0M70.71 561.79h0M66.26 561.42h0M69.96 549.83h0M69.28 556.37h0M69.97 574.66h0M66.78 566.30h0M71.05 553.97h0M71.31 575.71h0M68.43 556.01h0M70.08 573.04h0M71.51 564.73h0M65.91 563.76h0M65.09 573.74h0M68.87 561.51h0M69.13 578.35h0M66.75 572.64h0M69.33 580.00h0M70.94 572.83h0M66.01 547.04h0M65.63 561.49h0M65.03 565.72h0M66.01 557.03h0M70.59 561.65h0M65.01 554.93h0M68.31 561.55h0M66.15 559.35h0M65.89 569.98h0M68.17 564.04h0M68.75 543.51h0M67.44 553.38h0M68.22 580.00h0M67.43 570.22h0M70.40 560.54h0M69.14 552.84h0M65.40 566.11h0M67.14 541.07h0M67.94 558.90h0M64.45 580.00h0M64.59 572.59h0M67.08 566.61h0M65.75 560.52h0M65.66 564.50h0M69.70 560.02h0M69.63 570.95h0M65.29 551.68h0M70.60 561.77h0M70.70 572.36h0M70.77 561.94h0M66.88 558.46h0M66.80 560.71h0M71.94 572.64h0M69.60 558.69h0M66.18 548.86h0M68.79 566.00h0M65.47 555.36h0M71.62 551.19h0M66.08 569.71h0M65.98 542.18h0M70.82 562.15h0M70.17 543.60h0M66.22 567.70h0M64.61 565.20h0M69.94 557.76h0M64.37 564.86h0M65.79 565.60h0M64.90 549.06h0M64.41 555.94h0M69.85 567.71h0M64.63 549.83h0M67.62 563.47h0M67.61 568.51h0M70.14 567.45h0M71.77 573.15h0M68.41 578.69h0M68.40 557.54h0M69.63 563.21h0M67.77 552.24h0M71.31 567.59h0M67.88 566.06h0M66.47 561.95h0M64.73 573.07h0M66.83 578.19h0M70.47 547.60h0M67.39 573.55h0M70.75 543.60h0M68.60 568.22h0M64.64 566.03h0M64.48 566.80h0M71.73 551.12h0M68.85 558.54h0M71.73 558.56h0M66.52 579.21h0M66.93 580.00h0M69.80 562.18h0M65.94 567.62h0M67.17 559.53h0M67.13 541.86h0M66.24 558.81h0M70.30 562.26h0M67.87 563.63h0M72.05 553.93h0M64.67 557.10h0M68.98 563.96h0M65.91 556.36h0M71.77 556.97h0M65.31 570.51h0M64.71 562.30h0M65.79 560.24h0M70.02 573.60h0M66.18 569.35h0M66.87 580.00h0M66.19 579.74h0M69.33 552.21h0M68.21 539.80h0M66.12 566.75h0M69.82 562.49h0M71.41 562.73h0M65.79 550.35h0M70.16 579.63h0M70.81 559.60h0M66.12 551.27h0M68.33 569.73h0M66.65 556.52h0M65.90 565.60h0M65.54 559.27h0M69.11 565.79h0M70.20 563.99h0M69.87 573.19h0M69.75 565.67h0M69.20 560.07h0M64.85 547.27h0M65.88 566.66h0M66.77 568.43h0M66.19 547.26h0M68.24 559.45h0M69.89 555.12h0M68.67 559.89h0M71.95 566.43h0M69.46 566.77h0M70.79 559.40h0M66.75 558.44h0M67.20 561.54h0M67.65 559.39h0M71.81 559.76h0M71.84 570.11h0M66.57 565.92h0M64.54 559.28h0M71.50 558.54h0M68.58 580.00h0M64.91 568.39h0M65.59 569.05h0M64.99 555.79h0M71.65 570.21h0M66.22 580.00h0M70.94 568.43h0M71.48 567.80h0M71.14 555.99h0M72.02 562.13h0M69.04 560.44h0M70.37 565.64h0M70.40 574.13h0M64.82 568.10h0M68.65 580.00h0M67.17 574.11h0M69.59 548.49h0M71.81 546.44h0M71.02 547.35h0M70.74 566.09h0M69.64 563.05h0M70.47 573.17h0M69.06 564.39h0M67.32 544.75h0M64.88 580.00h0M64.70 553.38h0M71.03 567.45h0M71.53 562.56h0M69.51 568.51h0M71.25 555.19h0M67.03 576.60h0M68.00 579.08h0M67.35 569.06h0M67.12 578.10h0M68.51 553.98h0M66.32 575.03h0M66.27 565.45h0M65.06 559.36h0M68.71 560.33h0M70.99 548.52h0M67.08 571.15h0M70.84 566.30h0M67.83 556.56h0M65.50 561.86h0M69.18 567.40h0M71.12 559.01h0M64.37 576.23h0M65.20 551.54h0M66.51 551.80h0M68.82 548.39h0M67.53 553.88h0M68.64 572.43h0M68.60 570.06h0M65.42 574.08h0M71.22 546.45h0M70.51 565.62h0M69.02 560.56h0M65.73 551.75h0M68.91 557.69h0M71.51 573.37h0M69.00 566.43h0M65.15 554.14h0M71.94 562.80h0M69.34 555.62h0M66.85 558.30h0M67.24 576.47h0M69.09 549.21h0M67.70 566.94h0M71.20 556.57h0M69.81 566.77h0M68.17 566.48h0M68.52 580.00h0M71.00 575.83h0M70.33 555.02h0M64.61 560.43h0M69.39 544.14h0M68.79 558.54h0M65.47 554.62h0M70.42 565.46h0M68.10 577.37h0M68.62 553.54h0M69.49 576.80h0M66.57 563.07h0M65.45 548.90h0M68.02 580.00h0M65.65 576.82h0M69.41 566.88h0M70.12 567.78h0M67.82 560.44h0M69.53 554.30h0M69.05 571.29h0M71.62 580.00h0M71.93 560.83h0M70.49 555.02h0M66.34 565.47h0M67.54 560.31h0M71.49 548.82h0M67.00 560.78h0M67.48 567.31h0M69.09 555.79h0M64.87 563.48h0M71.56 559.55h0M67.60 565.52h0M70.22 567.09h0M72.14 573.50h0M67.18 552.38h0M69.82 568.14h0M68.09 560.90h0M69.22 571.13h0M69.04 564.64h0M65.00 547.60h0M65.34 571.45h0M65.76 567.60h0M65.75 558.20h0M70.52 560.01h0M68.02 566.58h0M66.14 563.56h0M67.45 573.91h0M69.44 547.86h0M67.57 572.03h0M67.98 562.84h0M67.16 568.41h0M65.62 578.95h0M66.55 553.53h0M71.40 570.49h0M67.81 565.94h0M66.53 554.39h0M67.57 562.40h0M67.66 539.80h0M69.85 562.57h0M66.73 573.57h0M71.39 559.77h0M66.52 555.25h0M66.77 552.74h0M66.79 542.12h0M69.84 547.72h0M67.84 563.42h0M68.16 580.00h0M66.18 556.65h0M67.17 574.03h0M69.06 555.25h0M70.39 567.48h0M70.41 558.10h0M72.01 576.08h0M67.46 571.92h0M70.17 561.82h0M66.42 555.82h0M65.58 543.93h0M70.26 563.79h0M65.94 571.48h0M69.93 563.88h0M68.61 551.20h0M65.36 539.82h0M70.91 569.21h0M67.60 554.17h0M68.71 562.63h0M66.68 554.84h0M71.12 563.33h0M67.95 568.42h0M72.12 539.95h0M70.32 566.19h0M70.63 553.75h0M68.49 564.65h0M70.09 570.28h0M70.33 564.00h0M69.59 580.00h0M70.85 566.31h0M67.77 577.10h0M64.84 569.30h0M67.65 573.41h0M64.55 565.24h0M70.93 553.48h0M65.84 567.90h0M68.08 551.25h0M70.26 562.00h0M69.48 577.14h0M65.50 549.32h0M65.04 565.27h0M69.24 549.95h0M69.99 567.16h0M66.20 562.92h0M68.59 572.00h0M67.40 569.52h0M71.97 552.18h0M71.32 548.11h0M69.01 568.08h0M67.02 568.67h0M68.75 555.90h0M72.04 558.81h0M65.68 561.10h0M68.13 557.82h0M70.12 547.94h0M67.20 560.66h0M70.51 562.31h0M70.56 560.64h0M70.10 551.59h0M65.56 567.60h0M65.72 562.01h0M66.05 580.00h0M69.80 548.14h0M70.55 562.61h0M65.46 573.12h0M67.15 558.59h0M64.75 563.18h0M68.57 562.37h0M66.62 559.39h0M65.17 550.30h0M71.32 563.58h0M66.89 549.92h0M66.33 559.55h0M68.18 567.14h0M68.68 563.00h0M64.76 573.55h0M70.64 575.68h0M64.76 571.73h0M67.17 555.84h0M69.17 569.31h0M71.10 545.99h0M67.89 563.69h0M64.78 555.68h0M72.06 554.83h0M70.70 555.97h0M65.45 562.36h0M65.10 561.19h0M66.38 554.68h0M71.29 565.75h0M64.72 576.04h0M64.73 563.92h0M67.89 561.96h0M69.14 553.72h0M64.40 570.63h0M65.80 567.73h0M70.59 554.19h0M67.14 563.35h0M70.24 566.50h0M67.20 565.13h0M66.38 556.52h0M69.92 580.00h0M64.89 551.59h0M68.58 563.42h0M72.15 564.42h0M65.13 555.24h0M66.18 561.35h0M65.73 552.13h0M69.79 564.90h0M71.91 550.78h0M71.18 565.62h0M69.36 560.82h0M64.65 544.24h0M69.49 567.04h0M64.96 572.80h0M64.62 552.96h0M71.51 574.15h0M66.23 562.98h0M67.88 573.88h0M69.24 569.01h0M67.10 568.09h0M65.27 573.54h0M67.92 550.46h0M67.51 558.26h0M66.89 561.79h0M67.95 571.87h0M65.51 553.18h0M69.63 567.29h0M69.01 549.38h0M70.76 571.58h0M65.09 577.20h0M69.11 571.54h0M67.57 562.32h0M68.32 552.87h0M65.09 554.35h0M69.10 557.56h0M67.76 535.00h0M71.06 536.20h0M69.46 533.80h0M66.06 538.60h0M65.26 541.00h0M68.76 537.40h0M71.46 539.80h0" stroke="#000" stroke-width="1.4" stroke-linecap="round"/><rect x="73.74" y="579.60" width="8.40" height="2.00" fill="#000" /><line x1="77.94" y1="580.60" x2="77.94" y2="555.40" stroke="#777" stroke-width="1.0" /><path d="M75.64 566.20h0M78.44 555.40h0M79.54 568.60h0" stroke="#000" stroke-width="1.5" stroke-linecap="round"/><rect x="83.42" y="579.60" width="8.40" height="2.00" fill="#000" /><line x1="87.62" y1="580.60" x2="87.62" y2="563.80" stroke="#777" stroke-width="1.0" /><path d="M84.78 571.66h0M87.24 564.34h0M86.52 571.50h0M89.67 564.05h0M85.35 565.85h0M85.83 570.45h0" stroke="#000" stroke-width="1.5" stroke-linecap="round"/><rect x="93.10" y="579.60" width="8.40" height="2.00" fill="#000" /><line x1="97.30" y1="580.60" x2="97.30" y2="567.40" stroke="#555" stroke-width="1.0" /><path d="M97.65 579.72h0M99.37 575.65h0M100.02 577.17h0M98.52 574.45h0M96.90 577.87h0M95.81 577.62h0M97.70 575.46h0M97.31 577.35h0M98.40 576.75h0M100.08 576.63h0M98.37 576.41h0M96.09 577.29h0M100.21 578.41h0M94.81 578.25h0M100.46 573.82h0M98.47 577.51h0" stroke="#000" stroke-width="1.5" stroke-linecap="round"/><rect x="102.78" y="579.60" width="8.40" height="2.00" fill="#000" /><line x1="106.98" y1="580.60" x2="106.98" y2="571.00" stroke="#777" stroke-width="1.0" /><path d="M106.98 573.40h0M107.38 571.00h0" stroke="#000" stroke-width="1.5" stroke-linecap="round"/><rect x="112.46" y="579.60" width="8.40" height="2.00" fill="#000" /><line x1="116.66" y1="580.60" x2="116.66" y2="544.60" stroke="#aaa" stroke-width="1.0" /><path d="M114.86 566.73h0M114.62 570.27h0M113.90 578.49h0M117.62 571.09h0M114.13 575.98h0M114.89 577.36h0M114.28 572.12h0M113.95 570.52h0M118.04 561.33h0M118.96 579.40h0M118.83 568.06h0M116.68 574.61h0M113.65 566.40h0M118.52 577.41h0M113.81 562.46h0M118.08 579.40h0M118.77 572.48h0M117.85 569.87h0M116.75 575.12h0M113.92 563.50h0M117.16 579.40h0M116.65 571.47h0M114.82 565.31h0M117.00 568.14h0M113.82 568.70h0M115.74 561.76h0M119.89 573.90h0M118.74 567.43h0M116.72 568.94h0M117.57 569.80h0M119.79 570.98h0M113.77 575.91h0M114.55 563.53h0M119.83 568.98h0M113.13 568.99h0M113.11 579.40h0M115.80 569.16h0M113.67 567.00h0M114.44 575.37h0M115.14 575.45h0M119.26 544.60h0" stroke="#000" stroke-width="1.5" stroke-linecap="round"/><rect x="122.14" y="579.60" width="8.40" height="2.00" fill="#000" /><line x1="126.34" y1="580.60" x2="126.34" y2="560.20" stroke="#777" stroke-width="1.0" /><path d="M128.88 572.54h0M129.02 570.34h0M126.29 565.22h0M123.97 563.31h0M126.58 563.19h0M128.91 566.80h0M126.47 562.48h0M129.44 567.73h0" stroke="#000" stroke-width="1.5" stroke-linecap="round"/><rect x="131.82" y="579.60" width="8.40" height="2.00" fill="#000" /><line x1="136.02" y1="580.60" x2="136.02" y2="553.00" stroke="#555" stroke-width="1.0" /><path d="M133.22 576.40h0M139.02 553.00h0" stroke="#000" stroke-width="1.5" stroke-linecap="round"/><rect x="141.50" y="579.60" width="8.40" height="2.00" fill="#000" /><line x1="145.70" y1="580.60" x2="145.70" y2="537.40" stroke="#777" stroke-width="1.0" /><path d="M143.20 537.40h0M142.50 545.80h0M146.70 538.60h0M147.50 556.60h0M149.10 564.40h0" stroke="#000" stroke-width="1.5" stroke-linecap="round"/><rect x="151.18" y="579.60" width="8.40" height="2.00" fill="#000" /><line x1="155.38" y1="580.60" x2="155.38" y2="565.00" stroke="#777" stroke-width="1.0" /><path d="M153.88 565.00h0" stroke="#000" stroke-width="1.5" stroke-linecap="round"/><rect x="160.86" y="579.60" width="8.40" height="2.00" fill="#000" /><line x1="165.06" y1="580.60" x2="165.06" y2="569.80" stroke="#777" stroke-width="1.0" /><path d="M166.96 569.80h0M168.46 578.20h0" stroke="#000" stroke-width="1.5" stroke-linecap="round"/><text x="103.70" y="523.40" font-size="9.2" text-anchor="middle" fill="#111" font-style="italic">IL1A</text><text x="28.60" y="560.60" font-size="9.6" transform="rotate(-90 28.60 560.60)" text-anchor="middle" fill="#111">Expression Level</text><line x1="196.60" y1="533.50" x2="196.60" y2="584.90" stroke="#333" stroke-width="1.3" /><line x1="196.00" y1="584.90" x2="322.00" y2="584.90" stroke="#999" stroke-width="1.6" /><line x1="194.00" y1="582.60" x2="196.60" y2="582.60" stroke="#333" stroke-width="0.9" /><text x="193.00" y="586.10" font-size="9.8" text-anchor="end" fill="#111" textLength="5.3" lengthAdjust="spacingAndGlyphs">0</text><line x1="194.00" y1="567.04" x2="196.60" y2="567.04" stroke="#333" stroke-width="0.9" /><text x="193.00" y="570.54" font-size="9.8" text-anchor="end" fill="#111" textLength="5.3" lengthAdjust="spacingAndGlyphs">2</text><line x1="194.00" y1="551.48" x2="196.60" y2="551.48" stroke="#333" stroke-width="0.9" /><text x="193.00" y="554.98" font-size="9.8" text-anchor="end" fill="#111" textLength="5.3" lengthAdjust="spacingAndGlyphs">4</text><line x1="194.00" y1="535.92" x2="196.60" y2="535.92" stroke="#333" stroke-width="0.9" /><text x="193.00" y="539.42" font-size="9.8" text-anchor="end" fill="#111" textLength="5.3" lengthAdjust="spacingAndGlyphs">6</text><line x1="202.30" y1="585.60" x2="202.30" y2="587.60" stroke="#333" stroke-width="0.9" /><text x="207.70" y="594.20" font-size="9.8" transform="rotate(-45 207.70 594.20)" text-anchor="end" fill="#111">0</text><line x1="212.03" y1="585.60" x2="212.03" y2="587.60" stroke="#333" stroke-width="0.9" /><text x="217.43" y="594.20" font-size="9.8" transform="rotate(-45 217.43 594.20)" text-anchor="end" fill="#111">1</text><line x1="221.76" y1="585.60" x2="221.76" y2="587.60" stroke="#333" stroke-width="0.9" /><text x="227.16" y="594.20" font-size="9.8" transform="rotate(-45 227.16 594.20)" text-anchor="end" fill="#111">2</text><line x1="231.49" y1="585.60" x2="231.49" y2="587.60" stroke="#333" stroke-width="0.9" /><text x="236.89" y="594.20" font-size="9.8" transform="rotate(-45 236.89 594.20)" text-anchor="end" fill="#111">3</text><line x1="241.22" y1="585.60" x2="241.22" y2="587.60" stroke="#333" stroke-width="0.9" /><text x="246.62" y="594.20" font-size="9.8" transform="rotate(-45 246.62 594.20)" text-anchor="end" fill="#111">4</text><line x1="250.95" y1="585.60" x2="250.95" y2="587.60" stroke="#333" stroke-width="0.9" /><text x="256.35" y="594.20" font-size="9.8" transform="rotate(-45 256.35 594.20)" text-anchor="end" fill="#111">5</text><line x1="260.68" y1="585.60" x2="260.68" y2="587.60" stroke="#333" stroke-width="0.9" /><text x="266.08" y="594.20" font-size="9.8" transform="rotate(-45 266.08 594.20)" text-anchor="end" fill="#111">6</text><line x1="270.41" y1="585.60" x2="270.41" y2="587.60" stroke="#333" stroke-width="0.9" /><text x="275.81" y="594.20" font-size="9.8" transform="rotate(-45 275.81 594.20)" text-anchor="end" fill="#111">7</text><line x1="280.14" y1="585.60" x2="280.14" y2="587.60" stroke="#333" stroke-width="0.9" /><text x="285.54" y="594.20" font-size="9.8" transform="rotate(-45 285.54 594.20)" text-anchor="end" fill="#111">8</text><line x1="289.87" y1="585.60" x2="289.87" y2="587.60" stroke="#333" stroke-width="0.9" /><text x="295.27" y="594.20" font-size="9.8" transform="rotate(-45 295.27 594.20)" text-anchor="end" fill="#111">9</text><line x1="299.60" y1="585.60" x2="299.60" y2="587.60" stroke="#333" stroke-width="0.9" /><text x="305.00" y="594.20" font-size="9.8" transform="rotate(-45 305.00 594.20)" text-anchor="end" fill="#111">10</text><line x1="309.33" y1="585.60" x2="309.33" y2="587.60" stroke="#333" stroke-width="0.9" /><text x="314.73" y="594.20" font-size="9.8" transform="rotate(-45 314.73 594.20)" text-anchor="end" fill="#111">11</text><line x1="319.06" y1="585.60" x2="319.06" y2="587.60" stroke="#333" stroke-width="0.9" /><text x="324.46" y="594.20" font-size="9.8" transform="rotate(-45 324.46 594.20)" text-anchor="end" fill="#111">12</text><rect x="198.10" y="581.60" width="8.40" height="2.00" fill="#000" /><line x1="202.30" y1="582.60" x2="202.30" y2="571.71" stroke="#777" stroke-width="1.0" /><path d="M201.15 572.47h0M205.73 573.01h0M204.34 575.99h0M199.74 575.85h0M204.21 575.76h0M203.51 577.01h0M199.78 575.75h0M201.44 575.25h0" stroke="#000" stroke-width="1.5" stroke-linecap="round"/><rect x="207.83" y="581.60" width="8.40" height="2.00" fill="#000" /><line x1="212.03" y1="582.60" x2="212.03" y2="561.59" stroke="#555" stroke-width="1.0" /><path d="M215.22 580.27h0M209.96 571.28h0M215.52 567.93h0M214.44 573.67h0M215.29 576.18h0M215.82 573.74h0M214.49 574.63h0M214.05 574.63h0M215.65 565.51h0M213.82 580.27h0M212.07 577.01h0M214.01 570.26h0M212.15 578.37h0M212.71 578.45h0M215.31 566.55h0M213.54 574.83h0M210.44 570.38h0M210.23 570.41h0M211.89 571.95h0M214.18 571.92h0M212.65 566.41h0M208.34 580.27h0M214.83 572.78h0M210.66 572.02h0" stroke="#000" stroke-width="1.5" stroke-linecap="round"/><rect x="217.56" y="581.60" width="8.40" height="2.00" fill="#000" /><line x1="221.76" y1="582.60" x2="221.76" y2="568.60" stroke="#777" stroke-width="1.0" /><path d="M222.36 576.30h0M224.29 579.80h0M222.73 576.44h0M220.72 576.88h0M219.90 572.56h0M224.80 576.05h0M223.89 576.99h0M224.78 574.77h0M224.40 577.95h0M220.61 575.48h0M224.50 575.57h0M219.85 574.44h0M223.20 572.91h0M225.34 573.06h0M220.10 574.29h0M224.37 570.36h0" stroke="#000" stroke-width="1.5" stroke-linecap="round"/><rect x="227.29" y="581.60" width="8.40" height="2.00" fill="#000" /><line x1="231.49" y1="582.60" x2="231.49" y2="565.48" stroke="#777" stroke-width="1.0" /><path d="M234.06 577.19h0M231.75 572.11h0M228.95 572.91h0M232.95 572.41h0M228.06 572.21h0M233.37 576.56h0M233.39 568.91h0M232.73 577.46h0M229.14 574.21h0M232.58 570.09h0M229.45 575.49h0M229.69 567.68h0M233.60 570.32h0M233.96 571.19h0M232.90 571.76h0M231.96 572.90h0" stroke="#000" stroke-width="1.5" stroke-linecap="round"/><rect x="237.02" y="581.60" width="8.40" height="2.00" fill="#000" /><line x1="241.22" y1="582.60" x2="241.22" y2="564.71" stroke="#555" stroke-width="1.0" /><path d="M239.42 570.15h0M238.62 574.04h0M241.72 579.49h0M243.72 564.71h0" stroke="#000" stroke-width="1.5" stroke-linecap="round"/><rect x="246.75" y="581.60" width="8.40" height="2.00" fill="#000" /><line x1="250.95" y1="582.60" x2="250.95" y2="555.37" stroke="#777" stroke-width="1.0" /><path d="M252.37 581.92h0M249.49 561.29h0M250.72 570.00h0M250.77 579.15h0M253.45 574.67h0M249.41 573.04h0M251.48 576.95h0M247.60 572.07h0M253.90 569.06h0M252.37 572.47h0M250.57 573.74h0M252.79 575.96h0M247.65 573.49h0M250.01 580.06h0M251.84 560.87h0M249.80 577.45h0M250.65 579.80h0M253.70 578.12h0M252.76 575.85h0M252.50 574.35h0M254.68 567.17h0M252.10 568.74h0M250.36 576.53h0M254.74 579.57h0M247.79 574.61h0M251.06 566.44h0M254.68 578.24h0M249.10 581.40h0M249.66 571.74h0M254.17 567.60h0M254.84 571.45h0M250.24 566.47h0M249.57 579.53h0M249.55 571.60h0M247.57 572.71h0M253.34 574.18h0M250.79 574.33h0M250.74 579.72h0M249.83 573.53h0M251.66 566.63h0M247.37 577.56h0M254.77 566.17h0M249.98 566.25h0M248.06 572.69h0M248.50 566.56h0M249.61 574.40h0M254.84 570.36h0M254.57 566.01h0M251.44 572.04h0M253.01 563.55h0M248.00 572.21h0M254.13 571.69h0M250.66 571.55h0M247.52 572.66h0M248.46 566.19h0M252.99 559.54h0M250.50 569.45h0M248.70 578.97h0M251.50 576.86h0M251.21 566.46h0M250.63 581.71h0M250.01 563.41h0M251.76 582.21h0M252.84 571.48h0M252.68 570.58h0M247.80 578.44h0M250.09 580.16h0M248.35 572.57h0M250.12 571.42h0M247.97 578.66h0M248.47 564.98h0M250.08 582.21h0M253.53 574.13h0M251.85 569.33h0M249.64 565.26h0M253.15 578.40h0M251.07 566.76h0M247.66 568.12h0M248.01 575.02h0M247.69 565.93h0M251.63 582.21h0M254.83 582.21h0M248.34 576.15h0M250.60 573.00h0M254.66 565.27h0M251.65 581.38h0M248.34 573.02h0M251.27 581.13h0M253.44 575.27h0M248.78 562.06h0M247.21 569.79h0M248.55 569.46h0M250.44 559.67h0M253.94 577.02h0M251.50 564.58h0M251.83 555.37h0M251.27 573.39h0M251.96 572.57h0M254.27 576.36h0M247.25 582.21h0" stroke="#000" stroke-width="1.3" stroke-linecap="round"/><rect x="256.48" y="581.60" width="8.40" height="2.00" fill="#000" /><line x1="260.68" y1="582.60" x2="260.68" y2="575.60" stroke="#777" stroke-width="1.0" /><path d="M258.18 577.15h0M261.18 575.60h0" stroke="#000" stroke-width="1.5" stroke-linecap="round"/><rect x="266.21" y="581.60" width="8.40" height="2.00" fill="#000" /><path d="M274.61 582.60 L274.41 580.27 L273.41 576.38 L273.01 570.93 L273.41 563.15 L272.81 555.37 L271.81 549.15 L270.71 543.70 L270.11 543.70 L269.01 549.15 L268.01 555.37 L267.41 563.15 L267.81 570.93 L267.41 576.38 L266.41 580.27 L266.21 582.60Z" fill="#1aa9d0" stroke="#222" stroke-width="0.4"/><path d="M273.12 567.96h0M270.65 569.92h0M273.07 556.86h0M273.41 565.80h0M271.86 556.36h0M271.83 571.53h0M267.79 582.21h0M268.31 565.57h0M274.14 577.71h0M267.02 576.61h0M269.37 558.27h0M271.98 566.37h0M269.58 559.94h0M273.53 566.61h0M268.59 560.73h0M272.77 574.19h0M266.61 563.51h0M268.22 557.75h0M272.51 576.75h0M271.32 562.77h0M268.41 564.99h0M267.56 556.97h0M272.73 553.89h0M273.13 546.27h0M272.31 567.67h0M270.72 573.46h0M271.51 563.31h0M267.50 578.20h0M270.93 556.73h0M268.53 577.31h0M268.24 571.25h0M272.49 574.52h0M274.26 571.53h0M269.63 582.21h0M271.66 569.34h0M272.92 568.45h0M272.07 567.93h0M269.56 565.34h0M269.70 560.34h0M270.46 551.86h0M271.80 574.55h0M268.77 572.29h0M272.81 564.89h0M269.06 555.91h0M269.25 563.54h0M267.62 559.53h0M274.27 578.30h0M267.21 563.90h0M269.44 566.77h0M273.19 560.81h0M269.83 560.40h0M273.08 556.72h0M273.21 582.21h0M273.67 579.19h0M267.36 565.39h0M274.10 570.69h0M271.30 564.92h0M271.12 563.10h0M269.71 561.47h0M270.10 557.60h0M271.60 569.42h0M269.11 562.42h0M266.79 549.10h0M272.52 582.21h0M271.01 566.79h0M268.80 574.06h0M271.54 560.81h0M268.51 572.73h0M273.91 562.01h0M267.80 571.32h0M269.61 578.44h0M272.64 558.47h0M270.53 553.08h0M273.45 542.92h0M270.43 561.78h0M273.87 557.80h0M269.60 556.87h0M269.22 566.66h0M272.45 561.75h0M267.35 563.89h0M267.99 561.75h0M268.93 574.97h0M268.55 556.95h0M271.27 556.84h0M267.21 578.70h0M272.25 562.35h0M273.91 562.92h0M274.20 557.05h0M270.62 576.28h0M271.59 569.13h0M266.56 558.75h0M270.89 567.92h0M270.34 572.24h0M267.48 557.03h0M270.91 577.51h0M271.91 550.27h0M267.44 572.44h0M270.85 570.69h0M273.61 560.31h0M266.80 555.55h0M274.15 558.95h0M269.39 576.49h0M272.44 570.53h0M267.06 561.84h0M274.00 562.33h0M273.77 559.91h0M268.90 575.39h0M271.79 575.84h0M267.61 558.18h0M268.19 569.76h0M268.99 573.47h0M270.74 561.93h0M269.11 554.30h0M270.28 572.15h0M266.77 555.30h0M270.89 549.61h0M266.67 564.40h0M272.52 580.10h0M267.18 581.56h0M270.35 559.80h0M273.40 561.61h0M270.49 567.93h0M270.39 571.38h0M267.32 563.91h0M267.62 564.02h0M271.14 564.26h0M268.10 579.02h0M268.48 552.94h0M267.16 566.77h0M270.68 578.01h0M271.74 566.50h0M271.62 544.42h0M272.59 569.77h0M271.50 549.43h0M269.40 580.05h0M267.40 557.73h0M271.34 571.96h0M267.62 560.11h0M270.64 565.56h0M269.23 571.35h0M268.46 554.27h0M268.49 566.72h0M269.00 570.91h0M274.13 554.00h0M266.62 565.47h0M267.03 572.14h0M269.61 572.93h0M269.63 563.64h0M274.19 560.97h0M272.98 569.41h0M270.10 556.93h0M270.39 570.90h0M266.95 560.41h0M268.34 575.21h0M271.25 565.78h0M273.15 566.35h0M270.42 574.19h0M267.00 559.33h0M269.72 582.21h0M268.17 557.87h0M271.22 555.04h0M271.60 579.08h0M272.24 567.53h0M267.20 553.76h0M268.34 571.86h0M271.10 560.83h0M270.34 561.74h0M269.54 564.23h0M269.16 572.24h0M273.25 568.25h0M274.07 569.73h0M272.07 564.89h0M272.15 573.19h0M271.63 579.72h0M266.81 564.66h0M273.27 565.29h0M273.39 560.01h0M268.37 563.26h0M266.82 569.21h0M270.31 569.64h0M273.02 567.57h0M271.07 569.81h0M267.16 573.53h0M270.33 570.07h0M269.27 565.21h0M271.28 575.38h0M270.01 563.31h0M271.15 564.94h0M270.20 570.05h0M273.53 567.37h0M270.94 550.21h0M273.98 551.64h0M268.31 561.37h0M270.51 558.01h0M271.04 563.35h0M273.64 573.64h0M268.03 572.90h0M273.68 574.23h0M268.76 559.57h0M273.65 568.09h0M271.15 570.59h0M273.07 559.48h0M267.26 556.42h0M272.41 559.09h0M269.73 559.32h0M270.56 555.64h0M272.86 566.03h0M268.78 566.52h0M268.66 571.24h0M268.24 571.73h0M271.95 570.31h0M272.18 566.42h0M271.79 566.99h0M272.05 571.53h0M270.89 565.79h0M269.05 571.59h0M268.30 548.14h0M268.47 574.45h0M271.75 570.61h0M274.14 550.05h0M268.08 563.71h0M270.57 561.71h0M273.30 577.64h0M270.56 566.13h0M268.07 569.05h0M268.64 559.38h0M270.07 560.91h0M267.34 561.97h0M271.37 581.44h0M266.64 558.35h0M267.55 545.19h0M273.55 546.95h0M266.69 574.04h0M271.11 561.03h0M267.22 567.08h0M268.43 563.15h0M273.64 570.94h0M266.73 548.43h0M266.53 580.98h0M272.89 561.16h0M269.62 560.01h0M267.42 570.03h0M270.62 567.86h0M270.29 562.62h0M270.85 582.21h0M273.94 553.07h0M268.90 558.32h0M269.80 572.85h0M273.89 556.80h0M272.57 548.29h0M269.34 575.30h0M271.74 569.33h0M267.62 574.91h0M271.57 559.41h0M267.88 561.46h0M271.19 564.92h0M268.55 578.96h0M273.90 571.02h0M271.80 570.32h0M274.16 563.86h0M270.25 574.93h0M271.77 553.57h0M269.49 563.86h0M266.80 576.53h0M272.98 552.56h0M270.46 557.13h0M268.21 579.39h0M269.19 564.95h0M273.50 565.64h0M269.56 558.85h0M270.37 558.96h0M268.20 574.62h0M273.61 562.95h0M268.50 569.79h0M268.28 551.42h0M268.08 582.21h0M273.39 565.56h0M267.88 564.54h0M272.95 555.12h0M268.90 565.49h0M272.11 556.92h0M267.28 557.24h0M271.56 574.83h0M271.90 573.22h0M271.98 571.07h0M273.05 549.47h0M273.91 569.65h0M268.00 573.59h0M271.12 569.01h0M272.21 582.21h0M270.38 565.47h0M269.21 564.01h0M272.04 569.12h0M271.62 554.66h0M272.46 571.30h0M274.03 582.21h0M266.88 561.10h0M273.83 558.18h0M269.82 563.78h0M273.40 572.72h0M269.98 559.42h0M272.03 580.76h0M267.71 559.96h0M268.83 551.98h0M273.67 571.17h0M269.49 572.08h0M272.01 560.76h0M271.06 558.05h0M274.20 575.98h0M273.70 571.73h0M266.72 560.79h0M267.34 545.59h0M269.38 557.94h0M267.00 562.36h0M270.58 568.17h0M270.17 573.48h0M274.23 556.29h0M268.57 575.09h0M272.15 553.24h0M274.15 555.20h0M269.27 553.30h0M267.05 552.67h0M272.02 568.94h0M269.47 567.42h0M271.96 580.54h0M268.59 550.08h0M270.16 573.95h0M266.81 569.92h0M269.55 571.93h0M273.96 556.48h0" stroke="#000" stroke-width="1.45" stroke-linecap="round"/><rect x="275.94" y="581.60" width="8.40" height="2.00" fill="#000" /><line x1="280.14" y1="582.60" x2="280.14" y2="555.37" stroke="#555" stroke-width="1.0" /><path d="M278.94 568.60h0M281.14 573.26h0M282.64 555.37h0M283.14 576.38h0" stroke="#000" stroke-width="1.5" stroke-linecap="round"/><rect x="285.67" y="581.60" width="8.40" height="2.00" fill="#000" /><line x1="289.87" y1="582.60" x2="289.87" y2="579.49" stroke="#777" stroke-width="1.0" /><path d="M287.37 579.49h0M292.17 579.49h0" stroke="#000" stroke-width="1.5" stroke-linecap="round"/><rect x="295.40" y="581.60" width="8.40" height="2.00" fill="#000" /><path d="M304.20 582.60 L303.80 579.49 L302.40 575.60 L301.10 570.93 L300.70 565.48 L301.20 559.26 L301.60 551.48 L301.20 543.70 L300.00 537.48 L299.20 537.48 L298.00 543.70 L297.60 551.48 L298.00 559.26 L298.50 565.48 L298.10 570.93 L296.80 575.60 L295.40 579.49 L295.00 582.60Z" fill="#a780b8" stroke="#222" stroke-width="0.4"/><path d="M300.10 541.59h0M298.08 546.59h0M301.36 552.28h0M298.01 536.84h0M298.91 556.03h0M300.54 552.44h0M298.96 565.52h0M301.51 556.95h0M301.45 555.32h0M297.57 548.30h0M302.07 544.98h0M298.75 541.69h0M296.89 548.58h0M301.08 549.61h0M298.47 549.93h0M299.96 566.22h0M296.84 553.51h0M301.57 549.17h0M299.83 549.43h0M299.87 553.12h0M302.29 552.57h0M298.81 548.58h0M301.29 544.13h0M297.20 561.93h0M301.01 547.99h0M299.85 551.51h0M300.59 561.02h0M297.40 548.40h0M301.30 552.18h0M296.95 542.45h0M299.19 558.65h0M300.04 556.54h0M300.52 557.09h0M297.12 550.87h0M297.13 547.43h0M302.09 544.57h0M301.71 557.02h0M300.83 548.38h0M300.25 542.38h0M300.37 536.70h0M299.40 545.12h0M301.44 540.32h0M299.79 556.21h0M298.90 551.19h0M301.09 564.16h0M301.21 546.00h0M299.57 556.62h0M301.49 553.99h0M297.07 562.46h0M301.12 548.87h0M299.03 551.11h0M302.01 552.20h0M297.88 551.20h0M298.63 541.38h0M299.19 549.11h0M299.49 549.22h0M296.97 548.54h0M300.31 556.78h0M297.93 546.93h0M300.20 554.22h0M298.32 552.95h0M302.13 543.56h0M298.18 553.41h0M298.49 561.45h0M299.72 553.65h0M299.95 545.06h0M300.43 554.44h0M297.80 550.34h0M300.43 548.38h0M299.49 559.34h0M302.23 547.40h0M299.54 549.52h0M301.32 536.70h0M301.03 551.02h0M300.72 546.53h0M297.07 542.98h0M299.54 559.06h0M299.55 542.74h0M299.89 541.74h0M298.19 551.22h0M299.11 542.46h0M301.96 542.18h0M301.34 546.42h0M301.51 548.31h0M297.51 554.77h0M299.46 540.86h0M301.28 548.20h0M300.85 561.32h0M297.23 558.14h0M302.30 536.70h0M299.54 545.22h0M300.26 549.98h0M298.58 552.95h0M297.60 550.07h0M299.98 555.29h0M299.54 538.86h0M298.59 558.30h0M297.33 544.60h0M296.84 562.71h0M299.98 542.44h0M300.46 558.62h0M298.52 548.91h0M301.18 545.77h0M298.21 549.20h0M302.24 560.44h0M300.29 541.36h0M298.04 554.53h0M301.55 551.54h0M300.00 540.56h0M297.84 540.14h0M298.36 555.49h0M299.67 543.34h0M302.24 552.65h0M300.72 552.71h0M301.85 539.92h0M300.29 540.90h0M298.02 556.69h0M300.35 553.56h0M300.54 556.77h0M297.01 539.98h0M303.10 577.93h0M302.60 574.82h0M303.40 571.71h0M296.60 579.49h0" stroke="#000" stroke-width="1.3" stroke-linecap="round"/><rect x="305.13" y="581.60" width="8.40" height="2.00" fill="#000" /><line x1="309.33" y1="582.60" x2="309.33" y2="573.26" stroke="#777" stroke-width="1.0" /><path d="M307.36 578.39h0M307.03 577.22h0M312.39 574.44h0M307.02 576.14h0M307.69 579.15h0M311.19 576.41h0M307.24 576.11h0M310.72 574.43h0" stroke="#000" stroke-width="1.5" stroke-linecap="round"/><rect x="314.86" y="581.60" width="8.40" height="2.00" fill="#000" /><line x1="319.06" y1="582.60" x2="319.06" y2="564.71" stroke="#555" stroke-width="1.0" /><path d="M318.56 576.38h0M320.56 564.71h0" stroke="#000" stroke-width="1.5" stroke-linecap="round"/><text x="257.30" y="525.00" font-size="9.2" text-anchor="middle" fill="#111" font-style="italic">IL1B</text><text x="350.40" y="333.60" font-size="19">D</text><line x1="444.40" y1="457.98" x2="444.40" y2="492.66" stroke="#3a3a3a" stroke-width="2.0" /><line x1="444.40" y1="524.58" x2="444.40" y2="546.77" stroke="#3a3a3a" stroke-width="2.0" /><rect x="428.90" y="492.66" width="30.50" height="31.91" fill="none" stroke="#3a3a3a" stroke-width="2.0" /><line x1="428.90" y1="507.93" x2="459.40" y2="507.93" stroke="#3a3a3a" stroke-width="3.4" /><line x1="486.30" y1="380.27" x2="486.30" y2="426.06" stroke="#3a3a3a" stroke-width="2.0" /><line x1="486.30" y1="503.76" x2="486.30" y2="512.09" stroke="#3a3a3a" stroke-width="2.0" /><rect x="471.30" y="426.06" width="30.50" height="77.70" fill="none" stroke="#3a3a3a" stroke-width="2.0" /><line x1="471.30" y1="487.11" x2="501.80" y2="487.11" stroke="#3a3a3a" stroke-width="3.4" /><line x1="444.40" y1="457.98" x2="486.30" y2="405.25" stroke="#000" stroke-width="1.25" /><line x1="444.40" y1="464.91" x2="486.30" y2="481.56" stroke="#000" stroke-width="1.25" /><line x1="444.40" y1="478.79" x2="486.30" y2="380.27" stroke="#000" stroke-width="1.25" /><line x1="444.40" y1="498.21" x2="486.30" y2="417.74" stroke="#000" stroke-width="1.25" /><line x1="444.40" y1="499.60" x2="486.30" y2="496.83" stroke="#000" stroke-width="1.25" /><line x1="444.40" y1="506.54" x2="486.30" y2="495.44" stroke="#000" stroke-width="1.25" /><line x1="444.40" y1="507.93" x2="486.30" y2="512.09" stroke="#000" stroke-width="1.25" /><line x1="444.40" y1="510.15" x2="486.30" y2="428.84" stroke="#000" stroke-width="1.25" /><line x1="444.40" y1="523.19" x2="486.30" y2="502.38" stroke="#000" stroke-width="1.25" /><line x1="444.40" y1="525.96" x2="486.30" y2="496.27" stroke="#000" stroke-width="1.25" /><line x1="444.40" y1="528.74" x2="486.30" y2="435.77" stroke="#000" stroke-width="1.25" /><line x1="444.40" y1="542.61" x2="486.30" y2="512.09" stroke="#000" stroke-width="1.25" /><line x1="444.40" y1="545.39" x2="486.30" y2="428.84" stroke="#000" stroke-width="1.25" /><line x1="444.40" y1="546.77" x2="486.30" y2="512.09" stroke="#000" stroke-width="1.25" /><circle cx="444.40" cy="457.98" r="2.3" fill="#f07e76" fill-opacity="0.85"/><circle cx="486.30" cy="405.25" r="2.3" fill="#22bcc6" fill-opacity="0.85"/><circle cx="444.40" cy="464.91" r="2.3" fill="#f07e76" fill-opacity="0.85"/><circle cx="486.30" cy="481.56" r="2.3" fill="#22bcc6" fill-opacity="0.85"/><circle cx="444.40" cy="478.79" r="2.3" fill="#f07e76" fill-opacity="0.85"/><circle cx="486.30" cy="380.27" r="2.3" fill="#22bcc6" fill-opacity="0.85"/><circle cx="444.40" cy="498.21" r="2.3" fill="#f07e76" fill-opacity="0.85"/><circle cx="486.30" cy="417.74" r="2.3" fill="#22bcc6" fill-opacity="0.85"/><circle cx="444.40" cy="499.60" r="2.3" fill="#f07e76" fill-opacity="0.85"/><circle cx="486.30" cy="496.83" r="2.3" fill="#22bcc6" fill-opacity="0.85"/><circle cx="444.40" cy="506.54" r="2.3" fill="#f07e76" fill-opacity="0.85"/><circle cx="486.30" cy="495.44" r="2.3" fill="#22bcc6" fill-opacity="0.85"/><circle cx="444.40" cy="507.93" r="2.3" fill="#f07e76" fill-opacity="0.85"/><circle cx="486.30" cy="512.09" r="2.3" fill="#22bcc6" fill-opacity="0.85"/><circle cx="444.40" cy="510.15" r="2.3" fill="#f07e76" fill-opacity="0.85"/><circle cx="486.30" cy="428.84" r="2.3" fill="#22bcc6" fill-opacity="0.85"/><circle cx="444.40" cy="523.19" r="2.3" fill="#f07e76" fill-opacity="0.85"/><circle cx="486.30" cy="502.38" r="2.3" fill="#22bcc6" fill-opacity="0.85"/><circle cx="444.40" cy="525.96" r="2.3" fill="#f07e76" fill-opacity="0.85"/><circle cx="486.30" cy="496.27" r="2.3" fill="#22bcc6" fill-opacity="0.85"/><circle cx="444.40" cy="528.74" r="2.3" fill="#f07e76" fill-opacity="0.85"/><circle cx="486.30" cy="435.77" r="2.3" fill="#22bcc6" fill-opacity="0.85"/><circle cx="444.40" cy="542.61" r="2.3" fill="#f07e76" fill-opacity="0.85"/><circle cx="486.30" cy="512.09" r="2.3" fill="#22bcc6" fill-opacity="0.85"/><circle cx="444.40" cy="545.39" r="2.3" fill="#f07e76" fill-opacity="0.85"/><circle cx="486.30" cy="428.84" r="2.3" fill="#22bcc6" fill-opacity="0.85"/><circle cx="444.40" cy="546.77" r="2.3" fill="#f07e76" fill-opacity="0.85"/><circle cx="486.30" cy="512.09" r="2.3" fill="#22bcc6" fill-opacity="0.85"/><line x1="419.30" y1="364.00" x2="419.30" y2="555.60" stroke="#000" stroke-width="1.5" /><line x1="418.55" y1="555.60" x2="510.70" y2="555.60" stroke="#000" stroke-width="1.5" /><line x1="416.40" y1="555.10" x2="419.30" y2="555.10" stroke="#333" stroke-width="1" /><text x="415.50" y="558.20" font-size="8.8" text-anchor="end" fill="#4d4d4d">4</text><line x1="416.40" y1="499.60" x2="419.30" y2="499.60" stroke="#333" stroke-width="1" /><text x="415.50" y="502.70" font-size="8.8" text-anchor="end" fill="#4d4d4d">6</text><line x1="416.40" y1="444.10" x2="419.30" y2="444.10" stroke="#333" stroke-width="1" /><text x="415.50" y="447.20" font-size="8.8" text-anchor="end" fill="#4d4d4d">8</text><line x1="416.40" y1="388.60" x2="419.30" y2="388.60" stroke="#333" stroke-width="1" /><text x="415.50" y="391.70" font-size="8.8" text-anchor="end" fill="#4d4d4d">10</text><line x1="444.40" y1="555.60" x2="444.40" y2="558.20" stroke="#333" stroke-width="1" /><text x="448.60" y="563.20" font-size="8.6" transform="rotate(-45 448.60 563.20)" text-anchor="end" fill="#4d4d4d">UC</text><line x1="486.30" y1="555.60" x2="486.30" y2="558.20" stroke="#333" stroke-width="1" /><text x="490.50" y="563.20" font-size="8.6" transform="rotate(-45 490.50 563.20)" text-anchor="end" fill="#4d4d4d">SqD</text><path d="M444.40 377.20V372.60H486.30V377.20" stroke="#222" stroke-width="1" fill="none"/><text x="465.35" y="370.60" font-size="8.2" text-anchor="middle" fill="#333">0.019</text><text x="461.00" y="352.20" font-size="10.4" text-anchor="middle" fill="#222" font-style="italic">APOBEC3A</text><text x="399.00" y="458.60" font-size="11.2" transform="rotate(-90 399.00 458.60)" text-anchor="middle" fill="#222">Log2(normalized reads+1)</text><line x1="570.40" y1="380.24" x2="570.40" y2="434.77" stroke="#3a3a3a" stroke-width="2.0" /><line x1="570.40" y1="475.09" x2="570.40" y2="490.96" stroke="#3a3a3a" stroke-width="2.0" /><rect x="554.20" y="434.77" width="31.90" height="40.32" fill="none" stroke="#3a3a3a" stroke-width="2.0" /><line x1="554.20" y1="450.31" x2="586.10" y2="450.31" stroke="#3a3a3a" stroke-width="3.4" /><line x1="612.30" y1="380.24" x2="612.30" y2="417.59" stroke="#3a3a3a" stroke-width="2.0" /><line x1="612.30" y1="451.30" x2="612.30" y2="471.13" stroke="#3a3a3a" stroke-width="2.0" /><rect x="596.10" y="417.59" width="31.90" height="33.71" fill="none" stroke="#3a3a3a" stroke-width="2.0" /><line x1="596.10" y1="436.43" x2="628.00" y2="436.43" stroke="#3a3a3a" stroke-width="3.4" /><line x1="570.40" y1="380.24" x2="612.30" y2="380.24" stroke="#000" stroke-width="1.25" /><line x1="570.40" y1="424.86" x2="612.30" y2="449.65" stroke="#000" stroke-width="1.25" /><line x1="570.40" y1="426.51" x2="612.30" y2="457.91" stroke="#000" stroke-width="1.25" /><line x1="570.40" y1="439.07" x2="612.30" y2="405.03" stroke="#000" stroke-width="1.25" /><line x1="570.40" y1="447.99" x2="612.30" y2="421.55" stroke="#000" stroke-width="1.25" /><line x1="570.40" y1="451.30" x2="612.30" y2="436.43" stroke="#000" stroke-width="1.25" /><line x1="570.40" y1="452.95" x2="612.30" y2="459.56" stroke="#000" stroke-width="1.25" /><line x1="570.40" y1="465.51" x2="612.30" y2="434.77" stroke="#000" stroke-width="1.25" /><line x1="570.40" y1="473.44" x2="612.30" y2="438.08" stroke="#000" stroke-width="1.25" /><line x1="570.40" y1="481.04" x2="612.30" y2="436.43" stroke="#000" stroke-width="1.25" /><line x1="570.40" y1="490.96" x2="612.30" y2="439.73" stroke="#000" stroke-width="1.25" /><line x1="570.40" y1="547.14" x2="612.30" y2="471.13" stroke="#000" stroke-width="1.25" /><circle cx="570.40" cy="380.24" r="2.3" fill="#f07e76" fill-opacity="0.85"/><circle cx="612.30" cy="380.24" r="2.3" fill="#22bcc6" fill-opacity="0.85"/><circle cx="570.40" cy="424.86" r="2.3" fill="#f07e76" fill-opacity="0.85"/><circle cx="612.30" cy="449.65" r="2.3" fill="#22bcc6" fill-opacity="0.85"/><circle cx="570.40" cy="426.51" r="2.3" fill="#f07e76" fill-opacity="0.85"/><circle cx="612.30" cy="457.91" r="2.3" fill="#22bcc6" fill-opacity="0.85"/><circle cx="570.40" cy="439.07" r="2.3" fill="#f07e76" fill-opacity="0.85"/><circle cx="612.30" cy="405.03" r="2.3" fill="#22bcc6" fill-opacity="0.85"/><circle cx="570.40" cy="447.99" r="2.3" fill="#f07e76" fill-opacity="0.85"/><circle cx="612.30" cy="421.55" r="2.3" fill="#22bcc6" fill-opacity="0.85"/><circle cx="570.40" cy="451.30" r="2.3" fill="#f07e76" fill-opacity="0.85"/><circle cx="612.30" cy="436.43" r="2.3" fill="#22bcc6" fill-opacity="0.85"/><circle cx="570.40" cy="452.95" r="2.3" fill="#f07e76" fill-opacity="0.85"/><circle cx="612.30" cy="459.56" r="2.3" fill="#22bcc6" fill-opacity="0.85"/><circle cx="570.40" cy="465.51" r="2.3" fill="#f07e76" fill-opacity="0.85"/><circle cx="612.30" cy="434.77" r="2.3" fill="#22bcc6" fill-opacity="0.85"/><circle cx="570.40" cy="473.44" r="2.3" fill="#f07e76" fill-opacity="0.85"/><circle cx="612.30" cy="438.08" r="2.3" fill="#22bcc6" fill-opacity="0.85"/><circle cx="570.40" cy="481.04" r="2.3" fill="#f07e76" fill-opacity="0.85"/><circle cx="612.30" cy="436.43" r="2.3" fill="#22bcc6" fill-opacity="0.85"/><circle cx="570.40" cy="490.96" r="2.3" fill="#f07e76" fill-opacity="0.85"/><circle cx="612.30" cy="439.73" r="2.3" fill="#22bcc6" fill-opacity="0.85"/><circle cx="570.40" cy="547.14" r="2.3" fill="#f07e76" fill-opacity="0.85"/><circle cx="612.30" cy="471.13" r="2.3" fill="#22bcc6" fill-opacity="0.85"/><line x1="545.50" y1="364.00" x2="545.50" y2="555.10" stroke="#000" stroke-width="1.5" /><line x1="544.75" y1="555.10" x2="636.80" y2="555.10" stroke="#000" stroke-width="1.5" /><line x1="542.60" y1="552.10" x2="545.50" y2="552.10" stroke="#333" stroke-width="1" /><text x="541.70" y="555.20" font-size="8.8" text-anchor="end" fill="#4d4d4d">4</text><line x1="542.60" y1="486.00" x2="545.50" y2="486.00" stroke="#333" stroke-width="1" /><text x="541.70" y="489.10" font-size="8.8" text-anchor="end" fill="#4d4d4d">6</text><line x1="542.60" y1="419.90" x2="545.50" y2="419.90" stroke="#333" stroke-width="1" /><text x="541.70" y="423.00" font-size="8.8" text-anchor="end" fill="#4d4d4d">8</text><line x1="570.40" y1="555.10" x2="570.40" y2="557.70" stroke="#333" stroke-width="1" /><text x="574.60" y="562.70" font-size="8.6" transform="rotate(-45 574.60 562.70)" text-anchor="end" fill="#4d4d4d">UC</text><line x1="612.30" y1="555.10" x2="612.30" y2="557.70" stroke="#333" stroke-width="1" /><text x="616.50" y="562.70" font-size="8.6" transform="rotate(-45 616.50 562.70)" text-anchor="end" fill="#4d4d4d">SqD</text><path d="M570.40 377.20V372.60H612.30V377.20" stroke="#222" stroke-width="1" fill="none"/><text x="591.35" y="370.60" font-size="8.2" text-anchor="middle" fill="#333">0.13</text><text x="581.00" y="352.20" font-size="10.4" text-anchor="middle" fill="#222" font-style="italic">APOBEC3B</text><text x="525.00" y="458.60" font-size="11.2" transform="rotate(-90 525.00 458.60)" text-anchor="middle" fill="#222">Log2(normalized reads+1)</text><text x="19.20" y="631.90" font-size="19">E</text><line x1="59.30" y1="781.10" x2="162.00" y2="781.10" stroke="#e3e3e3" stroke-width="0.9" /><line x1="59.30" y1="754.20" x2="162.00" y2="754.20" stroke="#e3e3e3" stroke-width="0.9" /><line x1="59.30" y1="727.30" x2="162.00" y2="727.30" stroke="#e3e3e3" stroke-width="0.9" /><line x1="59.30" y1="700.40" x2="162.00" y2="700.40" stroke="#e3e3e3" stroke-width="0.9" /><line x1="59.30" y1="673.50" x2="162.00" y2="673.50" stroke="#e3e3e3" stroke-width="0.9" /><line x1="59.30" y1="646.60" x2="162.00" y2="646.60" stroke="#e3e3e3" stroke-width="0.9" /><line x1="86.90" y1="649.83" x2="86.90" y2="759.58" stroke="#333" stroke-width="1.3" /><rect x="69.30" y="689.10" width="35.20" height="33.89" fill="#a38fc1" stroke="#333" stroke-width="1.3" /><line x1="69.30" y1="706.86" x2="104.50" y2="706.86" stroke="#333" stroke-width="2.4" /><line x1="134.00" y1="662.74" x2="134.00" y2="774.64" stroke="#333" stroke-width="1.3" /><rect x="116.50" y="704.70" width="35.00" height="29.05" fill="#f4eea8" stroke="#333" stroke-width="1.3" /><line x1="116.50" y1="719.77" x2="151.50" y2="719.77" stroke="#333" stroke-width="2.4" /><g fill="#1a1a1a" fill-opacity="0.72" stroke="#000" stroke-opacity="0.5" stroke-width="0.3"><circle cx="95.06" cy="712.11" r="1.95"/><circle cx="80.41" cy="693.12" r="1.95"/><circle cx="85.51" cy="711.38" r="1.95"/><circle cx="91.27" cy="713.58" r="1.95"/><circle cx="80.98" cy="728.80" r="1.95"/><circle cx="86.71" cy="711.06" r="1.95"/><circle cx="79.07" cy="678.26" r="1.95"/><circle cx="89.76" cy="695.28" r="1.95"/><circle cx="91.40" cy="680.12" r="1.95"/><circle cx="88.14" cy="699.62" r="1.95"/><circle cx="93.28" cy="696.01" r="1.95"/><circle cx="83.73" cy="701.19" r="1.95"/><circle cx="90.22" cy="747.01" r="1.95"/><circle cx="88.50" cy="684.61" r="1.95"/><circle cx="88.26" cy="693.25" r="1.95"/><circle cx="86.16" cy="693.44" r="1.95"/><circle cx="92.68" cy="747.64" r="1.95"/><circle cx="94.46" cy="748.94" r="1.95"/><circle cx="86.46" cy="727.80" r="1.95"/><circle cx="89.69" cy="717.37" r="1.95"/><circle cx="79.43" cy="698.22" r="1.95"/><circle cx="90.33" cy="706.92" r="1.95"/><circle cx="89.40" cy="692.89" r="1.95"/><circle cx="95.28" cy="721.67" r="1.95"/><circle cx="92.37" cy="698.14" r="1.95"/><circle cx="83.24" cy="696.03" r="1.95"/><circle cx="84.96" cy="722.14" r="1.95"/><circle cx="89.77" cy="663.27" r="1.95"/><circle cx="78.78" cy="692.01" r="1.95"/><circle cx="86.25" cy="676.16" r="1.95"/><circle cx="81.26" cy="721.13" r="1.95"/><circle cx="80.39" cy="724.08" r="1.95"/><circle cx="79.40" cy="714.29" r="1.95"/><circle cx="91.46" cy="708.41" r="1.95"/><circle cx="80.60" cy="690.14" r="1.95"/><circle cx="82.61" cy="699.63" r="1.95"/><circle cx="85.05" cy="716.85" r="1.95"/><circle cx="93.21" cy="729.46" r="1.95"/><circle cx="79.77" cy="718.66" r="1.95"/><circle cx="86.04" cy="675.56" r="1.95"/><circle cx="87.74" cy="725.78" r="1.95"/><circle cx="93.42" cy="699.72" r="1.95"/><circle cx="92.33" cy="695.22" r="1.95"/><circle cx="93.09" cy="742.65" r="1.95"/><circle cx="83.13" cy="704.58" r="1.95"/><circle cx="85.46" cy="673.45" r="1.95"/><circle cx="84.50" cy="755.63" r="1.95"/><circle cx="93.43" cy="713.74" r="1.95"/><circle cx="94.68" cy="708.41" r="1.95"/><circle cx="80.97" cy="726.01" r="1.95"/></g><g fill="#1a1a1a" fill-opacity="0.72" stroke="#000" stroke-opacity="0.5" stroke-width="0.3"><circle cx="134.17" cy="711.88" r="1.95"/><circle cx="141.43" cy="705.06" r="1.95"/><circle cx="137.90" cy="716.17" r="1.95"/><circle cx="128.84" cy="694.65" r="1.95"/><circle cx="141.64" cy="732.57" r="1.95"/><circle cx="133.73" cy="727.39" r="1.95"/><circle cx="124.88" cy="696.84" r="1.95"/><circle cx="124.47" cy="718.13" r="1.95"/><circle cx="133.84" cy="737.17" r="1.95"/><circle cx="133.05" cy="698.83" r="1.95"/><circle cx="130.20" cy="687.94" r="1.95"/><circle cx="127.10" cy="728.03" r="1.95"/><circle cx="131.00" cy="747.65" r="1.95"/><circle cx="130.47" cy="721.52" r="1.95"/><circle cx="140.53" cy="721.82" r="1.95"/><circle cx="124.43" cy="724.94" r="1.95"/><circle cx="138.81" cy="689.22" r="1.95"/><circle cx="140.51" cy="740.24" r="1.95"/><circle cx="126.70" cy="692.24" r="1.95"/><circle cx="142.19" cy="745.30" r="1.95"/><circle cx="138.09" cy="735.21" r="1.95"/><circle cx="141.71" cy="705.44" r="1.95"/><circle cx="129.96" cy="695.01" r="1.95"/><circle cx="131.55" cy="700.67" r="1.95"/><circle cx="131.94" cy="711.45" r="1.95"/><circle cx="143.58" cy="715.71" r="1.95"/><circle cx="135.71" cy="715.49" r="1.95"/><circle cx="131.33" cy="706.62" r="1.95"/><circle cx="132.62" cy="722.39" r="1.95"/><circle cx="129.68" cy="712.87" r="1.95"/><circle cx="125.33" cy="706.68" r="1.95"/><circle cx="126.35" cy="718.67" r="1.95"/><circle cx="140.43" cy="702.66" r="1.95"/><circle cx="129.88" cy="706.82" r="1.95"/><circle cx="142.36" cy="676.50" r="1.95"/><circle cx="129.19" cy="711.87" r="1.95"/><circle cx="129.50" cy="727.66" r="1.95"/><circle cx="134.21" cy="726.51" r="1.95"/><circle cx="128.05" cy="718.97" r="1.95"/><circle cx="131.57" cy="699.31" r="1.95"/><circle cx="142.76" cy="725.75" r="1.95"/><circle cx="141.38" cy="710.60" r="1.95"/><circle cx="139.99" cy="680.14" r="1.95"/><circle cx="136.51" cy="772.50" r="1.95"/><circle cx="141.94" cy="742.27" r="1.95"/><circle cx="142.46" cy="713.57" r="1.95"/><circle cx="134.95" cy="710.33" r="1.95"/><circle cx="138.22" cy="713.69" r="1.95"/><circle cx="125.35" cy="727.74" r="1.95"/><circle cx="138.46" cy="704.95" r="1.95"/><circle cx="133.06" cy="712.77" r="1.95"/><circle cx="138.85" cy="729.65" r="1.95"/><circle cx="136.77" cy="667.70" r="1.95"/><circle cx="129.90" cy="711.24" r="1.95"/><circle cx="125.34" cy="730.32" r="1.95"/><circle cx="142.19" cy="720.78" r="1.95"/><circle cx="126.84" cy="723.43" r="1.95"/><circle cx="133.47" cy="720.01" r="1.95"/><circle cx="131.00" cy="695.82" r="1.95"/><circle cx="130.12" cy="728.91" r="1.95"/><circle cx="138.59" cy="724.11" r="1.95"/><circle cx="143.14" cy="734.09" r="1.95"/><circle cx="129.40" cy="727.18" r="1.95"/><circle cx="137.00" cy="709.27" r="1.95"/><circle cx="130.18" cy="715.14" r="1.95"/><circle cx="135.10" cy="744.32" r="1.95"/><circle cx="131.97" cy="715.29" r="1.95"/><circle cx="127.61" cy="737.15" r="1.95"/><circle cx="127.50" cy="712.23" r="1.95"/><circle cx="128.39" cy="680.91" r="1.95"/><circle cx="141.79" cy="677.82" r="1.95"/><circle cx="133.94" cy="722.58" r="1.95"/><circle cx="128.62" cy="705.32" r="1.95"/><circle cx="141.80" cy="755.06" r="1.95"/><circle cx="143.53" cy="719.65" r="1.95"/><circle cx="133.04" cy="733.71" r="1.95"/><circle cx="127.08" cy="738.24" r="1.95"/><circle cx="128.09" cy="720.87" r="1.95"/><circle cx="126.14" cy="713.78" r="1.95"/><circle cx="130.97" cy="717.79" r="1.95"/><circle cx="126.15" cy="721.68" r="1.95"/><circle cx="128.99" cy="702.72" r="1.95"/><circle cx="129.36" cy="737.26" r="1.95"/><circle cx="135.34" cy="767.84" r="1.95"/><circle cx="141.44" cy="765.35" r="1.95"/><circle cx="138.79" cy="702.63" r="1.95"/><circle cx="132.33" cy="666.59" r="1.95"/><circle cx="132.35" cy="722.62" r="1.95"/><circle cx="134.46" cy="728.46" r="1.95"/><circle cx="131.64" cy="707.56" r="1.95"/><circle cx="130.89" cy="716.68" r="1.95"/><circle cx="125.59" cy="704.95" r="1.95"/><circle cx="129.73" cy="710.39" r="1.95"/><circle cx="142.98" cy="690.54" r="1.95"/><circle cx="126.82" cy="686.12" r="1.95"/><circle cx="134.07" cy="742.26" r="1.95"/><circle cx="136.49" cy="748.97" r="1.95"/><circle cx="140.97" cy="714.77" r="1.95"/><circle cx="128.55" cy="715.98" r="1.95"/><circle cx="129.60" cy="727.10" r="1.95"/><circle cx="129.17" cy="743.21" r="1.95"/><circle cx="132.08" cy="757.64" r="1.95"/><circle cx="132.96" cy="711.65" r="1.95"/><circle cx="142.72" cy="752.92" r="1.95"/><circle cx="140.69" cy="731.73" r="1.95"/><circle cx="141.16" cy="716.88" r="1.95"/><circle cx="124.82" cy="714.10" r="1.95"/><circle cx="125.02" cy="736.99" r="1.95"/><circle cx="138.02" cy="701.11" r="1.95"/><circle cx="141.60" cy="771.87" r="1.95"/><circle cx="133.49" cy="735.56" r="1.95"/><circle cx="135.67" cy="705.75" r="1.95"/><circle cx="124.40" cy="686.85" r="1.95"/><circle cx="131.92" cy="729.75" r="1.95"/><circle cx="142.20" cy="713.42" r="1.95"/><circle cx="140.25" cy="709.11" r="1.95"/><circle cx="140.82" cy="692.21" r="1.95"/><circle cx="143.07" cy="681.68" r="1.95"/><circle cx="129.17" cy="714.59" r="1.95"/><circle cx="126.49" cy="729.75" r="1.95"/><circle cx="127.36" cy="691.50" r="1.95"/><circle cx="134.43" cy="770.83" r="1.95"/><circle cx="137.50" cy="729.42" r="1.95"/><circle cx="142.48" cy="734.97" r="1.95"/><circle cx="138.26" cy="729.29" r="1.95"/><circle cx="136.83" cy="722.04" r="1.95"/><circle cx="139.08" cy="663.11" r="1.95"/><circle cx="133.18" cy="713.70" r="1.95"/><circle cx="134.99" cy="733.82" r="1.95"/><circle cx="125.16" cy="739.42" r="1.95"/><circle cx="139.42" cy="698.23" r="1.95"/><circle cx="128.87" cy="727.76" r="1.95"/><circle cx="142.06" cy="691.51" r="1.95"/><circle cx="136.79" cy="747.01" r="1.95"/><circle cx="130.23" cy="714.82" r="1.95"/><circle cx="126.86" cy="703.19" r="1.95"/><circle cx="129.23" cy="722.84" r="1.95"/><circle cx="136.62" cy="703.69" r="1.95"/><circle cx="137.81" cy="732.61" r="1.95"/><circle cx="126.55" cy="727.09" r="1.95"/><circle cx="125.75" cy="728.41" r="1.95"/><circle cx="134.47" cy="713.27" r="1.95"/><circle cx="135.59" cy="702.14" r="1.95"/><circle cx="131.85" cy="729.20" r="1.95"/><circle cx="128.69" cy="745.50" r="1.95"/><circle cx="135.94" cy="711.48" r="1.95"/><circle cx="124.60" cy="700.62" r="1.95"/><circle cx="130.19" cy="731.09" r="1.95"/><circle cx="133.25" cy="697.16" r="1.95"/><circle cx="142.81" cy="730.93" r="1.95"/><circle cx="136.78" cy="743.73" r="1.95"/><circle cx="141.37" cy="723.77" r="1.95"/><circle cx="133.53" cy="696.25" r="1.95"/><circle cx="128.91" cy="716.04" r="1.95"/><circle cx="129.14" cy="717.93" r="1.95"/><circle cx="142.84" cy="716.99" r="1.95"/><circle cx="137.93" cy="714.77" r="1.95"/><circle cx="130.30" cy="730.99" r="1.95"/><circle cx="124.82" cy="751.95" r="1.95"/><circle cx="133.97" cy="713.10" r="1.95"/><circle cx="137.35" cy="736.17" r="1.95"/><circle cx="132.46" cy="725.17" r="1.95"/><circle cx="129.34" cy="745.23" r="1.95"/><circle cx="137.21" cy="721.77" r="1.95"/><circle cx="142.16" cy="716.57" r="1.95"/><circle cx="128.75" cy="728.40" r="1.95"/><circle cx="125.05" cy="733.43" r="1.95"/><circle cx="130.89" cy="724.56" r="1.95"/><circle cx="132.47" cy="724.77" r="1.95"/><circle cx="137.51" cy="683.11" r="1.95"/><circle cx="128.20" cy="745.61" r="1.95"/><circle cx="139.70" cy="720.00" r="1.95"/><circle cx="138.59" cy="715.79" r="1.95"/><circle cx="134.09" cy="764.91" r="1.95"/><circle cx="128.34" cy="745.77" r="1.95"/><circle cx="143.02" cy="708.61" r="1.95"/><circle cx="130.38" cy="743.82" r="1.95"/><circle cx="140.14" cy="719.57" r="1.95"/><circle cx="128.83" cy="726.80" r="1.95"/><circle cx="128.65" cy="740.24" r="1.95"/><circle cx="139.00" cy="742.10" r="1.95"/><circle cx="130.06" cy="723.66" r="1.95"/><circle cx="142.68" cy="688.34" r="1.95"/><circle cx="133.92" cy="730.38" r="1.95"/><circle cx="128.00" cy="682.93" r="1.95"/><circle cx="128.69" cy="753.77" r="1.95"/><circle cx="132.41" cy="720.31" r="1.95"/><circle cx="137.17" cy="691.87" r="1.95"/><circle cx="142.62" cy="681.05" r="1.95"/><circle cx="127.21" cy="732.71" r="1.95"/><circle cx="131.95" cy="711.73" r="1.95"/><circle cx="128.49" cy="710.58" r="1.95"/><circle cx="143.10" cy="726.30" r="1.95"/><circle cx="127.12" cy="715.80" r="1.95"/><circle cx="125.40" cy="718.21" r="1.95"/><circle cx="125.55" cy="710.53" r="1.95"/><circle cx="131.95" cy="736.49" r="1.95"/><circle cx="141.64" cy="750.82" r="1.95"/><circle cx="141.36" cy="708.99" r="1.95"/><circle cx="138.47" cy="726.02" r="1.95"/><circle cx="143.55" cy="725.21" r="1.95"/><circle cx="142.29" cy="748.83" r="1.95"/><circle cx="130.72" cy="691.63" r="1.95"/><circle cx="127.96" cy="684.70" r="1.95"/><circle cx="142.37" cy="704.22" r="1.95"/><circle cx="138.73" cy="721.68" r="1.95"/><circle cx="125.01" cy="698.48" r="1.95"/><circle cx="137.16" cy="724.91" r="1.95"/><circle cx="131.67" cy="697.77" r="1.95"/><circle cx="131.58" cy="713.61" r="1.95"/><circle cx="130.77" cy="706.92" r="1.95"/><circle cx="127.65" cy="699.75" r="1.95"/><circle cx="124.46" cy="737.70" r="1.95"/><circle cx="129.77" cy="720.56" r="1.95"/><circle cx="131.15" cy="712.55" r="1.95"/><circle cx="142.75" cy="701.37" r="1.95"/><circle cx="126.78" cy="719.42" r="1.95"/><circle cx="142.91" cy="722.79" r="1.95"/><circle cx="128.38" cy="740.01" r="1.95"/><circle cx="131.25" cy="726.22" r="1.95"/><circle cx="140.17" cy="699.98" r="1.95"/><circle cx="140.18" cy="716.56" r="1.95"/><circle cx="132.70" cy="736.59" r="1.95"/><circle cx="125.35" cy="736.35" r="1.95"/><circle cx="133.49" cy="662.74" r="1.95"/><circle cx="131.56" cy="694.77" r="1.95"/><circle cx="142.05" cy="705.32" r="1.95"/><circle cx="128.11" cy="773.10" r="1.95"/><circle cx="131.39" cy="705.65" r="1.95"/><circle cx="141.62" cy="708.61" r="1.95"/><circle cx="124.98" cy="683.36" r="1.95"/><circle cx="132.29" cy="709.72" r="1.95"/><circle cx="139.99" cy="720.11" r="1.95"/><circle cx="139.12" cy="707.73" r="1.95"/><circle cx="125.18" cy="759.49" r="1.95"/><circle cx="125.07" cy="697.01" r="1.95"/><circle cx="125.60" cy="711.88" r="1.95"/><circle cx="142.07" cy="733.42" r="1.95"/><circle cx="129.33" cy="690.88" r="1.95"/><circle cx="138.75" cy="680.73" r="1.95"/><circle cx="141.65" cy="748.12" r="1.95"/><circle cx="130.91" cy="732.67" r="1.95"/><circle cx="129.63" cy="712.58" r="1.95"/><circle cx="142.79" cy="714.84" r="1.95"/><circle cx="136.25" cy="727.05" r="1.95"/><circle cx="129.43" cy="739.13" r="1.95"/><circle cx="138.16" cy="674.20" r="1.95"/><circle cx="130.48" cy="696.93" r="1.95"/><circle cx="129.69" cy="743.75" r="1.95"/><circle cx="124.47" cy="746.91" r="1.95"/><circle cx="138.91" cy="682.96" r="1.95"/><circle cx="142.00" cy="697.94" r="1.95"/><circle cx="136.57" cy="680.48" r="1.95"/><circle cx="142.51" cy="701.69" r="1.95"/><circle cx="124.87" cy="736.99" r="1.95"/><circle cx="128.89" cy="713.22" r="1.95"/><circle cx="133.52" cy="764.01" r="1.95"/><circle cx="142.77" cy="734.39" r="1.95"/><circle cx="142.72" cy="719.93" r="1.95"/><circle cx="131.82" cy="707.72" r="1.95"/><circle cx="129.22" cy="733.96" r="1.95"/><circle cx="132.65" cy="721.30" r="1.95"/><circle cx="133.87" cy="709.07" r="1.95"/><circle cx="142.22" cy="710.79" r="1.95"/><circle cx="127.91" cy="705.31" r="1.95"/><circle cx="139.81" cy="714.31" r="1.95"/><circle cx="138.58" cy="725.49" r="1.95"/><circle cx="140.20" cy="702.13" r="1.95"/><circle cx="139.24" cy="717.66" r="1.95"/><circle cx="136.06" cy="736.03" r="1.95"/><circle cx="130.69" cy="731.83" r="1.95"/><circle cx="130.54" cy="718.70" r="1.95"/><circle cx="131.35" cy="720.99" r="1.95"/><circle cx="139.42" cy="715.40" r="1.95"/><circle cx="125.92" cy="718.70" r="1.95"/><circle cx="128.19" cy="715.00" r="1.95"/><circle cx="138.86" cy="721.51" r="1.95"/><circle cx="129.15" cy="745.10" r="1.95"/><circle cx="125.64" cy="709.85" r="1.95"/><circle cx="125.05" cy="696.58" r="1.95"/><circle cx="135.01" cy="709.57" r="1.95"/><circle cx="130.65" cy="722.66" r="1.95"/><circle cx="143.22" cy="709.32" r="1.95"/><circle cx="141.36" cy="738.95" r="1.95"/><circle cx="143.37" cy="758.48" r="1.95"/><circle cx="129.49" cy="717.44" r="1.95"/><circle cx="126.01" cy="738.22" r="1.95"/><circle cx="126.25" cy="703.17" r="1.95"/><circle cx="133.97" cy="741.44" r="1.95"/><circle cx="138.03" cy="773.84" r="1.95"/><circle cx="132.98" cy="740.50" r="1.95"/><circle cx="128.90" cy="685.58" r="1.95"/><circle cx="132.40" cy="726.70" r="1.95"/><circle cx="136.31" cy="747.43" r="1.95"/><circle cx="137.34" cy="734.71" r="1.95"/><circle cx="138.76" cy="707.76" r="1.95"/><circle cx="140.66" cy="708.27" r="1.95"/><circle cx="137.16" cy="714.98" r="1.95"/><circle cx="126.73" cy="687.56" r="1.95"/><circle cx="140.54" cy="703.87" r="1.95"/><circle cx="130.04" cy="719.13" r="1.95"/><circle cx="135.28" cy="706.17" r="1.95"/><circle cx="131.56" cy="683.98" r="1.95"/><circle cx="138.57" cy="698.31" r="1.95"/><circle cx="128.22" cy="697.21" r="1.95"/><circle cx="129.15" cy="741.41" r="1.95"/><circle cx="129.11" cy="721.81" r="1.95"/><circle cx="127.34" cy="703.38" r="1.95"/><circle cx="141.38" cy="724.91" r="1.95"/><circle cx="135.50" cy="696.27" r="1.95"/><circle cx="130.67" cy="706.18" r="1.95"/><circle cx="132.00" cy="699.64" r="1.95"/><circle cx="143.46" cy="723.15" r="1.95"/><circle cx="134.14" cy="665.26" r="1.95"/><circle cx="128.84" cy="692.67" r="1.95"/><circle cx="139.92" cy="723.21" r="1.95"/><circle cx="136.94" cy="716.79" r="1.95"/><circle cx="143.43" cy="664.24" r="1.95"/><circle cx="126.36" cy="725.89" r="1.95"/><circle cx="133.52" cy="700.35" r="1.95"/><circle cx="140.13" cy="698.12" r="1.95"/><circle cx="140.54" cy="718.55" r="1.95"/><circle cx="141.96" cy="743.18" r="1.95"/><circle cx="125.17" cy="714.76" r="1.95"/><circle cx="130.04" cy="711.15" r="1.95"/><circle cx="126.69" cy="694.99" r="1.95"/><circle cx="128.04" cy="702.27" r="1.95"/><circle cx="143.08" cy="718.18" r="1.95"/><circle cx="135.60" cy="700.78" r="1.95"/><circle cx="142.26" cy="707.37" r="1.95"/><circle cx="131.55" cy="714.37" r="1.95"/><circle cx="141.03" cy="717.53" r="1.95"/><circle cx="133.02" cy="723.80" r="1.95"/><circle cx="129.39" cy="704.29" r="1.95"/><circle cx="139.33" cy="740.81" r="1.95"/><circle cx="142.56" cy="731.88" r="1.95"/><circle cx="126.43" cy="718.59" r="1.95"/><circle cx="135.85" cy="749.41" r="1.95"/><circle cx="136.30" cy="727.84" r="1.95"/><circle cx="128.58" cy="760.84" r="1.95"/><circle cx="131.48" cy="733.02" r="1.95"/><circle cx="127.11" cy="706.77" r="1.95"/><circle cx="128.32" cy="706.81" r="1.95"/><circle cx="129.29" cy="719.84" r="1.95"/><circle cx="135.91" cy="723.56" r="1.95"/><circle cx="136.91" cy="748.42" r="1.95"/><circle cx="128.31" cy="680.34" r="1.95"/><circle cx="124.62" cy="707.87" r="1.95"/><circle cx="130.68" cy="695.75" r="1.95"/><circle cx="137.42" cy="737.20" r="1.95"/><circle cx="127.95" cy="722.58" r="1.95"/><circle cx="130.39" cy="756.87" r="1.95"/><circle cx="128.31" cy="702.32" r="1.95"/><circle cx="139.67" cy="699.07" r="1.95"/><circle cx="134.92" cy="758.50" r="1.95"/><circle cx="125.61" cy="719.79" r="1.95"/><circle cx="126.35" cy="705.47" r="1.95"/><circle cx="131.99" cy="755.66" r="1.95"/><circle cx="134.96" cy="756.99" r="1.95"/><circle cx="136.67" cy="741.04" r="1.95"/><circle cx="126.15" cy="731.89" r="1.95"/><circle cx="127.54" cy="748.13" r="1.95"/><circle cx="137.75" cy="718.03" r="1.95"/><circle cx="132.27" cy="713.45" r="1.95"/><circle cx="129.84" cy="705.39" r="1.95"/><circle cx="130.31" cy="703.96" r="1.95"/><circle cx="142.70" cy="687.16" r="1.95"/><circle cx="130.40" cy="694.26" r="1.95"/><circle cx="135.28" cy="746.22" r="1.95"/><circle cx="131.26" cy="729.30" r="1.95"/><circle cx="132.40" cy="740.94" r="1.95"/><circle cx="140.99" cy="741.28" r="1.95"/><circle cx="143.54" cy="720.40" r="1.95"/><circle cx="131.38" cy="718.58" r="1.95"/><circle cx="128.19" cy="708.40" r="1.95"/><circle cx="138.38" cy="751.99" r="1.95"/><circle cx="128.31" cy="744.66" r="1.95"/><circle cx="124.51" cy="719.18" r="1.95"/><circle cx="141.71" cy="722.88" r="1.95"/><circle cx="132.54" cy="725.22" r="1.95"/><circle cx="140.15" cy="720.02" r="1.95"/><circle cx="132.20" cy="734.63" r="1.95"/><circle cx="141.35" cy="703.98" r="1.95"/><circle cx="133.25" cy="711.26" r="1.95"/><circle cx="127.52" cy="720.53" r="1.95"/><circle cx="124.68" cy="732.79" r="1.95"/><circle cx="134.99" cy="722.35" r="1.95"/><circle cx="136.70" cy="719.07" r="1.95"/><circle cx="141.87" cy="736.42" r="1.95"/><circle cx="126.11" cy="702.57" r="1.95"/><circle cx="136.35" cy="733.18" r="1.95"/><circle cx="131.52" cy="751.44" r="1.95"/><circle cx="134.09" cy="741.03" r="1.95"/><circle cx="127.20" cy="738.88" r="1.95"/><circle cx="129.84" cy="708.22" r="1.95"/><circle cx="134.41" cy="713.15" r="1.95"/><circle cx="142.17" cy="719.55" r="1.95"/><circle cx="126.49" cy="684.10" r="1.95"/><circle cx="133.82" cy="727.80" r="1.95"/><circle cx="139.85" cy="693.09" r="1.95"/><circle cx="142.96" cy="711.29" r="1.95"/><circle cx="128.19" cy="718.11" r="1.95"/><circle cx="126.83" cy="722.38" r="1.95"/><circle cx="142.51" cy="687.58" r="1.95"/><circle cx="143.13" cy="729.88" r="1.95"/><circle cx="133.67" cy="748.13" r="1.95"/><circle cx="125.42" cy="725.11" r="1.95"/><circle cx="142.18" cy="694.22" r="1.95"/><circle cx="131.85" cy="741.63" r="1.95"/><circle cx="141.76" cy="713.51" r="1.95"/><circle cx="136.31" cy="686.03" r="1.95"/><circle cx="140.23" cy="688.59" r="1.95"/><circle cx="127.48" cy="700.50" r="1.95"/><circle cx="139.49" cy="663.60" r="1.95"/><circle cx="128.66" cy="715.06" r="1.95"/><circle cx="132.17" cy="720.23" r="1.95"/><circle cx="140.65" cy="756.26" r="1.95"/><circle cx="140.32" cy="708.79" r="1.95"/><circle cx="127.91" cy="696.23" r="1.95"/><circle cx="128.59" cy="723.25" r="1.95"/><circle cx="132.08" cy="720.38" r="1.95"/><circle cx="134.34" cy="704.39" r="1.95"/><circle cx="131.76" cy="705.09" r="1.95"/><circle cx="126.76" cy="723.53" r="1.95"/><circle cx="129.14" cy="728.81" r="1.95"/><circle cx="138.32" cy="724.37" r="1.95"/><circle cx="141.63" cy="769.94" r="1.95"/><circle cx="125.19" cy="726.50" r="1.95"/><circle cx="135.20" cy="692.55" r="1.95"/><circle cx="138.94" cy="689.92" r="1.95"/></g><rect x="59.30" y="634.00" width="102.70" height="153.30" fill="none" stroke="#333" stroke-width="1.0" /><line x1="57.10" y1="781.10" x2="59.30" y2="781.10" stroke="#333" stroke-width="0.8" /><text x="56.50" y="783.40" font-size="6.4" text-anchor="end" fill="#4d4d4d">0</text><line x1="57.10" y1="727.30" x2="59.30" y2="727.30" stroke="#333" stroke-width="0.8" /><text x="56.50" y="729.60" font-size="6.4" text-anchor="end" fill="#4d4d4d">5</text><line x1="57.10" y1="673.50" x2="59.30" y2="673.50" stroke="#333" stroke-width="0.8" /><text x="56.50" y="675.80" font-size="6.4" text-anchor="end" fill="#4d4d4d">10</text><line x1="86.90" y1="787.30" x2="86.90" y2="789.50" stroke="#333" stroke-width="0.8" /><text x="86.90" y="798.70" font-size="9.5" text-anchor="middle" fill="#222">Yes</text><line x1="134.00" y1="787.30" x2="134.00" y2="789.50" stroke="#333" stroke-width="0.8" /><text x="134.00" y="798.70" font-size="9.5" text-anchor="middle" fill="#222">No</text><text x="63.20" y="641.40" font-size="7.4" fill="#222">Wilcoxon, p = 0.00032</text><text x="104.35" y="626.00" font-size="9.6" text-anchor="middle" fill="#222" font-style="italic">APOBEC3A</text><text transform="translate(47.60 711.80) rotate(-90) scale(0.92 1)" font-size="8.2" text-anchor="middle" fill="#222">log2 APOBEC3A expression</text><line x1="187.50" y1="779.50" x2="290.40" y2="779.50" stroke="#e3e3e3" stroke-width="0.9" /><line x1="187.50" y1="752.60" x2="290.40" y2="752.60" stroke="#e3e3e3" stroke-width="0.9" /><line x1="187.50" y1="725.70" x2="290.40" y2="725.70" stroke="#e3e3e3" stroke-width="0.9" /><line x1="187.50" y1="698.80" x2="290.40" y2="698.80" stroke="#e3e3e3" stroke-width="0.9" /><line x1="187.50" y1="671.90" x2="290.40" y2="671.90" stroke="#e3e3e3" stroke-width="0.9" /><line x1="187.50" y1="645.00" x2="290.40" y2="645.00" stroke="#e3e3e3" stroke-width="0.9" /><line x1="215.40" y1="665.44" x2="215.40" y2="714.94" stroke="#333" stroke-width="1.3" /><rect x="197.80" y="683.20" width="35.20" height="16.14" fill="#a38fc1" stroke="#333" stroke-width="1.3" /><line x1="197.80" y1="690.73" x2="233.00" y2="690.73" stroke="#333" stroke-width="2.4" /><line x1="262.30" y1="648.23" x2="262.30" y2="726.78" stroke="#333" stroke-width="1.3" /><rect x="244.60" y="676.74" width="35.40" height="23.13" fill="#f4eea8" stroke="#333" stroke-width="1.3" /><line x1="244.60" y1="688.04" x2="280.00" y2="688.04" stroke="#333" stroke-width="2.4" /><g fill="#1a1a1a" fill-opacity="0.72" stroke="#000" stroke-opacity="0.5" stroke-width="0.3"><circle cx="218.63" cy="685.97" r="1.95"/><circle cx="218.84" cy="702.86" r="1.95"/><circle cx="223.05" cy="691.53" r="1.95"/><circle cx="221.24" cy="694.77" r="1.95"/><circle cx="215.46" cy="689.51" r="1.95"/><circle cx="210.26" cy="700.04" r="1.95"/><circle cx="209.45" cy="698.06" r="1.95"/><circle cx="215.89" cy="699.94" r="1.95"/><circle cx="215.57" cy="702.83" r="1.95"/><circle cx="208.11" cy="686.36" r="1.95"/><circle cx="222.25" cy="682.63" r="1.95"/><circle cx="215.53" cy="670.29" r="1.95"/><circle cx="218.82" cy="683.21" r="1.95"/><circle cx="210.64" cy="685.79" r="1.95"/><circle cx="211.05" cy="681.36" r="1.95"/><circle cx="207.10" cy="689.08" r="1.95"/><circle cx="212.73" cy="710.56" r="1.95"/><circle cx="211.44" cy="676.84" r="1.95"/><circle cx="214.10" cy="694.22" r="1.95"/><circle cx="213.31" cy="686.37" r="1.95"/><circle cx="221.08" cy="692.03" r="1.95"/><circle cx="222.05" cy="705.00" r="1.95"/><circle cx="209.88" cy="698.20" r="1.95"/><circle cx="213.64" cy="697.73" r="1.95"/><circle cx="209.73" cy="695.65" r="1.95"/><circle cx="218.17" cy="698.89" r="1.95"/><circle cx="223.47" cy="694.97" r="1.95"/><circle cx="210.33" cy="702.56" r="1.95"/><circle cx="219.93" cy="704.52" r="1.95"/><circle cx="212.00" cy="709.84" r="1.95"/><circle cx="207.12" cy="695.64" r="1.95"/><circle cx="219.89" cy="693.26" r="1.95"/><circle cx="212.71" cy="665.09" r="1.95"/><circle cx="209.79" cy="679.45" r="1.95"/><circle cx="214.31" cy="697.59" r="1.95"/><circle cx="210.84" cy="689.66" r="1.95"/><circle cx="213.87" cy="676.18" r="1.95"/><circle cx="214.48" cy="695.13" r="1.95"/><circle cx="214.01" cy="693.27" r="1.95"/><circle cx="216.90" cy="713.30" r="1.95"/><circle cx="211.81" cy="692.55" r="1.95"/><circle cx="208.52" cy="679.84" r="1.95"/><circle cx="208.35" cy="685.81" r="1.95"/><circle cx="208.71" cy="694.41" r="1.95"/><circle cx="215.76" cy="689.73" r="1.95"/><circle cx="213.02" cy="695.29" r="1.95"/><circle cx="220.63" cy="747.22" r="1.95"/></g><g fill="#1a1a1a" fill-opacity="0.72" stroke="#000" stroke-opacity="0.5" stroke-width="0.3"><circle cx="265.73" cy="715.66" r="1.95"/><circle cx="264.35" cy="687.85" r="1.95"/><circle cx="257.99" cy="680.42" r="1.95"/><circle cx="270.20" cy="687.79" r="1.95"/><circle cx="263.30" cy="676.96" r="1.95"/><circle cx="266.41" cy="685.89" r="1.95"/><circle cx="265.92" cy="705.01" r="1.95"/><circle cx="261.12" cy="671.32" r="1.95"/><circle cx="266.16" cy="687.63" r="1.95"/><circle cx="256.35" cy="703.97" r="1.95"/><circle cx="263.22" cy="685.59" r="1.95"/><circle cx="265.21" cy="687.27" r="1.95"/><circle cx="264.78" cy="680.52" r="1.95"/><circle cx="258.31" cy="697.75" r="1.95"/><circle cx="256.18" cy="683.60" r="1.95"/><circle cx="254.64" cy="690.32" r="1.95"/><circle cx="255.08" cy="656.83" r="1.95"/><circle cx="256.24" cy="693.67" r="1.95"/><circle cx="262.02" cy="662.91" r="1.95"/><circle cx="263.62" cy="688.41" r="1.95"/><circle cx="266.26" cy="665.75" r="1.95"/><circle cx="261.11" cy="643.45" r="1.95"/><circle cx="267.44" cy="694.09" r="1.95"/><circle cx="253.27" cy="684.22" r="1.95"/><circle cx="259.39" cy="703.88" r="1.95"/><circle cx="254.99" cy="700.15" r="1.95"/><circle cx="262.62" cy="697.41" r="1.95"/><circle cx="263.69" cy="685.19" r="1.95"/><circle cx="263.90" cy="669.59" r="1.95"/><circle cx="261.22" cy="670.23" r="1.95"/><circle cx="259.77" cy="696.06" r="1.95"/><circle cx="259.01" cy="684.18" r="1.95"/><circle cx="254.74" cy="714.28" r="1.95"/><circle cx="256.41" cy="676.05" r="1.95"/><circle cx="262.04" cy="691.41" r="1.95"/><circle cx="263.60" cy="707.13" r="1.95"/><circle cx="254.63" cy="700.55" r="1.95"/><circle cx="268.93" cy="676.25" r="1.95"/><circle cx="253.23" cy="685.10" r="1.95"/><circle cx="255.12" cy="674.97" r="1.95"/><circle cx="261.30" cy="695.22" r="1.95"/><circle cx="259.09" cy="684.06" r="1.95"/><circle cx="262.69" cy="691.43" r="1.95"/><circle cx="265.95" cy="715.33" r="1.95"/><circle cx="264.12" cy="689.95" r="1.95"/><circle cx="267.77" cy="689.49" r="1.95"/><circle cx="261.73" cy="699.76" r="1.95"/><circle cx="265.68" cy="672.29" r="1.95"/><circle cx="260.72" cy="647.03" r="1.95"/><circle cx="255.12" cy="660.43" r="1.95"/><circle cx="254.12" cy="686.20" r="1.95"/><circle cx="256.19" cy="708.57" r="1.95"/><circle cx="261.22" cy="690.37" r="1.95"/><circle cx="258.00" cy="698.72" r="1.95"/><circle cx="263.46" cy="684.08" r="1.95"/><circle cx="265.51" cy="664.81" r="1.95"/><circle cx="270.35" cy="687.97" r="1.95"/><circle cx="255.57" cy="713.35" r="1.95"/><circle cx="271.09" cy="661.78" r="1.95"/><circle cx="252.72" cy="685.91" r="1.95"/><circle cx="269.78" cy="661.61" r="1.95"/><circle cx="271.61" cy="703.31" r="1.95"/><circle cx="259.71" cy="702.13" r="1.95"/><circle cx="268.03" cy="709.71" r="1.95"/><circle cx="262.40" cy="693.59" r="1.95"/><circle cx="263.49" cy="664.91" r="1.95"/><circle cx="269.16" cy="669.59" r="1.95"/><circle cx="270.78" cy="689.51" r="1.95"/><circle cx="258.46" cy="653.69" r="1.95"/><circle cx="256.92" cy="699.79" r="1.95"/><circle cx="270.29" cy="712.45" r="1.95"/><circle cx="264.07" cy="689.58" r="1.95"/><circle cx="270.01" cy="656.13" r="1.95"/><circle cx="256.95" cy="695.49" r="1.95"/><circle cx="269.00" cy="697.01" r="1.95"/><circle cx="255.76" cy="653.05" r="1.95"/><circle cx="255.52" cy="681.09" r="1.95"/><circle cx="258.24" cy="670.39" r="1.95"/><circle cx="270.51" cy="652.71" r="1.95"/><circle cx="260.14" cy="696.08" r="1.95"/><circle cx="261.15" cy="692.72" r="1.95"/><circle cx="258.25" cy="672.94" r="1.95"/><circle cx="254.13" cy="713.64" r="1.95"/><circle cx="261.18" cy="709.90" r="1.95"/><circle cx="262.24" cy="704.16" r="1.95"/><circle cx="259.12" cy="726.26" r="1.95"/><circle cx="266.73" cy="691.63" r="1.95"/><circle cx="258.65" cy="720.57" r="1.95"/><circle cx="271.51" cy="700.68" r="1.95"/><circle cx="270.16" cy="697.59" r="1.95"/><circle cx="263.81" cy="706.03" r="1.95"/><circle cx="254.65" cy="677.63" r="1.95"/><circle cx="263.45" cy="721.30" r="1.95"/><circle cx="264.62" cy="693.28" r="1.95"/><circle cx="265.18" cy="687.78" r="1.95"/><circle cx="260.87" cy="680.11" r="1.95"/><circle cx="266.62" cy="688.50" r="1.95"/><circle cx="271.84" cy="701.42" r="1.95"/><circle cx="266.18" cy="694.95" r="1.95"/><circle cx="253.49" cy="682.55" r="1.95"/><circle cx="264.76" cy="679.97" r="1.95"/><circle cx="264.67" cy="699.82" r="1.95"/><circle cx="263.17" cy="695.51" r="1.95"/><circle cx="270.71" cy="655.05" r="1.95"/><circle cx="253.71" cy="701.70" r="1.95"/><circle cx="253.03" cy="687.36" r="1.95"/><circle cx="266.57" cy="672.57" r="1.95"/><circle cx="254.63" cy="699.12" r="1.95"/><circle cx="255.34" cy="717.52" r="1.95"/><circle cx="268.39" cy="650.66" r="1.95"/><circle cx="259.64" cy="679.39" r="1.95"/><circle cx="269.66" cy="716.35" r="1.95"/><circle cx="268.08" cy="686.94" r="1.95"/><circle cx="265.42" cy="653.45" r="1.95"/><circle cx="259.59" cy="715.24" r="1.95"/><circle cx="254.28" cy="706.60" r="1.95"/><circle cx="271.44" cy="708.48" r="1.95"/><circle cx="269.42" cy="663.45" r="1.95"/><circle cx="270.31" cy="682.08" r="1.95"/><circle cx="262.47" cy="704.42" r="1.95"/><circle cx="258.09" cy="704.91" r="1.95"/><circle cx="264.75" cy="713.27" r="1.95"/><circle cx="260.75" cy="645.84" r="1.95"/><circle cx="256.38" cy="688.75" r="1.95"/><circle cx="254.86" cy="684.72" r="1.95"/><circle cx="260.53" cy="696.63" r="1.95"/><circle cx="255.55" cy="708.36" r="1.95"/><circle cx="257.85" cy="704.73" r="1.95"/><circle cx="271.46" cy="669.55" r="1.95"/><circle cx="270.63" cy="676.36" r="1.95"/><circle cx="269.70" cy="660.00" r="1.95"/><circle cx="262.54" cy="716.14" r="1.95"/><circle cx="267.35" cy="679.77" r="1.95"/><circle cx="255.85" cy="690.61" r="1.95"/><circle cx="264.62" cy="715.59" r="1.95"/><circle cx="271.41" cy="709.78" r="1.95"/><circle cx="267.88" cy="696.18" r="1.95"/><circle cx="271.64" cy="700.12" r="1.95"/><circle cx="264.75" cy="647.08" r="1.95"/><circle cx="258.53" cy="677.07" r="1.95"/><circle cx="253.10" cy="670.11" r="1.95"/><circle cx="257.89" cy="707.59" r="1.95"/><circle cx="268.62" cy="709.88" r="1.95"/><circle cx="262.83" cy="661.38" r="1.95"/><circle cx="264.67" cy="675.33" r="1.95"/><circle cx="268.11" cy="713.94" r="1.95"/><circle cx="258.37" cy="699.96" r="1.95"/><circle cx="255.40" cy="696.37" r="1.95"/><circle cx="269.73" cy="691.93" r="1.95"/><circle cx="264.23" cy="670.49" r="1.95"/><circle cx="253.22" cy="697.25" r="1.95"/><circle cx="266.08" cy="667.33" r="1.95"/><circle cx="266.55" cy="664.91" r="1.95"/><circle cx="267.32" cy="667.76" r="1.95"/><circle cx="255.22" cy="693.20" r="1.95"/><circle cx="257.95" cy="678.16" r="1.95"/><circle cx="266.59" cy="687.52" r="1.95"/><circle cx="265.55" cy="668.81" r="1.95"/><circle cx="259.35" cy="715.97" r="1.95"/><circle cx="271.30" cy="673.59" r="1.95"/><circle cx="258.50" cy="676.45" r="1.95"/><circle cx="269.81" cy="679.35" r="1.95"/><circle cx="255.30" cy="690.02" r="1.95"/><circle cx="261.48" cy="675.97" r="1.95"/><circle cx="271.76" cy="687.00" r="1.95"/><circle cx="266.03" cy="695.75" r="1.95"/><circle cx="267.23" cy="664.84" r="1.95"/><circle cx="269.66" cy="679.64" r="1.95"/><circle cx="264.74" cy="689.93" r="1.95"/><circle cx="263.18" cy="720.99" r="1.95"/><circle cx="268.54" cy="702.11" r="1.95"/><circle cx="262.90" cy="692.90" r="1.95"/><circle cx="271.09" cy="664.95" r="1.95"/><circle cx="267.31" cy="707.14" r="1.95"/><circle cx="252.72" cy="710.29" r="1.95"/><circle cx="258.22" cy="683.85" r="1.95"/><circle cx="269.69" cy="663.30" r="1.95"/><circle cx="254.95" cy="711.61" r="1.95"/><circle cx="252.99" cy="676.02" r="1.95"/><circle cx="263.87" cy="674.92" r="1.95"/><circle cx="266.02" cy="696.28" r="1.95"/><circle cx="271.53" cy="680.87" r="1.95"/><circle cx="271.18" cy="686.47" r="1.95"/><circle cx="264.73" cy="693.43" r="1.95"/><circle cx="266.13" cy="668.51" r="1.95"/><circle cx="262.89" cy="702.74" r="1.95"/><circle cx="269.01" cy="701.27" r="1.95"/><circle cx="265.99" cy="699.38" r="1.95"/><circle cx="255.17" cy="664.81" r="1.95"/><circle cx="264.72" cy="696.30" r="1.95"/><circle cx="253.67" cy="654.01" r="1.95"/><circle cx="259.14" cy="712.01" r="1.95"/><circle cx="259.10" cy="705.59" r="1.95"/><circle cx="270.37" cy="735.90" r="1.95"/><circle cx="256.93" cy="704.41" r="1.95"/><circle cx="259.93" cy="685.83" r="1.95"/><circle cx="263.54" cy="674.48" r="1.95"/><circle cx="256.64" cy="705.58" r="1.95"/><circle cx="261.40" cy="696.94" r="1.95"/><circle cx="258.40" cy="661.21" r="1.95"/><circle cx="266.55" cy="696.42" r="1.95"/><circle cx="267.94" cy="685.52" r="1.95"/><circle cx="263.88" cy="675.67" r="1.95"/><circle cx="269.36" cy="705.30" r="1.95"/><circle cx="262.13" cy="664.73" r="1.95"/><circle cx="267.04" cy="690.98" r="1.95"/><circle cx="254.52" cy="673.03" r="1.95"/><circle cx="260.13" cy="692.80" r="1.95"/><circle cx="258.90" cy="682.43" r="1.95"/><circle cx="269.73" cy="665.06" r="1.95"/><circle cx="262.26" cy="683.38" r="1.95"/><circle cx="259.93" cy="720.92" r="1.95"/><circle cx="265.51" cy="692.62" r="1.95"/><circle cx="271.02" cy="694.50" r="1.95"/><circle cx="268.64" cy="690.80" r="1.95"/><circle cx="268.13" cy="683.95" r="1.95"/><circle cx="265.49" cy="717.40" r="1.95"/><circle cx="268.13" cy="655.16" r="1.95"/><circle cx="263.49" cy="703.20" r="1.95"/><circle cx="260.16" cy="663.73" r="1.95"/><circle cx="258.78" cy="694.32" r="1.95"/><circle cx="257.75" cy="693.99" r="1.95"/><circle cx="259.17" cy="689.78" r="1.95"/><circle cx="262.32" cy="693.87" r="1.95"/><circle cx="269.25" cy="677.35" r="1.95"/><circle cx="257.24" cy="664.87" r="1.95"/><circle cx="260.22" cy="654.06" r="1.95"/><circle cx="257.72" cy="653.05" r="1.95"/><circle cx="261.95" cy="709.99" r="1.95"/><circle cx="253.87" cy="675.33" r="1.95"/><circle cx="264.66" cy="678.43" r="1.95"/><circle cx="269.18" cy="688.87" r="1.95"/><circle cx="270.20" cy="681.76" r="1.95"/><circle cx="259.59" cy="686.99" r="1.95"/><circle cx="255.94" cy="708.46" r="1.95"/><circle cx="266.73" cy="702.84" r="1.95"/><circle cx="267.20" cy="669.81" r="1.95"/><circle cx="256.35" cy="688.49" r="1.95"/><circle cx="253.87" cy="661.92" r="1.95"/><circle cx="265.56" cy="695.67" r="1.95"/><circle cx="259.99" cy="698.00" r="1.95"/><circle cx="262.73" cy="685.33" r="1.95"/><circle cx="263.54" cy="685.41" r="1.95"/><circle cx="269.67" cy="669.60" r="1.95"/><circle cx="255.12" cy="696.99" r="1.95"/><circle cx="257.68" cy="672.46" r="1.95"/><circle cx="253.36" cy="680.63" r="1.95"/><circle cx="265.93" cy="703.53" r="1.95"/><circle cx="254.22" cy="690.51" r="1.95"/><circle cx="269.08" cy="690.68" r="1.95"/><circle cx="264.41" cy="668.72" r="1.95"/><circle cx="262.53" cy="664.71" r="1.95"/><circle cx="257.84" cy="674.71" r="1.95"/><circle cx="269.39" cy="697.03" r="1.95"/><circle cx="254.90" cy="673.93" r="1.95"/><circle cx="263.85" cy="684.27" r="1.95"/><circle cx="268.63" cy="698.15" r="1.95"/><circle cx="265.33" cy="673.53" r="1.95"/><circle cx="253.65" cy="701.32" r="1.95"/><circle cx="254.84" cy="692.81" r="1.95"/><circle cx="258.18" cy="706.32" r="1.95"/><circle cx="266.73" cy="712.59" r="1.95"/><circle cx="255.33" cy="680.73" r="1.95"/><circle cx="271.05" cy="716.40" r="1.95"/><circle cx="269.71" cy="699.25" r="1.95"/><circle cx="263.68" cy="694.13" r="1.95"/><circle cx="269.54" cy="678.74" r="1.95"/><circle cx="264.90" cy="699.66" r="1.95"/><circle cx="255.77" cy="674.26" r="1.95"/><circle cx="260.46" cy="702.30" r="1.95"/><circle cx="253.16" cy="701.77" r="1.95"/><circle cx="261.11" cy="702.57" r="1.95"/><circle cx="271.69" cy="696.45" r="1.95"/><circle cx="260.46" cy="700.71" r="1.95"/><circle cx="265.45" cy="713.29" r="1.95"/><circle cx="259.61" cy="701.09" r="1.95"/><circle cx="265.65" cy="702.92" r="1.95"/><circle cx="259.13" cy="668.01" r="1.95"/><circle cx="270.24" cy="706.81" r="1.95"/><circle cx="260.58" cy="681.39" r="1.95"/><circle cx="257.87" cy="704.09" r="1.95"/><circle cx="260.95" cy="671.60" r="1.95"/><circle cx="254.14" cy="689.82" r="1.95"/><circle cx="259.03" cy="697.90" r="1.95"/><circle cx="266.89" cy="666.28" r="1.95"/><circle cx="260.47" cy="659.91" r="1.95"/><circle cx="261.28" cy="659.39" r="1.95"/><circle cx="257.21" cy="669.83" r="1.95"/><circle cx="268.53" cy="686.23" r="1.95"/><circle cx="269.68" cy="699.76" r="1.95"/><circle cx="260.55" cy="696.14" r="1.95"/><circle cx="252.74" cy="697.51" r="1.95"/><circle cx="260.91" cy="678.04" r="1.95"/><circle cx="269.49" cy="695.17" r="1.95"/><circle cx="265.21" cy="683.23" r="1.95"/><circle cx="257.08" cy="683.65" r="1.95"/><circle cx="254.72" cy="689.44" r="1.95"/><circle cx="269.72" cy="699.34" r="1.95"/><circle cx="254.22" cy="706.71" r="1.95"/><circle cx="264.52" cy="674.01" r="1.95"/><circle cx="264.13" cy="688.83" r="1.95"/><circle cx="256.20" cy="710.85" r="1.95"/><circle cx="261.18" cy="688.69" r="1.95"/><circle cx="269.26" cy="689.07" r="1.95"/><circle cx="271.85" cy="680.70" r="1.95"/><circle cx="254.14" cy="702.06" r="1.95"/><circle cx="253.30" cy="675.40" r="1.95"/><circle cx="257.68" cy="701.94" r="1.95"/><circle cx="253.66" cy="686.50" r="1.95"/><circle cx="270.52" cy="687.26" r="1.95"/><circle cx="254.24" cy="678.82" r="1.95"/><circle cx="259.75" cy="687.97" r="1.95"/><circle cx="269.15" cy="707.88" r="1.95"/><circle cx="261.61" cy="688.41" r="1.95"/><circle cx="257.18" cy="658.01" r="1.95"/><circle cx="253.90" cy="689.46" r="1.95"/><circle cx="257.05" cy="647.46" r="1.95"/><circle cx="258.65" cy="691.47" r="1.95"/><circle cx="268.97" cy="696.18" r="1.95"/><circle cx="261.03" cy="682.27" r="1.95"/><circle cx="263.31" cy="669.47" r="1.95"/><circle cx="257.75" cy="664.14" r="1.95"/><circle cx="260.53" cy="661.17" r="1.95"/><circle cx="270.51" cy="695.12" r="1.95"/><circle cx="254.89" cy="700.99" r="1.95"/><circle cx="266.16" cy="666.67" r="1.95"/><circle cx="258.72" cy="694.68" r="1.95"/><circle cx="260.73" cy="698.61" r="1.95"/><circle cx="266.53" cy="691.17" r="1.95"/><circle cx="259.40" cy="698.41" r="1.95"/><circle cx="262.09" cy="680.40" r="1.95"/><circle cx="262.06" cy="685.81" r="1.95"/><circle cx="262.01" cy="715.12" r="1.95"/><circle cx="254.12" cy="684.88" r="1.95"/><circle cx="260.24" cy="684.15" r="1.95"/><circle cx="260.00" cy="668.79" r="1.95"/><circle cx="260.76" cy="691.97" r="1.95"/><circle cx="258.21" cy="700.35" r="1.95"/><circle cx="261.31" cy="711.58" r="1.95"/><circle cx="266.92" cy="690.44" r="1.95"/><circle cx="254.11" cy="697.35" r="1.95"/><circle cx="254.14" cy="680.00" r="1.95"/><circle cx="262.97" cy="696.98" r="1.95"/><circle cx="263.79" cy="713.57" r="1.95"/><circle cx="268.04" cy="674.55" r="1.95"/><circle cx="253.33" cy="656.18" r="1.95"/><circle cx="252.88" cy="707.55" r="1.95"/><circle cx="264.37" cy="717.36" r="1.95"/><circle cx="256.84" cy="682.94" r="1.95"/><circle cx="262.18" cy="707.94" r="1.95"/><circle cx="258.35" cy="690.36" r="1.95"/><circle cx="254.37" cy="702.49" r="1.95"/><circle cx="263.47" cy="691.28" r="1.95"/><circle cx="258.75" cy="693.20" r="1.95"/><circle cx="262.05" cy="699.28" r="1.95"/><circle cx="269.39" cy="669.06" r="1.95"/><circle cx="261.34" cy="666.07" r="1.95"/><circle cx="268.87" cy="705.24" r="1.95"/><circle cx="258.32" cy="655.93" r="1.95"/><circle cx="256.19" cy="706.93" r="1.95"/><circle cx="260.43" cy="662.03" r="1.95"/><circle cx="258.41" cy="691.60" r="1.95"/><circle cx="266.66" cy="702.25" r="1.95"/><circle cx="255.02" cy="700.74" r="1.95"/><circle cx="266.59" cy="681.09" r="1.95"/><circle cx="256.92" cy="654.85" r="1.95"/><circle cx="260.54" cy="695.32" r="1.95"/><circle cx="256.85" cy="693.91" r="1.95"/><circle cx="255.48" cy="686.15" r="1.95"/><circle cx="255.37" cy="674.07" r="1.95"/><circle cx="271.63" cy="691.18" r="1.95"/><circle cx="254.61" cy="711.28" r="1.95"/><circle cx="270.45" cy="678.50" r="1.95"/><circle cx="261.53" cy="660.37" r="1.95"/><circle cx="269.64" cy="700.24" r="1.95"/><circle cx="256.14" cy="692.55" r="1.95"/><circle cx="263.91" cy="740.87" r="1.95"/><circle cx="265.80" cy="667.38" r="1.95"/><circle cx="258.58" cy="678.46" r="1.95"/><circle cx="264.48" cy="676.55" r="1.95"/><circle cx="270.05" cy="716.07" r="1.95"/><circle cx="260.69" cy="706.43" r="1.95"/><circle cx="253.26" cy="670.69" r="1.95"/><circle cx="264.41" cy="695.68" r="1.95"/><circle cx="267.70" cy="685.88" r="1.95"/><circle cx="261.43" cy="696.09" r="1.95"/><circle cx="268.82" cy="714.19" r="1.95"/><circle cx="259.52" cy="663.31" r="1.95"/><circle cx="261.37" cy="697.09" r="1.95"/><circle cx="261.00" cy="704.09" r="1.95"/><circle cx="254.51" cy="704.18" r="1.95"/><circle cx="254.07" cy="699.24" r="1.95"/><circle cx="264.95" cy="723.23" r="1.95"/><circle cx="269.77" cy="698.23" r="1.95"/><circle cx="256.23" cy="674.88" r="1.95"/><circle cx="270.07" cy="688.83" r="1.95"/><circle cx="258.96" cy="685.56" r="1.95"/><circle cx="260.73" cy="730.96" r="1.95"/><circle cx="253.51" cy="703.80" r="1.95"/><circle cx="252.84" cy="700.42" r="1.95"/><circle cx="263.75" cy="701.61" r="1.95"/><circle cx="269.68" cy="671.85" r="1.95"/><circle cx="264.91" cy="708.95" r="1.95"/><circle cx="255.19" cy="699.17" r="1.95"/><circle cx="265.40" cy="699.26" r="1.95"/><circle cx="255.19" cy="642.89" r="1.95"/><circle cx="261.72" cy="698.59" r="1.95"/><circle cx="267.10" cy="690.54" r="1.95"/><circle cx="260.14" cy="691.85" r="1.95"/><circle cx="258.80" cy="692.26" r="1.95"/><circle cx="258.85" cy="696.17" r="1.95"/><circle cx="258.28" cy="671.47" r="1.95"/><circle cx="253.00" cy="695.11" r="1.95"/><circle cx="266.66" cy="667.46" r="1.95"/><circle cx="260.22" cy="675.38" r="1.95"/><circle cx="256.29" cy="669.15" r="1.95"/><circle cx="258.67" cy="679.69" r="1.95"/><circle cx="253.49" cy="711.66" r="1.95"/><circle cx="261.73" cy="642.96" r="1.95"/><circle cx="263.90" cy="695.32" r="1.95"/><circle cx="264.63" cy="707.31" r="1.95"/><circle cx="261.24" cy="684.07" r="1.95"/><circle cx="271.69" cy="684.02" r="1.95"/><circle cx="255.59" cy="724.50" r="1.95"/><circle cx="256.47" cy="713.21" r="1.95"/><circle cx="263.48" cy="693.88" r="1.95"/><circle cx="260.62" cy="694.95" r="1.95"/><circle cx="258.52" cy="707.43" r="1.95"/><circle cx="266.63" cy="705.46" r="1.95"/><circle cx="262.59" cy="687.92" r="1.95"/><circle cx="263.57" cy="706.64" r="1.95"/><circle cx="265.98" cy="680.40" r="1.95"/><circle cx="260.79" cy="683.45" r="1.95"/><circle cx="262.53" cy="697.17" r="1.95"/><circle cx="271.66" cy="656.32" r="1.95"/><circle cx="255.81" cy="659.03" r="1.95"/><circle cx="261.63" cy="715.17" r="1.95"/><circle cx="264.46" cy="688.79" r="1.95"/><circle cx="267.36" cy="661.18" r="1.95"/><circle cx="254.41" cy="702.04" r="1.95"/><circle cx="254.91" cy="728.18" r="1.95"/><circle cx="257.84" cy="705.26" r="1.95"/><circle cx="265.51" cy="701.11" r="1.95"/><circle cx="256.73" cy="700.96" r="1.95"/><circle cx="253.37" cy="682.54" r="1.95"/><circle cx="260.75" cy="677.14" r="1.95"/><circle cx="255.67" cy="676.71" r="1.95"/><circle cx="265.89" cy="724.55" r="1.95"/><circle cx="270.93" cy="700.95" r="1.95"/><circle cx="267.17" cy="669.41" r="1.95"/><circle cx="263.62" cy="779.50" r="1.95"/><circle cx="260.51" cy="760.67" r="1.95"/><circle cx="253.21" cy="760.13" r="1.95"/><circle cx="261.05" cy="765.51" r="1.95"/><circle cx="262.70" cy="754.75" r="1.95"/><circle cx="258.47" cy="755.83" r="1.95"/><circle cx="260.53" cy="751.52" r="1.95"/><circle cx="270.80" cy="747.22" r="1.95"/><circle cx="259.85" cy="742.92" r="1.95"/><circle cx="257.74" cy="734.31" r="1.95"/><circle cx="261.17" cy="732.16" r="1.95"/></g><rect x="187.50" y="632.90" width="102.90" height="153.30" fill="none" stroke="#333" stroke-width="1.0" /><line x1="185.30" y1="779.50" x2="187.50" y2="779.50" stroke="#333" stroke-width="0.8" /><text x="184.70" y="781.80" font-size="6.4" text-anchor="end" fill="#4d4d4d">0</text><line x1="185.30" y1="725.70" x2="187.50" y2="725.70" stroke="#333" stroke-width="0.8" /><text x="184.70" y="728.00" font-size="6.4" text-anchor="end" fill="#4d4d4d">5</text><line x1="185.30" y1="671.90" x2="187.50" y2="671.90" stroke="#333" stroke-width="0.8" /><text x="184.70" y="674.20" font-size="6.4" text-anchor="end" fill="#4d4d4d">10</text><line x1="215.40" y1="786.20" x2="215.40" y2="788.40" stroke="#333" stroke-width="0.8" /><text x="215.40" y="798.00" font-size="9.5" text-anchor="middle" fill="#222">Yes</text><line x1="262.30" y1="786.20" x2="262.30" y2="788.40" stroke="#333" stroke-width="0.8" /><text x="262.30" y="798.00" font-size="9.5" text-anchor="middle" fill="#222">No</text><text x="191.40" y="640.20" font-size="7.4" fill="#222">Wilcoxon, p = 0.19</text><text x="231.65" y="625.40" font-size="9.6" text-anchor="middle" fill="#222" font-style="italic">APOBEC3B</text><text transform="translate(176.00 709.00) rotate(-90) scale(0.92 1)" font-size="8.2" text-anchor="middle" fill="#222">log2 APOBEC3B expression</text><text x="32.10" y="796.60" font-size="9.5" text-anchor="middle" fill="#222">Squamous</text><text x="32.10" y="808.00" font-size="9.5" text-anchor="middle" fill="#222">Differentiation</text><text x="360.50" y="630.80" font-size="19">F</text><line x1="350.50" y1="754.10" x2="502.90" y2="754.10" stroke="#e3e3e3" stroke-width="0.9" /><line x1="350.50" y1="736.50" x2="502.90" y2="736.50" stroke="#e3e3e3" stroke-width="0.9" /><line x1="350.50" y1="718.90" x2="502.90" y2="718.90" stroke="#e3e3e3" stroke-width="0.9" /><line x1="350.50" y1="701.30" x2="502.90" y2="701.30" stroke="#e3e3e3" stroke-width="0.9" /><line x1="350.50" y1="683.70" x2="502.90" y2="683.70" stroke="#e3e3e3" stroke-width="0.9" /><line x1="350.50" y1="666.10" x2="502.90" y2="666.10" stroke="#e3e3e3" stroke-width="0.9" /><line x1="365.00" y1="673.14" x2="365.00" y2="743.19" stroke="#222" stroke-width="1.3" /><rect x="355.40" y="698.13" width="19.20" height="19.36" fill="#f4846c" stroke="#333" stroke-width="1.2" /><line x1="355.40" y1="710.45" x2="374.60" y2="710.45" stroke="#333" stroke-width="2.0" /><line x1="390.00" y1="696.02" x2="390.00" y2="731.22" stroke="#222" stroke-width="1.3" /><rect x="380.40" y="706.23" width="19.20" height="17.25" fill="#d4ea80" stroke="#333" stroke-width="1.2" /><line x1="380.40" y1="716.08" x2="399.60" y2="716.08" stroke="#333" stroke-width="2.0" /><line x1="414.90" y1="680.18" x2="414.90" y2="749.17" stroke="#222" stroke-width="1.3" /><rect x="405.30" y="706.09" width="19.20" height="18.80" fill="#9ed896" stroke="#333" stroke-width="1.2" /><line x1="405.30" y1="716.79" x2="424.50" y2="716.79" stroke="#333" stroke-width="2.0" /><line x1="439.50" y1="683.00" x2="439.50" y2="742.13" stroke="#222" stroke-width="1.3" /><rect x="429.90" y="702.36" width="19.20" height="16.90" fill="#82a0dc" stroke="#333" stroke-width="1.2" /><line x1="429.90" y1="709.75" x2="449.10" y2="709.75" stroke="#333" stroke-width="2.0" /><line x1="463.90" y1="724.53" x2="463.90" y2="738.61" stroke="#222" stroke-width="1.3" /><rect x="454.30" y="726.29" width="19.20" height="10.21" fill="#78bb84" stroke="#333" stroke-width="1.2" /><line x1="454.30" y1="731.22" x2="473.50" y2="731.22" stroke="#333" stroke-width="2.0" /><line x1="488.70" y1="687.92" x2="488.70" y2="737.20" stroke="#222" stroke-width="1.3" /><rect x="479.10" y="703.41" width="19.20" height="16.90" fill="#b891c8" stroke="#333" stroke-width="1.2" /><line x1="479.10" y1="713.27" x2="498.30" y2="713.27" stroke="#333" stroke-width="2.0" /><g fill="#3a3a3a" fill-opacity="0.55" stroke="#000" stroke-opacity="0.7" stroke-width="0.45"><circle cx="361.74" cy="727.14" r="1.85"/><circle cx="360.97" cy="703.46" r="1.85"/><circle cx="368.11" cy="694.33" r="1.85"/><circle cx="370.73" cy="716.63" r="1.85"/><circle cx="361.06" cy="728.69" r="1.85"/><circle cx="370.85" cy="710.01" r="1.85"/><circle cx="369.97" cy="701.98" r="1.85"/><circle cx="366.35" cy="692.81" r="1.85"/><circle cx="363.98" cy="727.02" r="1.85"/><circle cx="359.85" cy="728.16" r="1.85"/><circle cx="359.00" cy="698.61" r="1.85"/><circle cx="371.01" cy="702.04" r="1.85"/><circle cx="361.60" cy="686.37" r="1.85"/><circle cx="367.66" cy="694.52" r="1.85"/><circle cx="361.84" cy="710.55" r="1.85"/><circle cx="369.21" cy="713.10" r="1.85"/><circle cx="366.25" cy="671.04" r="1.85"/><circle cx="362.31" cy="713.31" r="1.85"/><circle cx="360.78" cy="720.65" r="1.85"/><circle cx="367.86" cy="725.87" r="1.85"/><circle cx="359.39" cy="707.63" r="1.85"/><circle cx="361.47" cy="706.90" r="1.85"/><circle cx="365.77" cy="714.14" r="1.85"/><circle cx="369.58" cy="709.96" r="1.85"/><circle cx="366.49" cy="705.01" r="1.85"/><circle cx="362.14" cy="698.81" r="1.85"/><circle cx="370.43" cy="692.83" r="1.85"/><circle cx="361.15" cy="705.94" r="1.85"/><circle cx="358.72" cy="735.50" r="1.85"/><circle cx="362.00" cy="698.67" r="1.85"/><circle cx="364.29" cy="730.03" r="1.85"/><circle cx="359.29" cy="711.58" r="1.85"/><circle cx="360.79" cy="730.83" r="1.85"/><circle cx="363.29" cy="709.01" r="1.85"/><circle cx="365.94" cy="720.55" r="1.85"/><circle cx="360.21" cy="705.88" r="1.85"/><circle cx="363.21" cy="660.25" r="1.85"/><circle cx="370.08" cy="709.76" r="1.85"/><circle cx="371.25" cy="696.59" r="1.85"/><circle cx="367.04" cy="728.61" r="1.85"/><circle cx="367.49" cy="713.30" r="1.85"/><circle cx="366.10" cy="699.25" r="1.85"/><circle cx="360.32" cy="710.41" r="1.85"/><circle cx="358.96" cy="703.57" r="1.85"/><circle cx="358.73" cy="707.52" r="1.85"/><circle cx="370.33" cy="723.92" r="1.85"/><circle cx="367.61" cy="700.71" r="1.85"/><circle cx="371.02" cy="721.05" r="1.85"/><circle cx="358.78" cy="681.37" r="1.85"/><circle cx="366.77" cy="716.51" r="1.85"/><circle cx="364.77" cy="698.90" r="1.85"/><circle cx="368.00" cy="709.01" r="1.85"/><circle cx="362.65" cy="694.96" r="1.85"/><circle cx="371.49" cy="717.95" r="1.85"/><circle cx="359.48" cy="694.28" r="1.85"/><circle cx="365.60" cy="710.88" r="1.85"/><circle cx="368.08" cy="690.37" r="1.85"/><circle cx="370.20" cy="699.82" r="1.85"/><circle cx="368.08" cy="706.96" r="1.85"/><circle cx="367.65" cy="720.58" r="1.85"/><circle cx="368.81" cy="697.69" r="1.85"/><circle cx="370.40" cy="702.12" r="1.85"/><circle cx="363.07" cy="684.77" r="1.85"/><circle cx="367.41" cy="714.62" r="1.85"/><circle cx="370.21" cy="700.84" r="1.85"/><circle cx="369.82" cy="701.53" r="1.85"/><circle cx="363.92" cy="704.86" r="1.85"/><circle cx="368.78" cy="705.96" r="1.85"/><circle cx="369.73" cy="706.35" r="1.85"/><circle cx="365.95" cy="717.89" r="1.85"/><circle cx="366.62" cy="724.04" r="1.85"/><circle cx="363.47" cy="714.91" r="1.85"/><circle cx="366.07" cy="700.31" r="1.85"/><circle cx="366.42" cy="686.70" r="1.85"/><circle cx="359.54" cy="694.60" r="1.85"/><circle cx="366.81" cy="693.47" r="1.85"/><circle cx="371.41" cy="697.55" r="1.85"/><circle cx="369.94" cy="698.72" r="1.85"/><circle cx="367.97" cy="706.33" r="1.85"/><circle cx="363.55" cy="697.64" r="1.85"/><circle cx="368.06" cy="682.82" r="1.85"/><circle cx="366.05" cy="713.89" r="1.85"/><circle cx="364.23" cy="719.30" r="1.85"/><circle cx="369.40" cy="680.07" r="1.85"/><circle cx="359.59" cy="705.43" r="1.85"/><circle cx="368.25" cy="694.69" r="1.85"/><circle cx="358.89" cy="696.12" r="1.85"/><circle cx="366.32" cy="725.83" r="1.85"/><circle cx="364.75" cy="673.07" r="1.85"/><circle cx="361.49" cy="682.79" r="1.85"/><circle cx="367.58" cy="706.43" r="1.85"/><circle cx="364.96" cy="697.92" r="1.85"/><circle cx="366.49" cy="707.17" r="1.85"/><circle cx="370.47" cy="722.12" r="1.85"/><circle cx="361.83" cy="710.70" r="1.85"/><circle cx="358.65" cy="703.51" r="1.85"/><circle cx="362.41" cy="692.55" r="1.85"/><circle cx="367.32" cy="698.56" r="1.85"/><circle cx="361.13" cy="708.16" r="1.85"/><circle cx="360.70" cy="689.01" r="1.85"/><circle cx="370.27" cy="720.29" r="1.85"/><circle cx="367.08" cy="697.32" r="1.85"/><circle cx="364.25" cy="692.60" r="1.85"/><circle cx="370.09" cy="713.36" r="1.85"/><circle cx="362.75" cy="735.52" r="1.85"/><circle cx="367.16" cy="722.44" r="1.85"/><circle cx="361.08" cy="705.54" r="1.85"/><circle cx="364.10" cy="701.24" r="1.85"/><circle cx="368.98" cy="686.16" r="1.85"/><circle cx="370.38" cy="723.89" r="1.85"/></g><g fill="#3a3a3a" fill-opacity="0.55" stroke="#000" stroke-opacity="0.7" stroke-width="0.45"><circle cx="387.52" cy="707.78" r="1.85"/><circle cx="393.79" cy="722.49" r="1.85"/><circle cx="383.75" cy="723.36" r="1.85"/><circle cx="385.27" cy="719.97" r="1.85"/><circle cx="389.41" cy="707.27" r="1.85"/><circle cx="383.82" cy="706.04" r="1.85"/><circle cx="394.29" cy="704.70" r="1.85"/><circle cx="386.59" cy="706.04" r="1.85"/><circle cx="385.33" cy="707.29" r="1.85"/><circle cx="384.11" cy="718.01" r="1.85"/><circle cx="391.68" cy="709.76" r="1.85"/><circle cx="389.30" cy="705.28" r="1.85"/><circle cx="391.69" cy="716.53" r="1.85"/><circle cx="392.02" cy="708.14" r="1.85"/><circle cx="394.00" cy="728.07" r="1.85"/><circle cx="395.96" cy="707.76" r="1.85"/><circle cx="392.40" cy="724.57" r="1.85"/><circle cx="386.09" cy="715.03" r="1.85"/><circle cx="389.68" cy="699.48" r="1.85"/><circle cx="385.82" cy="715.33" r="1.85"/><circle cx="383.64" cy="713.00" r="1.85"/><circle cx="389.64" cy="714.17" r="1.85"/><circle cx="392.78" cy="713.24" r="1.85"/><circle cx="385.83" cy="717.58" r="1.85"/><circle cx="387.04" cy="718.91" r="1.85"/><circle cx="387.99" cy="728.65" r="1.85"/></g><g fill="#3a3a3a" fill-opacity="0.55" stroke="#000" stroke-opacity="0.7" stroke-width="0.45"><circle cx="409.76" cy="721.91" r="1.85"/><circle cx="417.90" cy="733.03" r="1.85"/><circle cx="410.00" cy="734.77" r="1.85"/><circle cx="415.04" cy="732.45" r="1.85"/><circle cx="411.66" cy="736.63" r="1.85"/><circle cx="410.97" cy="699.84" r="1.85"/><circle cx="415.29" cy="710.83" r="1.85"/><circle cx="414.08" cy="719.59" r="1.85"/><circle cx="413.28" cy="694.51" r="1.85"/><circle cx="413.77" cy="725.81" r="1.85"/><circle cx="415.28" cy="704.95" r="1.85"/><circle cx="410.48" cy="704.24" r="1.85"/><circle cx="411.06" cy="738.94" r="1.85"/><circle cx="416.61" cy="739.10" r="1.85"/><circle cx="416.70" cy="729.80" r="1.85"/><circle cx="415.29" cy="702.68" r="1.85"/><circle cx="419.47" cy="696.92" r="1.85"/><circle cx="416.35" cy="734.23" r="1.85"/><circle cx="419.54" cy="700.58" r="1.85"/><circle cx="411.42" cy="721.75" r="1.85"/><circle cx="418.03" cy="721.90" r="1.85"/><circle cx="418.94" cy="724.23" r="1.85"/><circle cx="420.13" cy="720.87" r="1.85"/><circle cx="412.51" cy="742.97" r="1.85"/><circle cx="412.49" cy="730.89" r="1.85"/><circle cx="420.40" cy="734.35" r="1.85"/><circle cx="411.24" cy="708.83" r="1.85"/><circle cx="421.38" cy="685.20" r="1.85"/><circle cx="419.94" cy="712.45" r="1.85"/><circle cx="410.14" cy="721.06" r="1.85"/><circle cx="411.51" cy="712.79" r="1.85"/><circle cx="417.85" cy="728.65" r="1.85"/><circle cx="411.77" cy="691.52" r="1.85"/><circle cx="409.66" cy="731.68" r="1.85"/><circle cx="419.22" cy="719.65" r="1.85"/><circle cx="413.88" cy="711.08" r="1.85"/><circle cx="418.67" cy="733.50" r="1.85"/><circle cx="410.04" cy="709.30" r="1.85"/><circle cx="413.64" cy="714.13" r="1.85"/><circle cx="417.31" cy="733.06" r="1.85"/><circle cx="408.63" cy="689.60" r="1.85"/><circle cx="411.01" cy="711.31" r="1.85"/><circle cx="417.27" cy="691.68" r="1.85"/><circle cx="420.25" cy="705.70" r="1.85"/><circle cx="420.99" cy="709.86" r="1.85"/><circle cx="409.90" cy="704.27" r="1.85"/><circle cx="414.97" cy="714.16" r="1.85"/><circle cx="418.26" cy="723.99" r="1.85"/><circle cx="414.94" cy="705.49" r="1.85"/><circle cx="417.31" cy="701.75" r="1.85"/><circle cx="410.86" cy="720.76" r="1.85"/><circle cx="409.32" cy="744.00" r="1.85"/><circle cx="409.78" cy="729.35" r="1.85"/><circle cx="408.89" cy="749.22" r="1.85"/><circle cx="415.57" cy="743.88" r="1.85"/><circle cx="415.09" cy="714.40" r="1.85"/><circle cx="415.79" cy="712.85" r="1.85"/><circle cx="410.31" cy="698.29" r="1.85"/><circle cx="410.80" cy="722.05" r="1.85"/><circle cx="411.05" cy="692.96" r="1.85"/><circle cx="419.32" cy="727.64" r="1.85"/><circle cx="421.27" cy="729.86" r="1.85"/><circle cx="420.45" cy="705.57" r="1.85"/><circle cx="409.64" cy="731.84" r="1.85"/><circle cx="409.21" cy="721.56" r="1.85"/><circle cx="420.77" cy="702.67" r="1.85"/><circle cx="414.41" cy="698.19" r="1.85"/><circle cx="418.34" cy="742.32" r="1.85"/><circle cx="412.65" cy="708.60" r="1.85"/><circle cx="414.47" cy="688.23" r="1.85"/><circle cx="415.10" cy="698.42" r="1.85"/><circle cx="413.99" cy="719.63" r="1.85"/><circle cx="416.21" cy="724.96" r="1.85"/><circle cx="408.57" cy="720.47" r="1.85"/><circle cx="417.51" cy="733.13" r="1.85"/><circle cx="419.38" cy="720.00" r="1.85"/><circle cx="410.76" cy="718.85" r="1.85"/><circle cx="414.30" cy="718.24" r="1.85"/><circle cx="418.01" cy="698.60" r="1.85"/><circle cx="413.67" cy="719.49" r="1.85"/><circle cx="410.94" cy="737.64" r="1.85"/><circle cx="410.55" cy="700.55" r="1.85"/><circle cx="415.06" cy="731.94" r="1.85"/><circle cx="408.60" cy="722.70" r="1.85"/><circle cx="420.01" cy="718.06" r="1.85"/><circle cx="418.82" cy="721.17" r="1.85"/><circle cx="417.56" cy="730.91" r="1.85"/><circle cx="419.59" cy="719.76" r="1.85"/><circle cx="416.58" cy="683.79" r="1.85"/><circle cx="413.66" cy="725.06" r="1.85"/><circle cx="416.19" cy="718.10" r="1.85"/><circle cx="414.96" cy="699.47" r="1.85"/><circle cx="421.17" cy="705.07" r="1.85"/><circle cx="418.86" cy="704.80" r="1.85"/><circle cx="411.76" cy="703.34" r="1.85"/><circle cx="420.25" cy="745.18" r="1.85"/><circle cx="418.08" cy="728.86" r="1.85"/><circle cx="418.51" cy="714.19" r="1.85"/><circle cx="418.99" cy="708.71" r="1.85"/><circle cx="413.67" cy="696.95" r="1.85"/><circle cx="420.06" cy="709.14" r="1.85"/><circle cx="419.84" cy="719.61" r="1.85"/><circle cx="417.43" cy="715.50" r="1.85"/><circle cx="418.37" cy="719.20" r="1.85"/><circle cx="418.35" cy="712.43" r="1.85"/><circle cx="413.67" cy="706.12" r="1.85"/><circle cx="417.79" cy="721.11" r="1.85"/><circle cx="409.32" cy="728.11" r="1.85"/><circle cx="412.84" cy="728.72" r="1.85"/><circle cx="414.49" cy="699.87" r="1.85"/></g><g fill="#3a3a3a" fill-opacity="0.55" stroke="#000" stroke-opacity="0.7" stroke-width="0.45"><circle cx="445.29" cy="697.28" r="1.85"/><circle cx="438.47" cy="709.57" r="1.85"/><circle cx="439.85" cy="723.13" r="1.85"/><circle cx="440.77" cy="725.52" r="1.85"/><circle cx="437.75" cy="706.65" r="1.85"/><circle cx="436.71" cy="676.79" r="1.85"/><circle cx="441.52" cy="716.88" r="1.85"/><circle cx="440.29" cy="721.50" r="1.85"/><circle cx="436.69" cy="720.27" r="1.85"/><circle cx="442.32" cy="725.87" r="1.85"/><circle cx="436.85" cy="724.14" r="1.85"/><circle cx="433.18" cy="713.34" r="1.85"/><circle cx="436.19" cy="690.26" r="1.85"/><circle cx="433.56" cy="710.47" r="1.85"/><circle cx="435.04" cy="717.64" r="1.85"/><circle cx="442.81" cy="733.19" r="1.85"/><circle cx="438.07" cy="707.45" r="1.85"/><circle cx="444.67" cy="710.83" r="1.85"/><circle cx="442.73" cy="727.72" r="1.85"/><circle cx="433.65" cy="725.75" r="1.85"/><circle cx="445.85" cy="711.05" r="1.85"/><circle cx="445.28" cy="696.20" r="1.85"/><circle cx="433.96" cy="701.63" r="1.85"/><circle cx="444.77" cy="707.56" r="1.85"/><circle cx="438.58" cy="715.00" r="1.85"/><circle cx="439.21" cy="705.94" r="1.85"/><circle cx="445.65" cy="710.62" r="1.85"/><circle cx="436.17" cy="679.86" r="1.85"/><circle cx="439.80" cy="726.39" r="1.85"/><circle cx="445.18" cy="715.64" r="1.85"/><circle cx="442.40" cy="692.60" r="1.85"/><circle cx="439.09" cy="714.19" r="1.85"/><circle cx="445.72" cy="690.39" r="1.85"/><circle cx="443.62" cy="711.07" r="1.85"/><circle cx="440.85" cy="708.40" r="1.85"/><circle cx="434.50" cy="715.67" r="1.85"/><circle cx="441.12" cy="729.89" r="1.85"/><circle cx="438.92" cy="724.12" r="1.85"/><circle cx="435.65" cy="679.26" r="1.85"/><circle cx="433.68" cy="701.37" r="1.85"/><circle cx="439.87" cy="701.92" r="1.85"/><circle cx="434.62" cy="697.02" r="1.85"/><circle cx="438.76" cy="702.44" r="1.85"/><circle cx="441.68" cy="696.06" r="1.85"/><circle cx="438.92" cy="714.20" r="1.85"/></g><g fill="#3a3a3a" fill-opacity="0.55" stroke="#000" stroke-opacity="0.7" stroke-width="0.45"><circle cx="458.88" cy="732.67" r="1.85"/><circle cx="469.01" cy="732.07" r="1.85"/><circle cx="467.60" cy="725.08" r="1.85"/><circle cx="465.52" cy="739.05" r="1.85"/><circle cx="462.07" cy="727.43" r="1.85"/><circle cx="460.93" cy="725.27" r="1.85"/><circle cx="466.31" cy="734.86" r="1.85"/><circle cx="464.74" cy="731.93" r="1.85"/></g><g fill="#3a3a3a" fill-opacity="0.55" stroke="#000" stroke-opacity="0.7" stroke-width="0.45"><circle cx="493.58" cy="720.84" r="1.85"/><circle cx="483.22" cy="725.94" r="1.85"/><circle cx="483.28" cy="721.25" r="1.85"/><circle cx="489.53" cy="712.41" r="1.85"/><circle cx="488.50" cy="719.87" r="1.85"/><circle cx="491.11" cy="712.36" r="1.85"/><circle cx="486.09" cy="691.49" r="1.85"/><circle cx="492.28" cy="710.25" r="1.85"/><circle cx="483.19" cy="714.77" r="1.85"/><circle cx="484.97" cy="704.25" r="1.85"/><circle cx="490.81" cy="709.23" r="1.85"/><circle cx="483.26" cy="726.60" r="1.85"/><circle cx="486.15" cy="705.43" r="1.85"/><circle cx="491.62" cy="701.31" r="1.85"/><circle cx="491.22" cy="704.12" r="1.85"/><circle cx="485.88" cy="708.26" r="1.85"/><circle cx="484.06" cy="710.46" r="1.85"/><circle cx="486.85" cy="718.93" r="1.85"/><circle cx="491.64" cy="725.31" r="1.85"/><circle cx="486.96" cy="719.96" r="1.85"/><circle cx="483.73" cy="720.55" r="1.85"/><circle cx="491.42" cy="720.24" r="1.85"/><circle cx="489.60" cy="711.52" r="1.85"/><circle cx="494.14" cy="722.90" r="1.85"/><circle cx="494.42" cy="697.08" r="1.85"/><circle cx="494.07" cy="710.23" r="1.85"/><circle cx="487.89" cy="716.32" r="1.85"/><circle cx="492.64" cy="697.60" r="1.85"/><circle cx="486.16" cy="698.55" r="1.85"/><circle cx="486.33" cy="726.30" r="1.85"/><circle cx="487.39" cy="726.09" r="1.85"/><circle cx="494.35" cy="709.85" r="1.85"/><circle cx="493.83" cy="701.04" r="1.85"/><circle cx="485.43" cy="713.60" r="1.85"/><circle cx="486.90" cy="692.07" r="1.85"/><circle cx="486.95" cy="723.71" r="1.85"/><circle cx="486.92" cy="700.53" r="1.85"/><circle cx="487.34" cy="702.59" r="1.85"/><circle cx="487.24" cy="713.24" r="1.85"/><circle cx="484.73" cy="730.35" r="1.85"/><circle cx="489.53" cy="718.17" r="1.85"/><circle cx="492.56" cy="702.11" r="1.85"/><circle cx="489.23" cy="718.24" r="1.85"/><circle cx="493.07" cy="716.03" r="1.85"/><circle cx="489.52" cy="708.84" r="1.85"/></g><rect x="350.50" y="650.50" width="152.40" height="107.70" fill="none" stroke="#333" stroke-width="1.0" /><line x1="348.50" y1="754.10" x2="350.50" y2="754.10" stroke="#333" stroke-width="0.8" /><text x="348.20" y="754.10" font-size="6.0" transform="rotate(-90 348.20 754.10)" text-anchor="middle" fill="#4d4d4d">0</text><line x1="348.50" y1="718.90" x2="350.50" y2="718.90" stroke="#333" stroke-width="0.8" /><text x="348.20" y="718.90" font-size="6.0" transform="rotate(-90 348.20 718.90)" text-anchor="middle" fill="#4d4d4d">5</text><line x1="348.50" y1="683.70" x2="350.50" y2="683.70" stroke="#333" stroke-width="0.8" /><text x="348.20" y="683.70" font-size="6.0" transform="rotate(-90 348.20 683.70)" text-anchor="middle" fill="#4d4d4d">10</text><line x1="365.00" y1="758.20" x2="365.00" y2="760.20" stroke="#333" stroke-width="0.8" /><text x="365.00" y="764.50" font-size="5.6" text-anchor="middle" fill="#4d4d4d">Ba.Sq</text><line x1="390.00" y1="758.20" x2="390.00" y2="760.20" stroke="#333" stroke-width="0.8" /><text x="390.00" y="764.50" font-size="5.6" text-anchor="middle" fill="#4d4d4d">LumNS</text><line x1="414.90" y1="758.20" x2="414.90" y2="760.20" stroke="#333" stroke-width="0.8" /><text x="414.90" y="764.50" font-size="5.6" text-anchor="middle" fill="#4d4d4d">LumP</text><line x1="439.50" y1="758.20" x2="439.50" y2="760.20" stroke="#333" stroke-width="0.8" /><text x="439.50" y="764.50" font-size="5.6" text-anchor="middle" fill="#4d4d4d">LumU</text><line x1="463.90" y1="758.20" x2="463.90" y2="760.20" stroke="#333" stroke-width="0.8" /><text x="463.90" y="764.50" font-size="5.6" text-anchor="middle" fill="#4d4d4d">NE.like</text><line x1="488.70" y1="758.20" x2="488.70" y2="760.20" stroke="#333" stroke-width="0.8" /><text x="488.70" y="764.50" font-size="5.6" text-anchor="middle" fill="#4d4d4d">Stroma.rich</text><text x="356.00" y="656.70" font-size="6.2" fill="#222">Kruskal−Wallis p = 2.0e−06</text><text x="416.70" y="642.80" font-size="9.4" text-anchor="middle" fill="#222" font-style="italic">APOBEC3A</text><text x="341.60" y="715.60" font-size="6.85" transform="rotate(-90 341.60 715.60)" text-anchor="middle" fill="#222">log2 APOBEC3A expression</text><line x1="526.00" y1="756.10" x2="678.40" y2="756.10" stroke="#e3e3e3" stroke-width="0.9" /><line x1="526.00" y1="738.38" x2="678.40" y2="738.38" stroke="#e3e3e3" stroke-width="0.9" /><line x1="526.00" y1="720.65" x2="678.40" y2="720.65" stroke="#e3e3e3" stroke-width="0.9" /><line x1="526.00" y1="702.93" x2="678.40" y2="702.93" stroke="#e3e3e3" stroke-width="0.9" /><line x1="526.00" y1="685.20" x2="678.40" y2="685.20" stroke="#e3e3e3" stroke-width="0.9" /><line x1="526.00" y1="667.48" x2="678.40" y2="667.48" stroke="#e3e3e3" stroke-width="0.9" /><line x1="540.50" y1="677.40" x2="540.50" y2="718.52" stroke="#222" stroke-width="1.3" /><rect x="530.90" y="690.87" width="19.20" height="11.70" fill="#f4846c" stroke="#333" stroke-width="1.2" /><line x1="530.90" y1="696.54" x2="550.10" y2="696.54" stroke="#333" stroke-width="2.0" /><line x1="565.50" y1="680.95" x2="565.50" y2="706.47" stroke="#222" stroke-width="1.3" /><rect x="555.90" y="685.20" width="19.20" height="12.76" fill="#d4ea80" stroke="#333" stroke-width="1.2" /><line x1="555.90" y1="690.16" x2="575.10" y2="690.16" stroke="#333" stroke-width="2.0" /><line x1="590.40" y1="675.98" x2="590.40" y2="725.61" stroke="#222" stroke-width="1.3" /><rect x="580.80" y="692.29" width="19.20" height="15.24" fill="#9ed896" stroke="#333" stroke-width="1.2" /><line x1="580.80" y1="699.03" x2="600.00" y2="699.03" stroke="#333" stroke-width="2.0" /><line x1="615.00" y1="666.06" x2="615.00" y2="702.22" stroke="#222" stroke-width="1.3" /><rect x="605.40" y="679.88" width="19.20" height="15.24" fill="#82a0dc" stroke="#333" stroke-width="1.2" /><line x1="605.40" y1="685.20" x2="624.60" y2="685.20" stroke="#333" stroke-width="2.0" /><line x1="639.40" y1="695.84" x2="639.40" y2="724.20" stroke="#222" stroke-width="1.3" /><rect x="629.80" y="703.28" width="19.20" height="14.53" fill="#78bb84" stroke="#333" stroke-width="1.2" /><line x1="629.80" y1="712.14" x2="649.00" y2="712.14" stroke="#333" stroke-width="2.0" /><line x1="664.20" y1="671.73" x2="664.20" y2="717.11" stroke="#222" stroke-width="1.3" /><rect x="654.60" y="688.75" width="19.20" height="11.34" fill="#b891c8" stroke="#333" stroke-width="1.2" /><line x1="654.60" y1="694.42" x2="673.80" y2="694.42" stroke="#333" stroke-width="2.0" /><g fill="#3a3a3a" fill-opacity="0.55" stroke="#000" stroke-opacity="0.7" stroke-width="0.45"><circle cx="546.31" cy="710.57" r="1.85"/><circle cx="545.63" cy="695.11" r="1.85"/><circle cx="536.11" cy="699.82" r="1.85"/><circle cx="537.79" cy="701.68" r="1.85"/><circle cx="545.35" cy="688.34" r="1.85"/><circle cx="537.62" cy="696.64" r="1.85"/><circle cx="546.27" cy="699.78" r="1.85"/><circle cx="540.70" cy="680.64" r="1.85"/><circle cx="543.05" cy="701.81" r="1.85"/><circle cx="543.16" cy="708.89" r="1.85"/><circle cx="536.78" cy="709.92" r="1.85"/><circle cx="537.71" cy="702.10" r="1.85"/><circle cx="537.31" cy="691.18" r="1.85"/><circle cx="542.88" cy="689.40" r="1.85"/><circle cx="543.02" cy="686.76" r="1.85"/><circle cx="535.71" cy="680.18" r="1.85"/><circle cx="545.52" cy="681.37" r="1.85"/><circle cx="539.46" cy="691.10" r="1.85"/><circle cx="537.14" cy="684.72" r="1.85"/><circle cx="539.66" cy="690.91" r="1.85"/><circle cx="546.73" cy="702.13" r="1.85"/><circle cx="541.28" cy="689.23" r="1.85"/><circle cx="542.12" cy="696.27" r="1.85"/><circle cx="545.96" cy="698.75" r="1.85"/><circle cx="546.51" cy="678.26" r="1.85"/><circle cx="543.89" cy="689.62" r="1.85"/><circle cx="539.43" cy="701.27" r="1.85"/><circle cx="541.65" cy="697.48" r="1.85"/><circle cx="545.71" cy="675.01" r="1.85"/><circle cx="544.26" cy="699.06" r="1.85"/><circle cx="541.54" cy="689.90" r="1.85"/><circle cx="538.52" cy="690.97" r="1.85"/><circle cx="538.79" cy="691.98" r="1.85"/><circle cx="543.57" cy="691.27" r="1.85"/><circle cx="541.32" cy="701.23" r="1.85"/><circle cx="534.22" cy="701.06" r="1.85"/><circle cx="543.23" cy="698.23" r="1.85"/><circle cx="545.75" cy="700.08" r="1.85"/><circle cx="544.37" cy="689.20" r="1.85"/><circle cx="545.67" cy="682.34" r="1.85"/><circle cx="545.84" cy="705.04" r="1.85"/><circle cx="540.95" cy="691.63" r="1.85"/><circle cx="544.26" cy="705.89" r="1.85"/><circle cx="538.93" cy="703.20" r="1.85"/><circle cx="535.28" cy="698.97" r="1.85"/><circle cx="538.59" cy="695.73" r="1.85"/><circle cx="538.06" cy="700.83" r="1.85"/><circle cx="546.14" cy="721.11" r="1.85"/><circle cx="542.96" cy="683.80" r="1.85"/><circle cx="541.04" cy="699.27" r="1.85"/><circle cx="542.09" cy="702.68" r="1.85"/><circle cx="535.62" cy="690.38" r="1.85"/><circle cx="540.95" cy="702.32" r="1.85"/><circle cx="543.11" cy="710.08" r="1.85"/><circle cx="539.12" cy="692.16" r="1.85"/><circle cx="537.19" cy="692.83" r="1.85"/><circle cx="539.29" cy="704.46" r="1.85"/><circle cx="538.21" cy="688.90" r="1.85"/><circle cx="542.91" cy="693.25" r="1.85"/><circle cx="535.84" cy="707.34" r="1.85"/><circle cx="535.18" cy="680.38" r="1.85"/><circle cx="538.06" cy="694.24" r="1.85"/><circle cx="543.05" cy="707.35" r="1.85"/><circle cx="543.88" cy="692.51" r="1.85"/><circle cx="542.57" cy="695.56" r="1.85"/><circle cx="546.15" cy="687.67" r="1.85"/><circle cx="538.75" cy="709.35" r="1.85"/><circle cx="534.39" cy="687.02" r="1.85"/><circle cx="540.34" cy="687.94" r="1.85"/><circle cx="539.77" cy="690.25" r="1.85"/><circle cx="536.33" cy="691.04" r="1.85"/><circle cx="542.68" cy="684.46" r="1.85"/><circle cx="538.44" cy="690.03" r="1.85"/><circle cx="537.10" cy="695.55" r="1.85"/><circle cx="538.26" cy="704.57" r="1.85"/><circle cx="546.27" cy="686.36" r="1.85"/><circle cx="534.10" cy="687.57" r="1.85"/><circle cx="538.68" cy="693.97" r="1.85"/><circle cx="537.64" cy="695.33" r="1.85"/><circle cx="536.62" cy="690.00" r="1.85"/><circle cx="539.62" cy="720.27" r="1.85"/><circle cx="536.86" cy="693.79" r="1.85"/><circle cx="545.95" cy="720.12" r="1.85"/><circle cx="540.51" cy="694.51" r="1.85"/><circle cx="543.08" cy="686.89" r="1.85"/><circle cx="536.11" cy="679.06" r="1.85"/><circle cx="540.04" cy="701.18" r="1.85"/><circle cx="541.88" cy="692.75" r="1.85"/><circle cx="544.96" cy="697.44" r="1.85"/><circle cx="537.25" cy="717.58" r="1.85"/><circle cx="539.98" cy="689.97" r="1.85"/><circle cx="545.11" cy="696.95" r="1.85"/><circle cx="544.81" cy="696.16" r="1.85"/><circle cx="536.96" cy="705.61" r="1.85"/><circle cx="540.99" cy="697.19" r="1.85"/><circle cx="543.90" cy="696.04" r="1.85"/><circle cx="539.14" cy="684.85" r="1.85"/><circle cx="542.75" cy="694.07" r="1.85"/><circle cx="542.62" cy="695.65" r="1.85"/><circle cx="546.64" cy="700.63" r="1.85"/><circle cx="541.20" cy="689.21" r="1.85"/><circle cx="542.85" cy="696.04" r="1.85"/><circle cx="538.55" cy="693.20" r="1.85"/><circle cx="543.52" cy="714.18" r="1.85"/><circle cx="538.19" cy="701.51" r="1.85"/><circle cx="540.50" cy="702.37" r="1.85"/><circle cx="538.69" cy="707.60" r="1.85"/><circle cx="537.99" cy="699.04" r="1.85"/><circle cx="535.77" cy="702.28" r="1.85"/><circle cx="536.93" cy="702.40" r="1.85"/><circle cx="541.08" cy="746.88" r="1.85"/><circle cx="537.27" cy="744.05" r="1.85"/><circle cx="534.60" cy="734.83" r="1.85"/><circle cx="544.45" cy="732.70" r="1.85"/><circle cx="537.71" cy="719.23" r="1.85"/></g><g fill="#3a3a3a" fill-opacity="0.55" stroke="#000" stroke-opacity="0.7" stroke-width="0.45"><circle cx="569.67" cy="683.47" r="1.85"/><circle cx="563.66" cy="696.03" r="1.85"/><circle cx="568.55" cy="703.34" r="1.85"/><circle cx="562.97" cy="683.04" r="1.85"/><circle cx="560.78" cy="687.31" r="1.85"/><circle cx="570.25" cy="696.04" r="1.85"/><circle cx="569.83" cy="685.15" r="1.85"/><circle cx="561.75" cy="685.08" r="1.85"/><circle cx="570.44" cy="686.95" r="1.85"/><circle cx="559.32" cy="700.40" r="1.85"/><circle cx="563.01" cy="690.72" r="1.85"/><circle cx="559.17" cy="699.43" r="1.85"/><circle cx="561.22" cy="696.38" r="1.85"/><circle cx="561.12" cy="696.03" r="1.85"/><circle cx="568.31" cy="698.07" r="1.85"/><circle cx="562.86" cy="688.46" r="1.85"/><circle cx="561.47" cy="697.65" r="1.85"/><circle cx="561.39" cy="687.54" r="1.85"/><circle cx="563.06" cy="690.77" r="1.85"/><circle cx="570.21" cy="696.34" r="1.85"/><circle cx="566.89" cy="690.78" r="1.85"/><circle cx="560.33" cy="687.07" r="1.85"/><circle cx="567.90" cy="683.81" r="1.85"/><circle cx="565.97" cy="693.85" r="1.85"/><circle cx="564.83" cy="684.17" r="1.85"/><circle cx="565.86" cy="687.89" r="1.85"/><circle cx="567.47" cy="728.45" r="1.85"/></g><g fill="#3a3a3a" fill-opacity="0.55" stroke="#000" stroke-opacity="0.7" stroke-width="0.45"><circle cx="586.13" cy="695.87" r="1.85"/><circle cx="589.60" cy="712.87" r="1.85"/><circle cx="587.57" cy="708.48" r="1.85"/><circle cx="594.84" cy="709.67" r="1.85"/><circle cx="586.93" cy="707.58" r="1.85"/><circle cx="586.45" cy="708.48" r="1.85"/><circle cx="592.20" cy="711.86" r="1.85"/><circle cx="592.18" cy="693.12" r="1.85"/><circle cx="591.57" cy="702.09" r="1.85"/><circle cx="590.12" cy="709.03" r="1.85"/><circle cx="596.37" cy="688.34" r="1.85"/><circle cx="589.86" cy="706.09" r="1.85"/><circle cx="596.08" cy="689.40" r="1.85"/><circle cx="588.99" cy="713.78" r="1.85"/><circle cx="589.95" cy="683.55" r="1.85"/><circle cx="588.57" cy="704.74" r="1.85"/><circle cx="593.20" cy="710.46" r="1.85"/><circle cx="593.67" cy="694.95" r="1.85"/><circle cx="587.01" cy="714.90" r="1.85"/><circle cx="590.74" cy="711.98" r="1.85"/><circle cx="593.34" cy="696.92" r="1.85"/><circle cx="590.42" cy="705.15" r="1.85"/><circle cx="592.51" cy="695.07" r="1.85"/><circle cx="591.91" cy="698.02" r="1.85"/><circle cx="593.19" cy="696.75" r="1.85"/><circle cx="588.52" cy="698.14" r="1.85"/><circle cx="587.89" cy="691.51" r="1.85"/><circle cx="584.22" cy="699.64" r="1.85"/><circle cx="595.47" cy="687.02" r="1.85"/><circle cx="594.17" cy="688.83" r="1.85"/><circle cx="588.97" cy="722.08" r="1.85"/><circle cx="596.47" cy="719.68" r="1.85"/><circle cx="595.63" cy="681.86" r="1.85"/><circle cx="585.87" cy="704.71" r="1.85"/><circle cx="594.78" cy="697.52" r="1.85"/><circle cx="589.37" cy="700.93" r="1.85"/><circle cx="587.99" cy="696.51" r="1.85"/><circle cx="587.27" cy="702.76" r="1.85"/><circle cx="589.28" cy="694.95" r="1.85"/><circle cx="584.57" cy="681.72" r="1.85"/><circle cx="584.56" cy="712.68" r="1.85"/><circle cx="585.42" cy="693.53" r="1.85"/><circle cx="587.89" cy="703.49" r="1.85"/><circle cx="585.96" cy="692.36" r="1.85"/><circle cx="585.48" cy="686.86" r="1.85"/><circle cx="594.71" cy="692.02" r="1.85"/><circle cx="588.84" cy="687.97" r="1.85"/><circle cx="590.27" cy="709.85" r="1.85"/><circle cx="591.72" cy="690.26" r="1.85"/><circle cx="596.03" cy="704.46" r="1.85"/><circle cx="585.80" cy="707.76" r="1.85"/><circle cx="586.86" cy="696.40" r="1.85"/><circle cx="595.08" cy="700.97" r="1.85"/><circle cx="595.73" cy="701.66" r="1.85"/><circle cx="596.01" cy="698.34" r="1.85"/><circle cx="590.77" cy="687.19" r="1.85"/><circle cx="588.67" cy="702.62" r="1.85"/><circle cx="586.35" cy="721.15" r="1.85"/><circle cx="595.74" cy="699.62" r="1.85"/><circle cx="593.85" cy="710.41" r="1.85"/><circle cx="591.07" cy="716.71" r="1.85"/><circle cx="594.19" cy="684.79" r="1.85"/><circle cx="587.29" cy="687.05" r="1.85"/><circle cx="590.84" cy="700.95" r="1.85"/><circle cx="595.68" cy="694.69" r="1.85"/><circle cx="585.31" cy="685.16" r="1.85"/><circle cx="591.93" cy="710.56" r="1.85"/><circle cx="586.31" cy="702.49" r="1.85"/><circle cx="594.79" cy="698.72" r="1.85"/><circle cx="594.81" cy="688.98" r="1.85"/><circle cx="592.27" cy="704.58" r="1.85"/><circle cx="589.57" cy="703.92" r="1.85"/><circle cx="584.18" cy="689.00" r="1.85"/><circle cx="590.32" cy="707.21" r="1.85"/><circle cx="588.57" cy="700.25" r="1.85"/><circle cx="589.10" cy="688.28" r="1.85"/><circle cx="584.91" cy="685.25" r="1.85"/><circle cx="595.86" cy="688.97" r="1.85"/><circle cx="590.69" cy="704.81" r="1.85"/><circle cx="591.20" cy="705.24" r="1.85"/><circle cx="594.85" cy="714.67" r="1.85"/><circle cx="595.55" cy="704.63" r="1.85"/><circle cx="591.05" cy="709.88" r="1.85"/><circle cx="590.97" cy="705.25" r="1.85"/><circle cx="594.91" cy="703.99" r="1.85"/><circle cx="588.74" cy="690.21" r="1.85"/><circle cx="595.61" cy="689.93" r="1.85"/><circle cx="584.22" cy="700.24" r="1.85"/><circle cx="594.25" cy="712.68" r="1.85"/><circle cx="590.76" cy="700.28" r="1.85"/><circle cx="591.99" cy="694.76" r="1.85"/><circle cx="596.78" cy="689.94" r="1.85"/><circle cx="586.76" cy="697.29" r="1.85"/><circle cx="589.20" cy="690.48" r="1.85"/><circle cx="594.29" cy="707.16" r="1.85"/><circle cx="593.61" cy="692.29" r="1.85"/><circle cx="590.71" cy="691.28" r="1.85"/><circle cx="594.00" cy="703.71" r="1.85"/><circle cx="592.70" cy="708.31" r="1.85"/><circle cx="595.20" cy="685.66" r="1.85"/><circle cx="592.35" cy="711.00" r="1.85"/><circle cx="588.62" cy="691.87" r="1.85"/><circle cx="587.63" cy="702.75" r="1.85"/><circle cx="584.97" cy="703.64" r="1.85"/><circle cx="585.50" cy="702.57" r="1.85"/><circle cx="584.45" cy="704.70" r="1.85"/><circle cx="596.58" cy="700.12" r="1.85"/><circle cx="585.73" cy="679.42" r="1.85"/><circle cx="591.74" cy="683.15" r="1.85"/><circle cx="585.64" cy="701.20" r="1.85"/><circle cx="596.46" cy="756.10" r="1.85"/><circle cx="590.83" cy="740.50" r="1.85"/><circle cx="586.20" cy="735.54" r="1.85"/></g><g fill="#3a3a3a" fill-opacity="0.55" stroke="#000" stroke-opacity="0.7" stroke-width="0.45"><circle cx="609.36" cy="678.15" r="1.85"/><circle cx="610.78" cy="702.82" r="1.85"/><circle cx="614.10" cy="680.13" r="1.85"/><circle cx="619.15" cy="687.52" r="1.85"/><circle cx="617.33" cy="697.71" r="1.85"/><circle cx="621.48" cy="678.83" r="1.85"/><circle cx="618.63" cy="689.04" r="1.85"/><circle cx="614.18" cy="674.90" r="1.85"/><circle cx="620.35" cy="691.27" r="1.85"/><circle cx="612.62" cy="701.28" r="1.85"/><circle cx="609.17" cy="679.73" r="1.85"/><circle cx="620.97" cy="700.36" r="1.85"/><circle cx="619.96" cy="690.03" r="1.85"/><circle cx="617.08" cy="671.53" r="1.85"/><circle cx="614.74" cy="691.75" r="1.85"/><circle cx="611.15" cy="684.35" r="1.85"/><circle cx="611.35" cy="673.87" r="1.85"/><circle cx="609.38" cy="684.95" r="1.85"/><circle cx="609.72" cy="689.19" r="1.85"/><circle cx="614.73" cy="683.43" r="1.85"/><circle cx="620.15" cy="696.14" r="1.85"/><circle cx="620.62" cy="686.02" r="1.85"/><circle cx="615.19" cy="692.04" r="1.85"/><circle cx="617.26" cy="676.01" r="1.85"/><circle cx="614.58" cy="697.61" r="1.85"/><circle cx="618.59" cy="689.35" r="1.85"/><circle cx="617.68" cy="666.69" r="1.85"/><circle cx="621.30" cy="688.22" r="1.85"/><circle cx="619.49" cy="692.25" r="1.85"/><circle cx="617.31" cy="668.80" r="1.85"/><circle cx="616.17" cy="695.24" r="1.85"/><circle cx="610.69" cy="666.73" r="1.85"/><circle cx="614.63" cy="679.08" r="1.85"/><circle cx="614.32" cy="683.76" r="1.85"/><circle cx="610.51" cy="674.28" r="1.85"/><circle cx="611.12" cy="692.25" r="1.85"/><circle cx="613.85" cy="688.30" r="1.85"/><circle cx="610.79" cy="692.62" r="1.85"/><circle cx="616.61" cy="669.76" r="1.85"/><circle cx="612.76" cy="670.45" r="1.85"/><circle cx="621.34" cy="741.21" r="1.85"/><circle cx="617.39" cy="739.79" r="1.85"/><circle cx="615.22" cy="738.38" r="1.85"/><circle cx="614.14" cy="744.05" r="1.85"/><circle cx="613.59" cy="730.58" r="1.85"/><circle cx="611.11" cy="739.08" r="1.85"/></g><g fill="#3a3a3a" fill-opacity="0.55" stroke="#000" stroke-opacity="0.7" stroke-width="0.45"><circle cx="635.11" cy="706.01" r="1.85"/><circle cx="635.93" cy="716.50" r="1.85"/><circle cx="642.40" cy="714.93" r="1.85"/><circle cx="639.20" cy="715.98" r="1.85"/><circle cx="644.47" cy="717.11" r="1.85"/><circle cx="634.97" cy="713.47" r="1.85"/><circle cx="634.05" cy="717.24" r="1.85"/><circle cx="645.10" cy="702.04" r="1.85"/></g><g fill="#3a3a3a" fill-opacity="0.55" stroke="#000" stroke-opacity="0.7" stroke-width="0.45"><circle cx="659.66" cy="706.96" r="1.85"/><circle cx="658.74" cy="704.77" r="1.85"/><circle cx="661.16" cy="700.41" r="1.85"/><circle cx="669.26" cy="697.08" r="1.85"/><circle cx="661.12" cy="683.63" r="1.85"/><circle cx="667.08" cy="696.74" r="1.85"/><circle cx="659.25" cy="690.43" r="1.85"/><circle cx="666.25" cy="698.14" r="1.85"/><circle cx="659.90" cy="697.10" r="1.85"/><circle cx="665.44" cy="682.76" r="1.85"/><circle cx="667.35" cy="694.83" r="1.85"/><circle cx="669.12" cy="675.46" r="1.85"/><circle cx="663.37" cy="695.40" r="1.85"/><circle cx="670.50" cy="691.11" r="1.85"/><circle cx="662.98" cy="691.02" r="1.85"/><circle cx="670.04" cy="688.37" r="1.85"/><circle cx="669.58" cy="675.84" r="1.85"/><circle cx="670.68" cy="701.69" r="1.85"/><circle cx="659.08" cy="700.19" r="1.85"/><circle cx="661.26" cy="704.29" r="1.85"/><circle cx="666.75" cy="677.02" r="1.85"/><circle cx="669.21" cy="690.30" r="1.85"/><circle cx="661.04" cy="690.46" r="1.85"/><circle cx="667.69" cy="690.41" r="1.85"/><circle cx="663.90" cy="713.28" r="1.85"/><circle cx="657.75" cy="687.28" r="1.85"/><circle cx="658.81" cy="693.67" r="1.85"/><circle cx="657.79" cy="691.87" r="1.85"/><circle cx="660.67" cy="694.06" r="1.85"/><circle cx="669.83" cy="695.83" r="1.85"/><circle cx="666.53" cy="695.67" r="1.85"/><circle cx="668.92" cy="700.57" r="1.85"/><circle cx="669.61" cy="697.18" r="1.85"/><circle cx="662.81" cy="688.67" r="1.85"/><circle cx="666.75" cy="715.89" r="1.85"/><circle cx="666.21" cy="686.74" r="1.85"/><circle cx="666.70" cy="688.54" r="1.85"/><circle cx="658.90" cy="705.51" r="1.85"/><circle cx="669.25" cy="689.87" r="1.85"/><circle cx="659.74" cy="691.90" r="1.85"/><circle cx="663.49" cy="700.09" r="1.85"/><circle cx="666.64" cy="678.19" r="1.85"/><circle cx="667.38" cy="693.18" r="1.85"/><circle cx="668.44" cy="696.26" r="1.85"/><circle cx="661.76" cy="707.85" r="1.85"/></g><rect x="526.00" y="652.60" width="152.40" height="107.20" fill="none" stroke="#333" stroke-width="1.0" /><line x1="524.00" y1="756.10" x2="526.00" y2="756.10" stroke="#333" stroke-width="0.8" /><text x="523.70" y="756.10" font-size="6.0" transform="rotate(-90 523.70 756.10)" text-anchor="middle" fill="#4d4d4d">0</text><line x1="524.00" y1="720.65" x2="526.00" y2="720.65" stroke="#333" stroke-width="0.8" /><text x="523.70" y="720.65" font-size="6.0" transform="rotate(-90 523.70 720.65)" text-anchor="middle" fill="#4d4d4d">5</text><line x1="524.00" y1="685.20" x2="526.00" y2="685.20" stroke="#333" stroke-width="0.8" /><text x="523.70" y="685.20" font-size="6.0" transform="rotate(-90 523.70 685.20)" text-anchor="middle" fill="#4d4d4d">10</text><line x1="540.50" y1="759.80" x2="540.50" y2="761.80" stroke="#333" stroke-width="0.8" /><text x="540.50" y="766.10" font-size="5.6" text-anchor="middle" fill="#4d4d4d">Ba.Sq</text><line x1="565.50" y1="759.80" x2="565.50" y2="761.80" stroke="#333" stroke-width="0.8" /><text x="565.50" y="766.10" font-size="5.6" text-anchor="middle" fill="#4d4d4d">LumNS</text><line x1="590.40" y1="759.80" x2="590.40" y2="761.80" stroke="#333" stroke-width="0.8" /><text x="590.40" y="766.10" font-size="5.6" text-anchor="middle" fill="#4d4d4d">LumP</text><line x1="615.00" y1="759.80" x2="615.00" y2="761.80" stroke="#333" stroke-width="0.8" /><text x="615.00" y="766.10" font-size="5.6" text-anchor="middle" fill="#4d4d4d">LumU</text><line x1="639.40" y1="759.80" x2="639.40" y2="761.80" stroke="#333" stroke-width="0.8" /><text x="639.40" y="766.10" font-size="5.6" text-anchor="middle" fill="#4d4d4d">NE.like</text><line x1="664.20" y1="759.80" x2="664.20" y2="761.80" stroke="#333" stroke-width="0.8" /><text x="664.20" y="766.10" font-size="5.6" text-anchor="middle" fill="#4d4d4d">Stroma.rich</text><text x="531.50" y="658.50" font-size="6.2" fill="#222">Kruskal−Wallis p = 1.6e−08</text><text x="591.70" y="642.80" font-size="9.4" text-anchor="middle" fill="#222" font-style="italic">APOBEC3B</text><text x="517.50" y="712.40" font-size="7.35" transform="rotate(-90 517.50 712.40)" text-anchor="middle" fill="#222">log2 APOBEC3B expression</text><defs><filter id="bl6" x="-20%" y="-50%" width="140%" height="200%"><feGaussianBlur stdDeviation="0.6"/></filter><filter id="bl7" x="-20%" y="-50%" width="140%" height="200%"><feGaussianBlur stdDeviation="0.7"/></filter><filter id="bl8" x="-20%" y="-50%" width="140%" height="200%"><feGaussianBlur stdDeviation="0.8"/></filter><filter id="bl12" x="-20%" y="-80%" width="140%" height="260%"><feGaussianBlur stdDeviation="1.2"/></filter></defs><text x="58.80" y="830.50" font-size="19">G</text><text x="97.70" y="831.00" font-size="11.8" text-anchor="middle" fill="#222">EV</text><text x="125.20" y="828.90" font-size="11.8" text-anchor="middle" fill="#222">A3A</text><rect x="84.70" y="837.60" width="55.90" height="30.10" fill="#fdfdfd" stroke="#2a2a2a" stroke-width="1.3" /><rect x="85.10" y="874.10" width="55.50" height="30.10" fill="#fdfdfd" stroke="#2a2a2a" stroke-width="1.3" /><rect x="85.60" y="908.50" width="55.80" height="29.80" fill="#fdfdfd" stroke="#2a2a2a" stroke-width="1.3" /><rect x="113.40" y="847.10" width="22.20" height="8.20" rx="4.10" fill="#000" fill-opacity="1.0" filter="url(#bl8)"/><rect x="114.00" y="858.00" width="20.00" height="3.00" rx="1.50" fill="#000" fill-opacity="0.06" filter="url(#bl12)"/><rect x="90.00" y="886.60" width="20.00" height="7.60" rx="3.80" fill="#777" fill-opacity="0.8" filter="url(#bl12)"/><rect x="117.30" y="885.40" width="20.30" height="9.60" rx="4.80" fill="#000" fill-opacity="1.0" filter="url(#bl8)"/><rect x="88.20" y="921.70" width="22.40" height="6.40" rx="3.20" fill="#000" fill-opacity="1.0" filter="url(#bl7)"/><rect x="115.60" y="921.40" width="22.20" height="5.60" rx="2.80" fill="#000" fill-opacity="1.0" filter="url(#bl7)"/><text x="72.00" y="858.50" font-size="9.2" text-anchor="end" fill="#222">25kD</text><line x1="72.70" y1="855.50" x2="85.00" y2="855.50" stroke="#222" stroke-width="1.0" /><text x="72.00" y="895.90" font-size="9.2" text-anchor="end" fill="#222">15kD</text><line x1="72.70" y1="893.50" x2="85.00" y2="893.50" stroke="#222" stroke-width="1.0" /><text x="72.00" y="932.90" font-size="9.2" text-anchor="end" fill="#222">37kD</text><line x1="72.70" y1="930.40" x2="85.00" y2="930.40" stroke="#222" stroke-width="1.0" /><text transform="translate(144.30 854.60) scale(1.07 1)" font-size="12.4" fill="#111">APOBEC3A-HA</text><text transform="translate(144.30 894.60) scale(1.07 1)" font-size="12.4" fill="#111">γH2A.X</text><text transform="translate(144.30 925.30) scale(1.07 1)" font-size="12.4" fill="#111">β-actin</text><line x1="90.00" y1="946.00" x2="135.50" y2="946.00" stroke="#111" stroke-width="1.3" /><text transform="translate(114.60 960.80) scale(1.06 1)" font-size="13.8" text-anchor="middle" fill="#111">BBN963</text><text x="352.20" y="836.40" font-size="18.5">H</text><text x="364.00" y="896.90" font-size="18.2" transform="rotate(-90 364.00 896.90)" text-anchor="middle" fill="#111">BBN963</text><line x1="365.60" y1="862.20" x2="365.60" y2="931.60" stroke="#111" stroke-width="1.1" /><text x="388.20" y="887.20" font-size="9.3" transform="rotate(-90 388.20 887.20)" text-anchor="middle" fill="#222">FoldΔ of mRNA expression</text><line x1="405.70" y1="842.40" x2="405.70" y2="944.50" stroke="#000" stroke-width="2.0" /><line x1="404.70" y1="943.50" x2="471.80" y2="943.50" stroke="#000" stroke-width="2.0" /><line x1="400.90" y1="943.50" x2="405.70" y2="943.50" stroke="#000" stroke-width="1.6" /><text x="400.30" y="946.80" font-size="9.2" text-anchor="end" font-weight="bold">0</text><line x1="400.90" y1="918.42" x2="405.70" y2="918.42" stroke="#000" stroke-width="1.6" /><text x="400.30" y="921.72" font-size="9.2" text-anchor="end" font-weight="bold">2</text><line x1="400.90" y1="893.35" x2="405.70" y2="893.35" stroke="#000" stroke-width="1.6" /><text x="400.30" y="896.65" font-size="9.2" text-anchor="end" font-weight="bold">4</text><line x1="400.90" y1="868.28" x2="405.70" y2="868.28" stroke="#000" stroke-width="1.6" /><text x="400.30" y="871.58" font-size="9.2" text-anchor="end" font-weight="bold">6</text><line x1="400.90" y1="843.20" x2="405.70" y2="843.20" stroke="#000" stroke-width="1.6" /><text x="400.30" y="846.50" font-size="9.2" text-anchor="end" font-weight="bold">8</text><line x1="423.70" y1="943.50" x2="423.70" y2="947.10" stroke="#000" stroke-width="1.6" /><text x="423.70" y="956.30" font-size="9.0" text-anchor="middle" fill="#333">EV</text><line x1="452.60" y1="943.50" x2="452.60" y2="947.10" stroke="#000" stroke-width="1.6" /><text x="452.60" y="956.30" font-size="9.0" text-anchor="middle" fill="#333">A3A</text><line x1="423.70" y1="929.71" x2="423.70" y2="932.22" stroke="#8a8a8a" stroke-width="1.4" /><line x1="419.70" y1="929.71" x2="427.70" y2="929.71" stroke="#8a8a8a" stroke-width="1.4" /><line x1="419.70" y1="932.22" x2="427.70" y2="932.22" stroke="#8a8a8a" stroke-width="1.4" /><line x1="415.10" y1="930.96" x2="433.10" y2="930.96" stroke="#111" stroke-width="1.8" /><circle cx="419.70" cy="931.26" r="1.9" fill="#8a8a8a" fill-opacity="0.9"/><circle cx="423.70" cy="930.56" r="1.9" fill="#8a8a8a" fill-opacity="0.9"/><circle cx="427.70" cy="931.16" r="1.9" fill="#8a8a8a" fill-opacity="0.9"/><line x1="452.60" y1="855.74" x2="452.60" y2="870.16" stroke="#6d80c2" stroke-width="1.8" /><line x1="447.30" y1="855.74" x2="457.90" y2="855.74" stroke="#6d80c2" stroke-width="1.8" /><line x1="447.30" y1="870.16" x2="457.90" y2="870.16" stroke="#6d80c2" stroke-width="1.8" /><circle cx="449.60" cy="858.25" r="1.6" fill="#6d80c2" /><circle cx="455.60" cy="858.87" r="1.6" fill="#6d80c2" /><circle cx="452.60" cy="870.16" r="1.6" fill="#6d80c2" /><line x1="443.30" y1="863.01" x2="462.40" y2="863.01" stroke="#111" stroke-width="1.9" /><line x1="423.70" y1="844.30" x2="453.60" y2="844.30" stroke="#000" stroke-width="1.9" /><text x="438.65" y="846.70" font-size="15.5" text-anchor="middle" font-weight="bold">****</text><text x="439.30" y="824.50" font-size="9.2" text-anchor="middle" fill="#222" font-style="italic">Dsg3</text><line x1="488.40" y1="842.40" x2="488.40" y2="944.50" stroke="#000" stroke-width="2.0" /><line x1="487.40" y1="943.50" x2="554.20" y2="943.50" stroke="#000" stroke-width="2.0" /><line x1="483.60" y1="943.50" x2="488.40" y2="943.50" stroke="#000" stroke-width="1.6" /><text x="483.00" y="946.80" font-size="9.2" text-anchor="end" font-weight="bold">0</text><line x1="483.60" y1="926.78" x2="488.40" y2="926.78" stroke="#000" stroke-width="1.6" /><text x="483.00" y="930.08" font-size="9.2" text-anchor="end" font-weight="bold">2</text><line x1="483.60" y1="910.07" x2="488.40" y2="910.07" stroke="#000" stroke-width="1.6" /><text x="483.00" y="913.37" font-size="9.2" text-anchor="end" font-weight="bold">4</text><line x1="483.60" y1="893.35" x2="488.40" y2="893.35" stroke="#000" stroke-width="1.6" /><text x="483.00" y="896.65" font-size="9.2" text-anchor="end" font-weight="bold">6</text><line x1="483.60" y1="876.63" x2="488.40" y2="876.63" stroke="#000" stroke-width="1.6" /><text x="483.00" y="879.93" font-size="9.2" text-anchor="end" font-weight="bold">8</text><line x1="483.60" y1="859.92" x2="488.40" y2="859.92" stroke="#000" stroke-width="1.6" /><text x="483.00" y="863.22" font-size="9.2" text-anchor="end" font-weight="bold">10</text><line x1="483.60" y1="843.20" x2="488.40" y2="843.20" stroke="#000" stroke-width="1.6" /><text x="483.00" y="846.50" font-size="9.2" text-anchor="end" font-weight="bold">12</text><line x1="506.80" y1="943.50" x2="506.80" y2="947.10" stroke="#000" stroke-width="1.6" /><text x="506.80" y="956.30" font-size="9.0" text-anchor="middle" fill="#333">EV</text><line x1="535.80" y1="943.50" x2="535.80" y2="947.10" stroke="#000" stroke-width="1.6" /><text x="535.80" y="956.30" font-size="9.0" text-anchor="middle" fill="#333">A3A</text><line x1="506.80" y1="931.38" x2="506.80" y2="938.49" stroke="#8a8a8a" stroke-width="1.4" /><line x1="502.80" y1="931.38" x2="510.80" y2="931.38" stroke="#8a8a8a" stroke-width="1.4" /><line x1="502.80" y1="938.49" x2="510.80" y2="938.49" stroke="#8a8a8a" stroke-width="1.4" /><line x1="498.20" y1="934.72" x2="516.20" y2="934.72" stroke="#111" stroke-width="1.8" /><circle cx="502.80" cy="935.02" r="1.9" fill="#8a8a8a" fill-opacity="0.9"/><circle cx="506.80" cy="934.32" r="1.9" fill="#8a8a8a" fill-opacity="0.9"/><circle cx="510.80" cy="934.92" r="1.9" fill="#8a8a8a" fill-opacity="0.9"/><line x1="535.80" y1="858.66" x2="535.80" y2="867.02" stroke="#6d80c2" stroke-width="1.8" /><line x1="530.90" y1="858.66" x2="540.70" y2="858.66" stroke="#6d80c2" stroke-width="1.8" /><line x1="530.90" y1="867.02" x2="540.70" y2="867.02" stroke="#6d80c2" stroke-width="1.8" /><circle cx="532.80" cy="860.75" r="1.6" fill="#6d80c2" /><circle cx="538.80" cy="860.75" r="1.6" fill="#6d80c2" /><circle cx="535.80" cy="866.60" r="1.6" fill="#6d80c2" /><line x1="526.50" y1="862.42" x2="545.60" y2="862.42" stroke="#111" stroke-width="1.9" /><line x1="506.80" y1="847.40" x2="536.80" y2="847.40" stroke="#000" stroke-width="1.9" /><text x="521.80" y="849.80" font-size="15.5" text-anchor="middle" font-weight="bold">****</text><text x="522.00" y="826.80" font-size="9.2" text-anchor="middle" fill="#222" font-style="italic">Ivl</text><line x1="571.50" y1="842.40" x2="571.50" y2="944.50" stroke="#000" stroke-width="2.0" /><line x1="570.50" y1="943.50" x2="637.60" y2="943.50" stroke="#000" stroke-width="2.0" /><line x1="566.70" y1="943.50" x2="571.50" y2="943.50" stroke="#000" stroke-width="1.6" /><text x="566.10" y="946.80" font-size="9.2" text-anchor="end" font-weight="bold">0</text><line x1="566.70" y1="926.78" x2="571.50" y2="926.78" stroke="#000" stroke-width="1.6" /><text x="566.10" y="930.08" font-size="9.2" text-anchor="end" font-weight="bold">5</text><line x1="566.70" y1="910.07" x2="571.50" y2="910.07" stroke="#000" stroke-width="1.6" /><text x="566.10" y="913.37" font-size="9.2" text-anchor="end" font-weight="bold">10</text><line x1="566.70" y1="893.35" x2="571.50" y2="893.35" stroke="#000" stroke-width="1.6" /><text x="566.10" y="896.65" font-size="9.2" text-anchor="end" font-weight="bold">15</text><line x1="566.70" y1="876.63" x2="571.50" y2="876.63" stroke="#000" stroke-width="1.6" /><text x="566.10" y="879.93" font-size="9.2" text-anchor="end" font-weight="bold">20</text><line x1="566.70" y1="859.92" x2="571.50" y2="859.92" stroke="#000" stroke-width="1.6" /><text x="566.10" y="863.22" font-size="9.2" text-anchor="end" font-weight="bold">25</text><line x1="566.70" y1="843.20" x2="571.50" y2="843.20" stroke="#000" stroke-width="1.6" /><text x="566.10" y="846.50" font-size="9.2" text-anchor="end" font-weight="bold">30</text><line x1="590.40" y1="943.50" x2="590.40" y2="947.10" stroke="#000" stroke-width="1.6" /><text x="590.40" y="956.30" font-size="9.0" text-anchor="middle" fill="#333">EV</text><line x1="618.60" y1="943.50" x2="618.60" y2="947.10" stroke="#000" stroke-width="1.6" /><text x="618.60" y="956.30" font-size="9.0" text-anchor="middle" fill="#333">A3A</text><line x1="590.40" y1="938.49" x2="590.40" y2="941.16" stroke="#8a8a8a" stroke-width="1.4" /><line x1="586.40" y1="938.49" x2="594.40" y2="938.49" stroke="#8a8a8a" stroke-width="1.4" /><line x1="586.40" y1="941.16" x2="594.40" y2="941.16" stroke="#8a8a8a" stroke-width="1.4" /><line x1="581.80" y1="939.82" x2="599.80" y2="939.82" stroke="#111" stroke-width="1.8" /><circle cx="586.40" cy="940.12" r="1.9" fill="#8a8a8a" fill-opacity="0.9"/><circle cx="590.40" cy="939.42" r="1.9" fill="#8a8a8a" fill-opacity="0.9"/><circle cx="594.40" cy="940.02" r="1.9" fill="#8a8a8a" fill-opacity="0.9"/><line x1="618.60" y1="857.91" x2="618.60" y2="881.98" stroke="#6d80c2" stroke-width="1.8" /><line x1="613.70" y1="857.91" x2="623.50" y2="857.91" stroke="#6d80c2" stroke-width="1.8" /><line x1="613.70" y1="881.98" x2="623.50" y2="881.98" stroke="#6d80c2" stroke-width="1.8" /><circle cx="618.60" cy="856.57" r="1.6" fill="#6d80c2" /><circle cx="618.60" cy="874.96" r="1.6" fill="#6d80c2" /><circle cx="618.60" cy="872.29" r="1.6" fill="#6d80c2" /><line x1="609.30" y1="869.95" x2="628.40" y2="869.95" stroke="#111" stroke-width="1.9" /><line x1="590.40" y1="844.60" x2="619.60" y2="844.60" stroke="#000" stroke-width="1.9" /><text x="605.00" y="847.00" font-size="15.5" text-anchor="middle" font-weight="bold">**</text><text x="604.30" y="825.00" font-size="9.2" text-anchor="middle" fill="#222" font-style="italic">Sprr1b</text>
</svg></body></html>
